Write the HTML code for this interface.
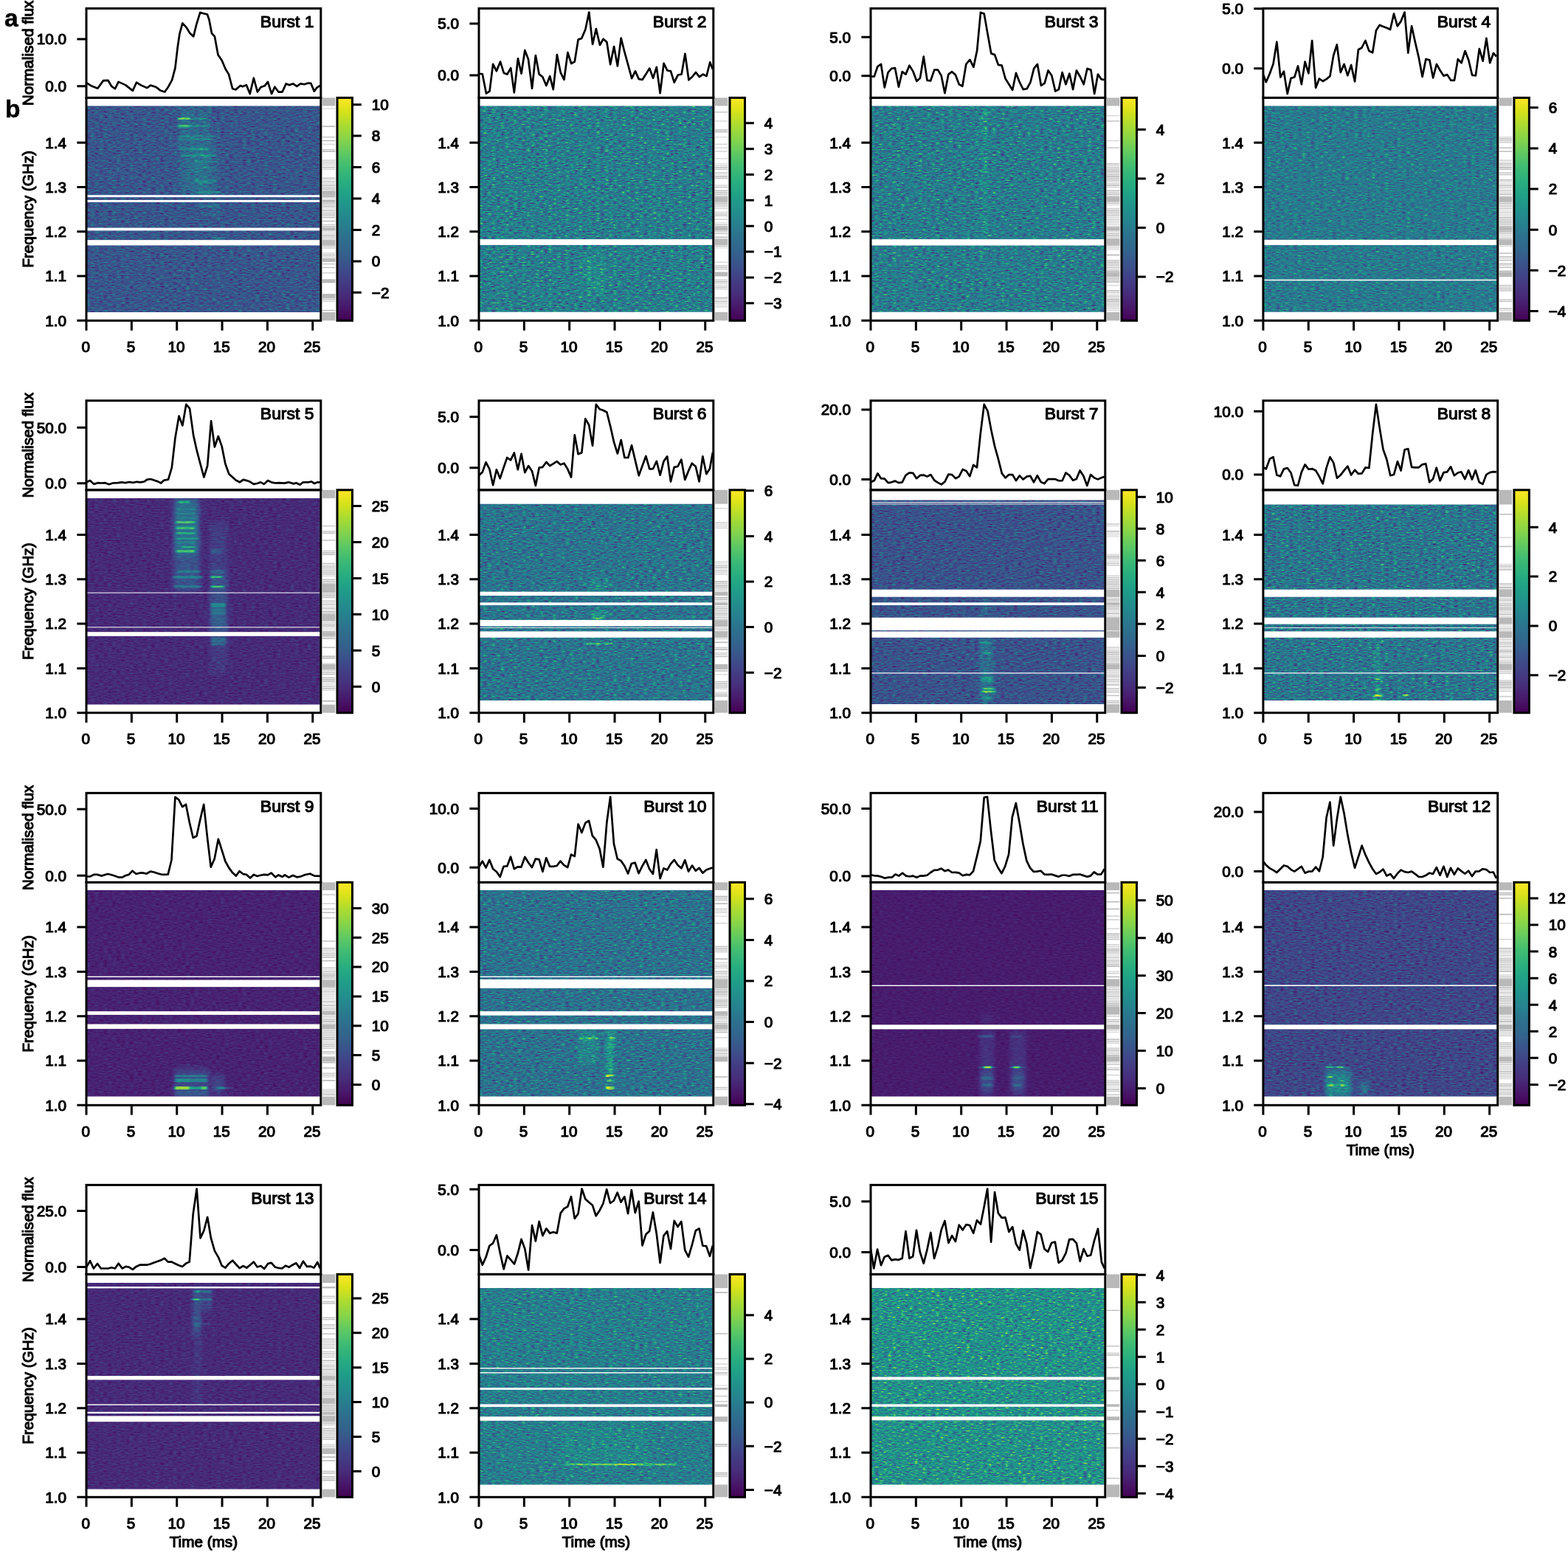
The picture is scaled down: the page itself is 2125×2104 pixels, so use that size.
<!DOCTYPE html>
<html><head><meta charset="utf-8"><title>Bursts</title>
<style>html,body{margin:0;padding:0;background:#fff}svg{display:block}.t text,.t{font-family:"Liberation Sans",Arial,Helvetica,sans-serif;font-size:20.7px;fill:#000;stroke:#000;stroke-width:1.15px;stroke-linejoin:round}.b{font-family:"Liberation Sans",Arial,Helvetica,sans-serif;font-size:33.5px;font-weight:bold;fill:#000;stroke:#000;stroke-width:0.5px;stroke-linejoin:round}</style></head>
<body>
<svg xmlns="http://www.w3.org/2000/svg" width="2125" height="2104" viewBox="0 0 2125 2104">
<rect width="2125" height="2104" fill="#fff"/>
<defs>
<filter id="soft" x="-30%" y="-30%" width="160%" height="160%" color-interpolation-filters="sRGB"><feGaussianBlur stdDeviation="2.5 5"/></filter>
<linearGradient id="vg" x1="0" y1="1" x2="0" y2="0"><stop offset="0" stop-color="#440154"/><stop offset="0.06" stop-color="#48186a"/><stop offset="0.12" stop-color="#472d7b"/><stop offset="0.19" stop-color="#424086"/><stop offset="0.25" stop-color="#3b528b"/><stop offset="0.31" stop-color="#33638d"/><stop offset="0.38" stop-color="#2c728e"/><stop offset="0.44" stop-color="#26828e"/><stop offset="0.5" stop-color="#21918c"/><stop offset="0.56" stop-color="#1fa088"/><stop offset="0.62" stop-color="#28ae80"/><stop offset="0.69" stop-color="#3fbc73"/><stop offset="0.75" stop-color="#5ec962"/><stop offset="0.81" stop-color="#84d44b"/><stop offset="0.88" stop-color="#addc30"/><stop offset="0.94" stop-color="#d8e219"/><stop offset="1" stop-color="#fde725"/></linearGradient>
<filter id="h1" filterUnits="userSpaceOnUse" x="-12" y="120" width="341.8" height="303.5" color-interpolation-filters="sRGB"><feTurbulence type="fractalNoise" baseFrequency="0.17 0.55" numOctaves="2" seed="10" result="n"/><feColorMatrix in="n" type="matrix" values="1 0 0 0 0 1 0 0 0 0 1 0 0 0 0 0 0 0 0 1"/><feComponentTransfer result="g"><feFuncR type="table" tableValues="0.200 0.200 0.210 0.230 0.260 0.310 0.365 0.405 0.440 0.472 0.500 0.528 0.560 0.595 0.635 0.710 0.780 0.820 0.840 0.850 0.850"/><feFuncG type="table" tableValues="0.200 0.200 0.210 0.230 0.260 0.310 0.365 0.405 0.440 0.472 0.500 0.528 0.560 0.595 0.635 0.710 0.780 0.820 0.840 0.850 0.850"/><feFuncB type="table" tableValues="0.200 0.200 0.210 0.230 0.260 0.310 0.365 0.405 0.440 0.472 0.500 0.528 0.560 0.595 0.635 0.710 0.780 0.820 0.840 0.850 0.850"/></feComponentTransfer><feGaussianBlur in="SourceGraphic" stdDeviation="1.5 0.45" result="s"/><feComposite in="s" in2="g" operator="arithmetic" k1="0" k2="1" k3="0.7030" k4="-0.3515"/><feComponentTransfer><feFuncR type="table" tableValues="0.2670 0.2770 0.2823 0.2829 0.2788 0.2706 0.2590 0.2450 0.2297 0.2143 0.1994 0.1856 0.1727 0.1607 0.1490 0.1378 0.1276 0.1206 0.1206 0.1323 0.1579 0.1966 0.2461 0.3041 0.3692 0.4401 0.5160 0.5958 0.6785 0.7624 0.8456 0.9261 0.9932"/><feFuncG type="table" tableValues="0.0049 0.0503 0.0950 0.1359 0.1755 0.2141 0.2515 0.2877 0.3224 0.3556 0.3876 0.4186 0.4488 0.4785 0.5081 0.5375 0.5669 0.5964 0.6258 0.6550 0.6838 0.7118 0.7389 0.7647 0.7889 0.8111 0.8312 0.8487 0.8637 0.8764 0.8873 0.8973 0.9062"/><feFuncB type="table" tableValues="0.3294 0.3757 0.4173 0.4534 0.4834 0.5071 0.5247 0.5373 0.5457 0.5512 0.5546 0.5568 0.5579 0.5581 0.5573 0.5549 0.5506 0.5436 0.5335 0.5197 0.5017 0.4792 0.4520 0.4199 0.3829 0.3410 0.2943 0.2433 0.1895 0.1371 0.0997 0.1041 0.1439"/><feFuncA type="linear" slope="0" intercept="1"/></feComponentTransfer></filter>
<clipPath id="c1"><rect x="1" y="132" width="315.8" height="279.5"/></clipPath>
<clipPath id="t1"><rect x="0" y="0" width="317.8" height="121"/></clipPath>
<filter id="h2" filterUnits="userSpaceOnUse" x="-12" y="120" width="341.8" height="303.4" color-interpolation-filters="sRGB"><feTurbulence type="fractalNoise" baseFrequency="0.17 0.55" numOctaves="2" seed="17" result="n"/><feColorMatrix in="n" type="matrix" values="1 0 0 0 0 1 0 0 0 0 1 0 0 0 0 0 0 0 0 1"/><feComponentTransfer result="g"><feFuncR type="table" tableValues="0.200 0.200 0.210 0.230 0.260 0.310 0.365 0.405 0.440 0.472 0.500 0.528 0.560 0.595 0.635 0.710 0.780 0.820 0.840 0.850 0.850"/><feFuncG type="table" tableValues="0.200 0.200 0.210 0.230 0.260 0.310 0.365 0.405 0.440 0.472 0.500 0.528 0.560 0.595 0.635 0.710 0.780 0.820 0.840 0.850 0.850"/><feFuncB type="table" tableValues="0.200 0.200 0.210 0.230 0.260 0.310 0.365 0.405 0.440 0.472 0.500 0.528 0.560 0.595 0.635 0.710 0.780 0.820 0.840 0.850 0.850"/></feComponentTransfer><feGaussianBlur in="SourceGraphic" stdDeviation="1.5 0.45" result="s"/><feComposite in="s" in2="g" operator="arithmetic" k1="0" k2="1" k3="1.1540" k4="-0.5770"/><feComponentTransfer><feFuncR type="table" tableValues="0.2670 0.2770 0.2823 0.2829 0.2788 0.2706 0.2590 0.2450 0.2297 0.2143 0.1994 0.1856 0.1727 0.1607 0.1490 0.1378 0.1276 0.1206 0.1206 0.1323 0.1579 0.1966 0.2461 0.3041 0.3692 0.4401 0.5160 0.5958 0.6785 0.7624 0.8456 0.9261 0.9932"/><feFuncG type="table" tableValues="0.0049 0.0503 0.0950 0.1359 0.1755 0.2141 0.2515 0.2877 0.3224 0.3556 0.3876 0.4186 0.4488 0.4785 0.5081 0.5375 0.5669 0.5964 0.6258 0.6550 0.6838 0.7118 0.7389 0.7647 0.7889 0.8111 0.8312 0.8487 0.8637 0.8764 0.8873 0.8973 0.9062"/><feFuncB type="table" tableValues="0.3294 0.3757 0.4173 0.4534 0.4834 0.5071 0.5247 0.5373 0.5457 0.5512 0.5546 0.5568 0.5579 0.5581 0.5573 0.5549 0.5506 0.5436 0.5335 0.5197 0.5017 0.4792 0.4520 0.4199 0.3829 0.3410 0.2943 0.2433 0.1895 0.1371 0.0997 0.1041 0.1439"/><feFuncA type="linear" slope="0" intercept="1"/></feComponentTransfer></filter>
<clipPath id="c2"><rect x="1" y="132" width="315.8" height="279.4"/></clipPath>
<clipPath id="t2"><rect x="0" y="0" width="317.8" height="121"/></clipPath>
<filter id="h3" filterUnits="userSpaceOnUse" x="-12" y="120" width="341.8" height="303.4" color-interpolation-filters="sRGB"><feTurbulence type="fractalNoise" baseFrequency="0.17 0.55" numOctaves="2" seed="24" result="n"/><feColorMatrix in="n" type="matrix" values="1 0 0 0 0 1 0 0 0 0 1 0 0 0 0 0 0 0 0 1"/><feComponentTransfer result="g"><feFuncR type="table" tableValues="0.200 0.200 0.210 0.230 0.260 0.310 0.365 0.405 0.440 0.472 0.500 0.528 0.560 0.595 0.635 0.710 0.780 0.820 0.840 0.850 0.850"/><feFuncG type="table" tableValues="0.200 0.200 0.210 0.230 0.260 0.310 0.365 0.405 0.440 0.472 0.500 0.528 0.560 0.595 0.635 0.710 0.780 0.820 0.840 0.850 0.850"/><feFuncB type="table" tableValues="0.200 0.200 0.210 0.230 0.260 0.310 0.365 0.405 0.440 0.472 0.500 0.528 0.560 0.595 0.635 0.710 0.780 0.820 0.840 0.850 0.850"/></feComponentTransfer><feGaussianBlur in="SourceGraphic" stdDeviation="1.5 0.45" result="s"/><feComposite in="s" in2="g" operator="arithmetic" k1="0" k2="1" k3="1.1020" k4="-0.5510"/><feComponentTransfer><feFuncR type="table" tableValues="0.2670 0.2770 0.2823 0.2829 0.2788 0.2706 0.2590 0.2450 0.2297 0.2143 0.1994 0.1856 0.1727 0.1607 0.1490 0.1378 0.1276 0.1206 0.1206 0.1323 0.1579 0.1966 0.2461 0.3041 0.3692 0.4401 0.5160 0.5958 0.6785 0.7624 0.8456 0.9261 0.9932"/><feFuncG type="table" tableValues="0.0049 0.0503 0.0950 0.1359 0.1755 0.2141 0.2515 0.2877 0.3224 0.3556 0.3876 0.4186 0.4488 0.4785 0.5081 0.5375 0.5669 0.5964 0.6258 0.6550 0.6838 0.7118 0.7389 0.7647 0.7889 0.8111 0.8312 0.8487 0.8637 0.8764 0.8873 0.8973 0.9062"/><feFuncB type="table" tableValues="0.3294 0.3757 0.4173 0.4534 0.4834 0.5071 0.5247 0.5373 0.5457 0.5512 0.5546 0.5568 0.5579 0.5581 0.5573 0.5549 0.5506 0.5436 0.5335 0.5197 0.5017 0.4792 0.4520 0.4199 0.3829 0.3410 0.2943 0.2433 0.1895 0.1371 0.0997 0.1041 0.1439"/><feFuncA type="linear" slope="0" intercept="1"/></feComponentTransfer></filter>
<clipPath id="c3"><rect x="1" y="132" width="315.8" height="279.4"/></clipPath>
<clipPath id="t3"><rect x="0" y="0" width="317.8" height="121"/></clipPath>
<filter id="h4" filterUnits="userSpaceOnUse" x="-12" y="120" width="341.8" height="303.4" color-interpolation-filters="sRGB"><feTurbulence type="fractalNoise" baseFrequency="0.17 0.55" numOctaves="2" seed="31" result="n"/><feColorMatrix in="n" type="matrix" values="1 0 0 0 0 1 0 0 0 0 1 0 0 0 0 0 0 0 0 1"/><feComponentTransfer result="g"><feFuncR type="table" tableValues="0.200 0.200 0.210 0.230 0.260 0.310 0.365 0.405 0.440 0.472 0.500 0.528 0.560 0.595 0.635 0.710 0.780 0.820 0.840 0.850 0.850"/><feFuncG type="table" tableValues="0.200 0.200 0.210 0.230 0.260 0.310 0.365 0.405 0.440 0.472 0.500 0.528 0.560 0.595 0.635 0.710 0.780 0.820 0.840 0.850 0.850"/><feFuncB type="table" tableValues="0.200 0.200 0.210 0.230 0.260 0.310 0.365 0.405 0.440 0.472 0.500 0.528 0.560 0.595 0.635 0.710 0.780 0.820 0.840 0.850 0.850"/></feComponentTransfer><feGaussianBlur in="SourceGraphic" stdDeviation="1.5 0.45" result="s"/><feComposite in="s" in2="g" operator="arithmetic" k1="0" k2="1" k3="0.9129" k4="-0.4564"/><feComponentTransfer><feFuncR type="table" tableValues="0.2670 0.2770 0.2823 0.2829 0.2788 0.2706 0.2590 0.2450 0.2297 0.2143 0.1994 0.1856 0.1727 0.1607 0.1490 0.1378 0.1276 0.1206 0.1206 0.1323 0.1579 0.1966 0.2461 0.3041 0.3692 0.4401 0.5160 0.5958 0.6785 0.7624 0.8456 0.9261 0.9932"/><feFuncG type="table" tableValues="0.0049 0.0503 0.0950 0.1359 0.1755 0.2141 0.2515 0.2877 0.3224 0.3556 0.3876 0.4186 0.4488 0.4785 0.5081 0.5375 0.5669 0.5964 0.6258 0.6550 0.6838 0.7118 0.7389 0.7647 0.7889 0.8111 0.8312 0.8487 0.8637 0.8764 0.8873 0.8973 0.9062"/><feFuncB type="table" tableValues="0.3294 0.3757 0.4173 0.4534 0.4834 0.5071 0.5247 0.5373 0.5457 0.5512 0.5546 0.5568 0.5579 0.5581 0.5573 0.5549 0.5506 0.5436 0.5335 0.5197 0.5017 0.4792 0.4520 0.4199 0.3829 0.3410 0.2943 0.2433 0.1895 0.1371 0.0997 0.1041 0.1439"/><feFuncA type="linear" slope="0" intercept="1"/></feComponentTransfer></filter>
<clipPath id="c4"><rect x="1" y="132" width="315.8" height="279.4"/></clipPath>
<clipPath id="t4"><rect x="0" y="0" width="317.8" height="121"/></clipPath>
<filter id="h5" filterUnits="userSpaceOnUse" x="-12" y="120.3" width="341.8" height="303.5" color-interpolation-filters="sRGB"><feTurbulence type="fractalNoise" baseFrequency="0.17 0.55" numOctaves="2" seed="38" result="n"/><feColorMatrix in="n" type="matrix" values="1 0 0 0 0 1 0 0 0 0 1 0 0 0 0 0 0 0 0 1"/><feComponentTransfer result="g"><feFuncR type="table" tableValues="0.200 0.200 0.210 0.230 0.260 0.310 0.365 0.405 0.440 0.472 0.500 0.528 0.560 0.595 0.635 0.710 0.780 0.820 0.840 0.850 0.850"/><feFuncG type="table" tableValues="0.200 0.200 0.210 0.230 0.260 0.310 0.365 0.405 0.440 0.472 0.500 0.528 0.560 0.595 0.635 0.710 0.780 0.820 0.840 0.850 0.850"/><feFuncB type="table" tableValues="0.200 0.200 0.210 0.230 0.260 0.310 0.365 0.405 0.440 0.472 0.500 0.528 0.560 0.595 0.635 0.710 0.780 0.820 0.840 0.850 0.850"/></feComponentTransfer><feGaussianBlur in="SourceGraphic" stdDeviation="1.5 0.45" result="s"/><feComposite in="s" in2="g" operator="arithmetic" k1="0" k2="1" k3="0.3243" k4="-0.1621"/><feComponentTransfer><feFuncR type="table" tableValues="0.2670 0.2770 0.2823 0.2829 0.2788 0.2706 0.2590 0.2450 0.2297 0.2143 0.1994 0.1856 0.1727 0.1607 0.1490 0.1378 0.1276 0.1206 0.1206 0.1323 0.1579 0.1966 0.2461 0.3041 0.3692 0.4401 0.5160 0.5958 0.6785 0.7624 0.8456 0.9261 0.9932"/><feFuncG type="table" tableValues="0.0049 0.0503 0.0950 0.1359 0.1755 0.2141 0.2515 0.2877 0.3224 0.3556 0.3876 0.4186 0.4488 0.4785 0.5081 0.5375 0.5669 0.5964 0.6258 0.6550 0.6838 0.7118 0.7389 0.7647 0.7889 0.8111 0.8312 0.8487 0.8637 0.8764 0.8873 0.8973 0.9062"/><feFuncB type="table" tableValues="0.3294 0.3757 0.4173 0.4534 0.4834 0.5071 0.5247 0.5373 0.5457 0.5512 0.5546 0.5568 0.5579 0.5581 0.5573 0.5549 0.5506 0.5436 0.5335 0.5197 0.5017 0.4792 0.4520 0.4199 0.3829 0.3410 0.2943 0.2433 0.1895 0.1371 0.0997 0.1041 0.1439"/><feFuncA type="linear" slope="0" intercept="1"/></feComponentTransfer></filter>
<clipPath id="c5"><rect x="1" y="132.3" width="315.8" height="279.5"/></clipPath>
<clipPath id="t5"><rect x="0" y="0" width="317.8" height="121"/></clipPath>
<filter id="h6" filterUnits="userSpaceOnUse" x="-12" y="127.9" width="341.8" height="290.3" color-interpolation-filters="sRGB"><feTurbulence type="fractalNoise" baseFrequency="0.17 0.55" numOctaves="2" seed="45" result="n"/><feColorMatrix in="n" type="matrix" values="1 0 0 0 0 1 0 0 0 0 1 0 0 0 0 0 0 0 0 1"/><feComponentTransfer result="g"><feFuncR type="table" tableValues="0.200 0.200 0.210 0.230 0.260 0.310 0.365 0.405 0.440 0.472 0.500 0.528 0.560 0.595 0.635 0.710 0.780 0.820 0.840 0.850 0.850"/><feFuncG type="table" tableValues="0.200 0.200 0.210 0.230 0.260 0.310 0.365 0.405 0.440 0.472 0.500 0.528 0.560 0.595 0.635 0.710 0.780 0.820 0.840 0.850 0.850"/><feFuncB type="table" tableValues="0.200 0.200 0.210 0.230 0.260 0.310 0.365 0.405 0.440 0.472 0.500 0.528 0.560 0.595 0.635 0.710 0.780 0.820 0.840 0.850 0.850"/></feComponentTransfer><feGaussianBlur in="SourceGraphic" stdDeviation="1.5 0.45" result="s"/><feComposite in="s" in2="g" operator="arithmetic" k1="0" k2="1" k3="1.0202" k4="-0.5101"/><feComponentTransfer><feFuncR type="table" tableValues="0.2670 0.2770 0.2823 0.2829 0.2788 0.2706 0.2590 0.2450 0.2297 0.2143 0.1994 0.1856 0.1727 0.1607 0.1490 0.1378 0.1276 0.1206 0.1206 0.1323 0.1579 0.1966 0.2461 0.3041 0.3692 0.4401 0.5160 0.5958 0.6785 0.7624 0.8456 0.9261 0.9932"/><feFuncG type="table" tableValues="0.0049 0.0503 0.0950 0.1359 0.1755 0.2141 0.2515 0.2877 0.3224 0.3556 0.3876 0.4186 0.4488 0.4785 0.5081 0.5375 0.5669 0.5964 0.6258 0.6550 0.6838 0.7118 0.7389 0.7647 0.7889 0.8111 0.8312 0.8487 0.8637 0.8764 0.8873 0.8973 0.9062"/><feFuncB type="table" tableValues="0.3294 0.3757 0.4173 0.4534 0.4834 0.5071 0.5247 0.5373 0.5457 0.5512 0.5546 0.5568 0.5579 0.5581 0.5573 0.5549 0.5506 0.5436 0.5335 0.5197 0.5017 0.4792 0.4520 0.4199 0.3829 0.3410 0.2943 0.2433 0.1895 0.1371 0.0997 0.1041 0.1439"/><feFuncA type="linear" slope="0" intercept="1"/></feComponentTransfer></filter>
<clipPath id="c6"><rect x="1" y="139.9" width="315.8" height="266.3"/></clipPath>
<clipPath id="t6"><rect x="0" y="0" width="317.8" height="121"/></clipPath>
<filter id="h7" filterUnits="userSpaceOnUse" x="-12" y="122.6" width="341.8" height="300.7" color-interpolation-filters="sRGB"><feTurbulence type="fractalNoise" baseFrequency="0.17 0.55" numOctaves="2" seed="52" result="n"/><feColorMatrix in="n" type="matrix" values="1 0 0 0 0 1 0 0 0 0 1 0 0 0 0 0 0 0 0 1"/><feComponentTransfer result="g"><feFuncR type="table" tableValues="0.200 0.200 0.210 0.230 0.260 0.310 0.365 0.405 0.440 0.472 0.500 0.528 0.560 0.595 0.635 0.710 0.780 0.820 0.840 0.850 0.850"/><feFuncG type="table" tableValues="0.200 0.200 0.210 0.230 0.260 0.310 0.365 0.405 0.440 0.472 0.500 0.528 0.560 0.595 0.635 0.710 0.780 0.820 0.840 0.850 0.850"/><feFuncB type="table" tableValues="0.200 0.200 0.210 0.230 0.260 0.310 0.365 0.405 0.440 0.472 0.500 0.528 0.560 0.595 0.635 0.710 0.780 0.820 0.840 0.850 0.850"/></feComponentTransfer><feGaussianBlur in="SourceGraphic" stdDeviation="1.5 0.45" result="s"/><feComposite in="s" in2="g" operator="arithmetic" k1="0" k2="1" k3="0.7128" k4="-0.3564"/><feComponentTransfer><feFuncR type="table" tableValues="0.2670 0.2770 0.2823 0.2829 0.2788 0.2706 0.2590 0.2450 0.2297 0.2143 0.1994 0.1856 0.1727 0.1607 0.1490 0.1378 0.1276 0.1206 0.1206 0.1323 0.1579 0.1966 0.2461 0.3041 0.3692 0.4401 0.5160 0.5958 0.6785 0.7624 0.8456 0.9261 0.9932"/><feFuncG type="table" tableValues="0.0049 0.0503 0.0950 0.1359 0.1755 0.2141 0.2515 0.2877 0.3224 0.3556 0.3876 0.4186 0.4488 0.4785 0.5081 0.5375 0.5669 0.5964 0.6258 0.6550 0.6838 0.7118 0.7389 0.7647 0.7889 0.8111 0.8312 0.8487 0.8637 0.8764 0.8873 0.8973 0.9062"/><feFuncB type="table" tableValues="0.3294 0.3757 0.4173 0.4534 0.4834 0.5071 0.5247 0.5373 0.5457 0.5512 0.5546 0.5568 0.5579 0.5581 0.5573 0.5549 0.5506 0.5436 0.5335 0.5197 0.5017 0.4792 0.4520 0.4199 0.3829 0.3410 0.2943 0.2433 0.1895 0.1371 0.0997 0.1041 0.1439"/><feFuncA type="linear" slope="0" intercept="1"/></feComponentTransfer></filter>
<clipPath id="c7"><rect x="1" y="134.6" width="315.8" height="276.7"/></clipPath>
<clipPath id="t7"><rect x="0" y="0" width="317.8" height="121"/></clipPath>
<filter id="h8" filterUnits="userSpaceOnUse" x="-12" y="128.7" width="341.8" height="289.5" color-interpolation-filters="sRGB"><feTurbulence type="fractalNoise" baseFrequency="0.17 0.55" numOctaves="2" seed="59" result="n"/><feColorMatrix in="n" type="matrix" values="1 0 0 0 0 1 0 0 0 0 1 0 0 0 0 0 0 0 0 1"/><feComponentTransfer result="g"><feFuncR type="table" tableValues="0.200 0.200 0.210 0.230 0.260 0.310 0.365 0.405 0.440 0.472 0.500 0.528 0.560 0.595 0.635 0.710 0.780 0.820 0.840 0.850 0.850"/><feFuncG type="table" tableValues="0.200 0.200 0.210 0.230 0.260 0.310 0.365 0.405 0.440 0.472 0.500 0.528 0.560 0.595 0.635 0.710 0.780 0.820 0.840 0.850 0.850"/><feFuncB type="table" tableValues="0.200 0.200 0.210 0.230 0.260 0.310 0.365 0.405 0.440 0.472 0.500 0.528 0.560 0.595 0.635 0.710 0.780 0.820 0.840 0.850 0.850"/></feComponentTransfer><feGaussianBlur in="SourceGraphic" stdDeviation="1.5 0.45" result="s"/><feComposite in="s" in2="g" operator="arithmetic" k1="0" k2="1" k3="1.1063" k4="-0.5532"/><feComponentTransfer><feFuncR type="table" tableValues="0.2670 0.2770 0.2823 0.2829 0.2788 0.2706 0.2590 0.2450 0.2297 0.2143 0.1994 0.1856 0.1727 0.1607 0.1490 0.1378 0.1276 0.1206 0.1206 0.1323 0.1579 0.1966 0.2461 0.3041 0.3692 0.4401 0.5160 0.5958 0.6785 0.7624 0.8456 0.9261 0.9932"/><feFuncG type="table" tableValues="0.0049 0.0503 0.0950 0.1359 0.1755 0.2141 0.2515 0.2877 0.3224 0.3556 0.3876 0.4186 0.4488 0.4785 0.5081 0.5375 0.5669 0.5964 0.6258 0.6550 0.6838 0.7118 0.7389 0.7647 0.7889 0.8111 0.8312 0.8487 0.8637 0.8764 0.8873 0.8973 0.9062"/><feFuncB type="table" tableValues="0.3294 0.3757 0.4173 0.4534 0.4834 0.5071 0.5247 0.5373 0.5457 0.5512 0.5546 0.5568 0.5579 0.5581 0.5573 0.5549 0.5506 0.5436 0.5335 0.5197 0.5017 0.4792 0.4520 0.4199 0.3829 0.3410 0.2943 0.2433 0.1895 0.1371 0.0997 0.1041 0.1439"/><feFuncA type="linear" slope="0" intercept="1"/></feComponentTransfer></filter>
<clipPath id="c8"><rect x="1" y="140.7" width="315.8" height="265.5"/></clipPath>
<clipPath id="t8"><rect x="0" y="0" width="317.8" height="121"/></clipPath>
<filter id="h9" filterUnits="userSpaceOnUse" x="-12" y="119.7" width="341.8" height="303.5" color-interpolation-filters="sRGB"><feTurbulence type="fractalNoise" baseFrequency="0.17 0.55" numOctaves="2" seed="66" result="n"/><feColorMatrix in="n" type="matrix" values="1 0 0 0 0 1 0 0 0 0 1 0 0 0 0 0 0 0 0 1"/><feComponentTransfer result="g"><feFuncR type="table" tableValues="0.200 0.200 0.210 0.230 0.260 0.310 0.365 0.405 0.440 0.472 0.500 0.528 0.560 0.595 0.635 0.710 0.780 0.820 0.840 0.850 0.850"/><feFuncG type="table" tableValues="0.200 0.200 0.210 0.230 0.260 0.310 0.365 0.405 0.440 0.472 0.500 0.528 0.560 0.595 0.635 0.710 0.780 0.820 0.840 0.850 0.850"/><feFuncB type="table" tableValues="0.200 0.200 0.210 0.230 0.260 0.310 0.365 0.405 0.440 0.472 0.500 0.528 0.560 0.595 0.635 0.710 0.780 0.820 0.840 0.850 0.850"/></feComponentTransfer><feGaussianBlur in="SourceGraphic" stdDeviation="1.5 0.45" result="s"/><feComposite in="s" in2="g" operator="arithmetic" k1="0" k2="1" k3="0.2639" k4="-0.1319"/><feComponentTransfer><feFuncR type="table" tableValues="0.2670 0.2770 0.2823 0.2829 0.2788 0.2706 0.2590 0.2450 0.2297 0.2143 0.1994 0.1856 0.1727 0.1607 0.1490 0.1378 0.1276 0.1206 0.1206 0.1323 0.1579 0.1966 0.2461 0.3041 0.3692 0.4401 0.5160 0.5958 0.6785 0.7624 0.8456 0.9261 0.9932"/><feFuncG type="table" tableValues="0.0049 0.0503 0.0950 0.1359 0.1755 0.2141 0.2515 0.2877 0.3224 0.3556 0.3876 0.4186 0.4488 0.4785 0.5081 0.5375 0.5669 0.5964 0.6258 0.6550 0.6838 0.7118 0.7389 0.7647 0.7889 0.8111 0.8312 0.8487 0.8637 0.8764 0.8873 0.8973 0.9062"/><feFuncB type="table" tableValues="0.3294 0.3757 0.4173 0.4534 0.4834 0.5071 0.5247 0.5373 0.5457 0.5512 0.5546 0.5568 0.5579 0.5581 0.5573 0.5549 0.5506 0.5436 0.5335 0.5197 0.5017 0.4792 0.4520 0.4199 0.3829 0.3410 0.2943 0.2433 0.1895 0.1371 0.0997 0.1041 0.1439"/><feFuncA type="linear" slope="0" intercept="1"/></feComponentTransfer></filter>
<clipPath id="c9"><rect x="1" y="131.7" width="315.8" height="279.5"/></clipPath>
<clipPath id="t9"><rect x="0" y="0" width="317.8" height="121"/></clipPath>
<filter id="h10" filterUnits="userSpaceOnUse" x="-12" y="119.7" width="341.8" height="303.5" color-interpolation-filters="sRGB"><feTurbulence type="fractalNoise" baseFrequency="0.17 0.55" numOctaves="2" seed="73" result="n"/><feColorMatrix in="n" type="matrix" values="1 0 0 0 0 1 0 0 0 0 1 0 0 0 0 0 0 0 0 1"/><feComponentTransfer result="g"><feFuncR type="table" tableValues="0.200 0.200 0.210 0.230 0.260 0.310 0.365 0.405 0.440 0.472 0.500 0.528 0.560 0.595 0.635 0.710 0.780 0.820 0.840 0.850 0.850"/><feFuncG type="table" tableValues="0.200 0.200 0.210 0.230 0.260 0.310 0.365 0.405 0.440 0.472 0.500 0.528 0.560 0.595 0.635 0.710 0.780 0.820 0.840 0.850 0.850"/><feFuncB type="table" tableValues="0.200 0.200 0.210 0.230 0.260 0.310 0.365 0.405 0.440 0.472 0.500 0.528 0.560 0.595 0.635 0.710 0.780 0.820 0.840 0.850 0.850"/></feComponentTransfer><feGaussianBlur in="SourceGraphic" stdDeviation="1.5 0.45" result="s"/><feComposite in="s" in2="g" operator="arithmetic" k1="0" k2="1" k3="0.9208" k4="-0.4604"/><feComponentTransfer><feFuncR type="table" tableValues="0.2670 0.2770 0.2823 0.2829 0.2788 0.2706 0.2590 0.2450 0.2297 0.2143 0.1994 0.1856 0.1727 0.1607 0.1490 0.1378 0.1276 0.1206 0.1206 0.1323 0.1579 0.1966 0.2461 0.3041 0.3692 0.4401 0.5160 0.5958 0.6785 0.7624 0.8456 0.9261 0.9932"/><feFuncG type="table" tableValues="0.0049 0.0503 0.0950 0.1359 0.1755 0.2141 0.2515 0.2877 0.3224 0.3556 0.3876 0.4186 0.4488 0.4785 0.5081 0.5375 0.5669 0.5964 0.6258 0.6550 0.6838 0.7118 0.7389 0.7647 0.7889 0.8111 0.8312 0.8487 0.8637 0.8764 0.8873 0.8973 0.9062"/><feFuncB type="table" tableValues="0.3294 0.3757 0.4173 0.4534 0.4834 0.5071 0.5247 0.5373 0.5457 0.5512 0.5546 0.5568 0.5579 0.5581 0.5573 0.5549 0.5506 0.5436 0.5335 0.5197 0.5017 0.4792 0.4520 0.4199 0.3829 0.3410 0.2943 0.2433 0.1895 0.1371 0.0997 0.1041 0.1439"/><feFuncA type="linear" slope="0" intercept="1"/></feComponentTransfer></filter>
<clipPath id="c10"><rect x="1" y="131.7" width="315.8" height="279.5"/></clipPath>
<clipPath id="t10"><rect x="0" y="0" width="317.8" height="121"/></clipPath>
<filter id="h11" filterUnits="userSpaceOnUse" x="-12" y="119.7" width="341.8" height="303.5" color-interpolation-filters="sRGB"><feTurbulence type="fractalNoise" baseFrequency="0.17 0.55" numOctaves="2" seed="80" result="n"/><feColorMatrix in="n" type="matrix" values="1 0 0 0 0 1 0 0 0 0 1 0 0 0 0 0 0 0 0 1"/><feComponentTransfer result="g"><feFuncR type="table" tableValues="0.200 0.200 0.210 0.230 0.260 0.310 0.365 0.405 0.440 0.472 0.500 0.528 0.560 0.595 0.635 0.710 0.780 0.820 0.840 0.850 0.850"/><feFuncG type="table" tableValues="0.200 0.200 0.210 0.230 0.260 0.310 0.365 0.405 0.440 0.472 0.500 0.528 0.560 0.595 0.635 0.710 0.780 0.820 0.840 0.850 0.850"/><feFuncB type="table" tableValues="0.200 0.200 0.210 0.230 0.260 0.310 0.365 0.405 0.440 0.472 0.500 0.528 0.560 0.595 0.635 0.710 0.780 0.820 0.840 0.850 0.850"/></feComponentTransfer><feGaussianBlur in="SourceGraphic" stdDeviation="1.5 0.45" result="s"/><feComposite in="s" in2="g" operator="arithmetic" k1="0" k2="1" k3="0.1687" k4="-0.0843"/><feComponentTransfer><feFuncR type="table" tableValues="0.2670 0.2770 0.2823 0.2829 0.2788 0.2706 0.2590 0.2450 0.2297 0.2143 0.1994 0.1856 0.1727 0.1607 0.1490 0.1378 0.1276 0.1206 0.1206 0.1323 0.1579 0.1966 0.2461 0.3041 0.3692 0.4401 0.5160 0.5958 0.6785 0.7624 0.8456 0.9261 0.9932"/><feFuncG type="table" tableValues="0.0049 0.0503 0.0950 0.1359 0.1755 0.2141 0.2515 0.2877 0.3224 0.3556 0.3876 0.4186 0.4488 0.4785 0.5081 0.5375 0.5669 0.5964 0.6258 0.6550 0.6838 0.7118 0.7389 0.7647 0.7889 0.8111 0.8312 0.8487 0.8637 0.8764 0.8873 0.8973 0.9062"/><feFuncB type="table" tableValues="0.3294 0.3757 0.4173 0.4534 0.4834 0.5071 0.5247 0.5373 0.5457 0.5512 0.5546 0.5568 0.5579 0.5581 0.5573 0.5549 0.5506 0.5436 0.5335 0.5197 0.5017 0.4792 0.4520 0.4199 0.3829 0.3410 0.2943 0.2433 0.1895 0.1371 0.0997 0.1041 0.1439"/><feFuncA type="linear" slope="0" intercept="1"/></feComponentTransfer></filter>
<clipPath id="c11"><rect x="1" y="131.7" width="315.8" height="279.5"/></clipPath>
<clipPath id="t11"><rect x="0" y="0" width="317.8" height="121"/></clipPath>
<filter id="h12" filterUnits="userSpaceOnUse" x="-12" y="119.7" width="341.8" height="303.5" color-interpolation-filters="sRGB"><feTurbulence type="fractalNoise" baseFrequency="0.17 0.55" numOctaves="2" seed="87" result="n"/><feColorMatrix in="n" type="matrix" values="1 0 0 0 0 1 0 0 0 0 1 0 0 0 0 0 0 0 0 1"/><feComponentTransfer result="g"><feFuncR type="table" tableValues="0.200 0.200 0.210 0.230 0.260 0.310 0.365 0.405 0.440 0.472 0.500 0.528 0.560 0.595 0.635 0.710 0.780 0.820 0.840 0.850 0.850"/><feFuncG type="table" tableValues="0.200 0.200 0.210 0.230 0.260 0.310 0.365 0.405 0.440 0.472 0.500 0.528 0.560 0.595 0.635 0.710 0.780 0.820 0.840 0.850 0.850"/><feFuncB type="table" tableValues="0.200 0.200 0.210 0.230 0.260 0.310 0.365 0.405 0.440 0.472 0.500 0.528 0.560 0.595 0.635 0.710 0.780 0.820 0.840 0.850 0.850"/></feComponentTransfer><feGaussianBlur in="SourceGraphic" stdDeviation="1.5 0.45" result="s"/><feComposite in="s" in2="g" operator="arithmetic" k1="0" k2="1" k3="0.5972" k4="-0.2986"/><feComponentTransfer><feFuncR type="table" tableValues="0.2670 0.2770 0.2823 0.2829 0.2788 0.2706 0.2590 0.2450 0.2297 0.2143 0.1994 0.1856 0.1727 0.1607 0.1490 0.1378 0.1276 0.1206 0.1206 0.1323 0.1579 0.1966 0.2461 0.3041 0.3692 0.4401 0.5160 0.5958 0.6785 0.7624 0.8456 0.9261 0.9932"/><feFuncG type="table" tableValues="0.0049 0.0503 0.0950 0.1359 0.1755 0.2141 0.2515 0.2877 0.3224 0.3556 0.3876 0.4186 0.4488 0.4785 0.5081 0.5375 0.5669 0.5964 0.6258 0.6550 0.6838 0.7118 0.7389 0.7647 0.7889 0.8111 0.8312 0.8487 0.8637 0.8764 0.8873 0.8973 0.9062"/><feFuncB type="table" tableValues="0.3294 0.3757 0.4173 0.4534 0.4834 0.5071 0.5247 0.5373 0.5457 0.5512 0.5546 0.5568 0.5579 0.5581 0.5573 0.5549 0.5506 0.5436 0.5335 0.5197 0.5017 0.4792 0.4520 0.4199 0.3829 0.3410 0.2943 0.2433 0.1895 0.1371 0.0997 0.1041 0.1439"/><feFuncA type="linear" slope="0" intercept="1"/></feComponentTransfer></filter>
<clipPath id="c12"><rect x="1" y="131.7" width="315.8" height="279.5"/></clipPath>
<clipPath id="t12"><rect x="0" y="0" width="317.8" height="121"/></clipPath>
<filter id="h13" filterUnits="userSpaceOnUse" x="-12" y="120.7" width="341.8" height="303.5" color-interpolation-filters="sRGB"><feTurbulence type="fractalNoise" baseFrequency="0.17 0.55" numOctaves="2" seed="94" result="n"/><feColorMatrix in="n" type="matrix" values="1 0 0 0 0 1 0 0 0 0 1 0 0 0 0 0 0 0 0 1"/><feComponentTransfer result="g"><feFuncR type="table" tableValues="0.200 0.200 0.210 0.230 0.260 0.310 0.365 0.405 0.440 0.472 0.500 0.528 0.560 0.595 0.635 0.710 0.780 0.820 0.840 0.850 0.850"/><feFuncG type="table" tableValues="0.200 0.200 0.210 0.230 0.260 0.310 0.365 0.405 0.440 0.472 0.500 0.528 0.560 0.595 0.635 0.710 0.780 0.820 0.840 0.850 0.850"/><feFuncB type="table" tableValues="0.200 0.200 0.210 0.230 0.260 0.310 0.365 0.405 0.440 0.472 0.500 0.528 0.560 0.595 0.635 0.710 0.780 0.820 0.840 0.850 0.850"/></feComponentTransfer><feGaussianBlur in="SourceGraphic" stdDeviation="1.5 0.45" result="s"/><feComposite in="s" in2="g" operator="arithmetic" k1="0" k2="1" k3="0.3104" k4="-0.1552"/><feComponentTransfer><feFuncR type="table" tableValues="0.2670 0.2770 0.2823 0.2829 0.2788 0.2706 0.2590 0.2450 0.2297 0.2143 0.1994 0.1856 0.1727 0.1607 0.1490 0.1378 0.1276 0.1206 0.1206 0.1323 0.1579 0.1966 0.2461 0.3041 0.3692 0.4401 0.5160 0.5958 0.6785 0.7624 0.8456 0.9261 0.9932"/><feFuncG type="table" tableValues="0.0049 0.0503 0.0950 0.1359 0.1755 0.2141 0.2515 0.2877 0.3224 0.3556 0.3876 0.4186 0.4488 0.4785 0.5081 0.5375 0.5669 0.5964 0.6258 0.6550 0.6838 0.7118 0.7389 0.7647 0.7889 0.8111 0.8312 0.8487 0.8637 0.8764 0.8873 0.8973 0.9062"/><feFuncB type="table" tableValues="0.3294 0.3757 0.4173 0.4534 0.4834 0.5071 0.5247 0.5373 0.5457 0.5512 0.5546 0.5568 0.5579 0.5581 0.5573 0.5549 0.5506 0.5436 0.5335 0.5197 0.5017 0.4792 0.4520 0.4199 0.3829 0.3410 0.2943 0.2433 0.1895 0.1371 0.0997 0.1041 0.1439"/><feFuncA type="linear" slope="0" intercept="1"/></feComponentTransfer></filter>
<clipPath id="c13"><rect x="1" y="132.7" width="315.8" height="279.5"/></clipPath>
<clipPath id="t13"><rect x="0" y="0" width="317.8" height="121"/></clipPath>
<filter id="h14" filterUnits="userSpaceOnUse" x="-12" y="127.7" width="341.8" height="290.3" color-interpolation-filters="sRGB"><feTurbulence type="fractalNoise" baseFrequency="0.17 0.55" numOctaves="2" seed="101" result="n"/><feColorMatrix in="n" type="matrix" values="1 0 0 0 0 1 0 0 0 0 1 0 0 0 0 0 0 0 0 1"/><feComponentTransfer result="g"><feFuncR type="table" tableValues="0.200 0.200 0.210 0.230 0.260 0.310 0.365 0.405 0.440 0.472 0.500 0.528 0.560 0.595 0.635 0.710 0.780 0.820 0.840 0.850 0.850"/><feFuncG type="table" tableValues="0.200 0.200 0.210 0.230 0.260 0.310 0.365 0.405 0.440 0.472 0.500 0.528 0.560 0.595 0.635 0.710 0.780 0.820 0.840 0.850 0.850"/><feFuncB type="table" tableValues="0.200 0.200 0.210 0.230 0.260 0.310 0.365 0.405 0.440 0.472 0.500 0.528 0.560 0.595 0.635 0.710 0.780 0.820 0.840 0.850 0.850"/></feComponentTransfer><feGaussianBlur in="SourceGraphic" stdDeviation="1.5 0.45" result="s"/><feComposite in="s" in2="g" operator="arithmetic" k1="0" k2="1" k3="0.9805" k4="-0.4902"/><feComponentTransfer><feFuncR type="table" tableValues="0.2670 0.2770 0.2823 0.2829 0.2788 0.2706 0.2590 0.2450 0.2297 0.2143 0.1994 0.1856 0.1727 0.1607 0.1490 0.1378 0.1276 0.1206 0.1206 0.1323 0.1579 0.1966 0.2461 0.3041 0.3692 0.4401 0.5160 0.5958 0.6785 0.7624 0.8456 0.9261 0.9932"/><feFuncG type="table" tableValues="0.0049 0.0503 0.0950 0.1359 0.1755 0.2141 0.2515 0.2877 0.3224 0.3556 0.3876 0.4186 0.4488 0.4785 0.5081 0.5375 0.5669 0.5964 0.6258 0.6550 0.6838 0.7118 0.7389 0.7647 0.7889 0.8111 0.8312 0.8487 0.8637 0.8764 0.8873 0.8973 0.9062"/><feFuncB type="table" tableValues="0.3294 0.3757 0.4173 0.4534 0.4834 0.5071 0.5247 0.5373 0.5457 0.5512 0.5546 0.5568 0.5579 0.5581 0.5573 0.5549 0.5506 0.5436 0.5335 0.5197 0.5017 0.4792 0.4520 0.4199 0.3829 0.3410 0.2943 0.2433 0.1895 0.1371 0.0997 0.1041 0.1439"/><feFuncA type="linear" slope="0" intercept="1"/></feComponentTransfer></filter>
<clipPath id="c14"><rect x="1" y="139.7" width="315.8" height="266.3"/></clipPath>
<clipPath id="t14"><rect x="0" y="0" width="317.8" height="121"/></clipPath>
<filter id="h15" filterUnits="userSpaceOnUse" x="-12" y="127.7" width="341.8" height="290.3" color-interpolation-filters="sRGB"><feTurbulence type="fractalNoise" baseFrequency="0.17 0.55" numOctaves="2" seed="108" result="n"/><feColorMatrix in="n" type="matrix" values="1 0 0 0 0 1 0 0 0 0 1 0 0 0 0 0 0 0 0 1"/><feComponentTransfer result="g"><feFuncR type="table" tableValues="0.200 0.200 0.210 0.230 0.260 0.310 0.365 0.405 0.440 0.472 0.500 0.528 0.560 0.595 0.635 0.710 0.780 0.820 0.840 0.850 0.850"/><feFuncG type="table" tableValues="0.200 0.200 0.210 0.230 0.260 0.310 0.365 0.405 0.440 0.472 0.500 0.528 0.560 0.595 0.635 0.710 0.780 0.820 0.840 0.850 0.850"/><feFuncB type="table" tableValues="0.200 0.200 0.210 0.230 0.260 0.310 0.365 0.405 0.440 0.472 0.500 0.528 0.560 0.595 0.635 0.710 0.780 0.820 0.840 0.850 0.850"/></feComponentTransfer><feGaussianBlur in="SourceGraphic" stdDeviation="1.5 0.45" result="s"/><feComposite in="s" in2="g" operator="arithmetic" k1="0" k2="1" k3="1.2256" k4="-0.6128"/><feComponentTransfer><feFuncR type="table" tableValues="0.2670 0.2770 0.2823 0.2829 0.2788 0.2706 0.2590 0.2450 0.2297 0.2143 0.1994 0.1856 0.1727 0.1607 0.1490 0.1378 0.1276 0.1206 0.1206 0.1323 0.1579 0.1966 0.2461 0.3041 0.3692 0.4401 0.5160 0.5958 0.6785 0.7624 0.8456 0.9261 0.9932"/><feFuncG type="table" tableValues="0.0049 0.0503 0.0950 0.1359 0.1755 0.2141 0.2515 0.2877 0.3224 0.3556 0.3876 0.4186 0.4488 0.4785 0.5081 0.5375 0.5669 0.5964 0.6258 0.6550 0.6838 0.7118 0.7389 0.7647 0.7889 0.8111 0.8312 0.8487 0.8637 0.8764 0.8873 0.8973 0.9062"/><feFuncB type="table" tableValues="0.3294 0.3757 0.4173 0.4534 0.4834 0.5071 0.5247 0.5373 0.5457 0.5512 0.5546 0.5568 0.5579 0.5581 0.5573 0.5549 0.5506 0.5436 0.5335 0.5197 0.5017 0.4792 0.4520 0.4199 0.3829 0.3410 0.2943 0.2433 0.1895 0.1371 0.0997 0.1041 0.1439"/><feFuncA type="linear" slope="0" intercept="1"/></feComponentTransfer></filter>
<clipPath id="c15"><rect x="1" y="139.7" width="315.8" height="266.3"/></clipPath>
<clipPath id="t15"><rect x="0" y="0" width="317.8" height="121"/></clipPath>
</defs>
<g transform="translate(117,11.45)">
<g clip-path="url(#c1)"><g filter="url(#h1)">
<rect x="-17" y="115" width="351.8" height="313.5" fill="rgb(68,68,68)"/>
<g filter="url(#soft)"><rect x="126" y="134" width="42" height="116" fill="#fff" fill-opacity="0.096"/><rect x="142" y="185" width="38" height="65" fill="#fff" fill-opacity="0.058"/></g>
<rect x="124.3" y="147.8" width="16.1" height="2.9" fill="#fff" fill-opacity="0.719"/>
<rect x="140.4" y="148.2" width="23" height="2.2" fill="#fff" fill-opacity="0.240"/>
<rect x="124.3" y="157.6" width="16.1" height="3.4" fill="#fff" fill-opacity="0.575"/>
<rect x="140.4" y="158" width="27.6" height="2.6" fill="#fff" fill-opacity="0.192"/>
<rect x="124.3" y="172" width="50.7" height="2.3" fill="#fff" fill-opacity="0.211"/>
<rect x="124.3" y="176" width="50.7" height="2.3" fill="#fff" fill-opacity="0.192"/>
<rect x="124.3" y="188.7" width="42.6" height="3.3" fill="#fff" fill-opacity="0.220"/>
<rect x="152" y="188.7" width="12" height="3.3" fill="#fff" fill-opacity="0.144"/>
<rect x="129" y="197.9" width="46" height="2.8" fill="#fff" fill-opacity="0.211"/>
<rect x="156" y="197.9" width="10" height="2.8" fill="#fff" fill-opacity="0.144"/>
<rect x="147" y="206" width="30" height="3" fill="#fff" fill-opacity="0.115"/>
<rect x="147" y="214" width="30" height="3" fill="#fff" fill-opacity="0.096"/>
<rect x="147.3" y="232.4" width="29.9" height="4.6" fill="#fff" fill-opacity="0.153"/>
<rect x="149.6" y="247.3" width="31.1" height="3.5" fill="#fff" fill-opacity="0.230"/>
<rect x="152" y="265.7" width="28.7" height="4.6" fill="#fff" fill-opacity="0.153"/>
<rect x="155" y="276" width="27" height="4" fill="#fff" fill-opacity="0.086"/>
<rect x="170.3" y="309.4" width="16.1" height="3.5" fill="#fff" fill-opacity="0.173"/>
</g></g>
<rect x="0" y="252.8" width="317.8" height="2.9" fill="#fff"/>
<rect x="0" y="259.5" width="317.8" height="2.9" fill="#fff"/>
<rect x="0" y="297.2" width="317.8" height="3.8" fill="#fff"/>
<rect x="0" y="313.7" width="317.8" height="7.3" fill="#fff"/>
<g fill="#b9b9b9">
<rect x="319.9" y="121" width="17.4" height="11"/>
<rect x="319.9" y="411.5" width="17.4" height="11.4"/>
<rect x="319.9" y="252.8" width="17.4" height="2.9"/>
<rect x="319.9" y="259.5" width="17.4" height="2.9"/>
<rect x="319.9" y="297.2" width="17.4" height="3.8"/>
<rect x="319.9" y="313.7" width="17.4" height="7.3"/>
<rect x="319.9" y="247.5" width="17.4" height="5.3"/>
<rect x="319.9" y="338.5" width="17.4" height="5"/>
<rect x="319.9" y="366.8" width="17.4" height="5.1"/>
<rect x="319.9" y="387.5" width="17.4" height="4.4"/>
<rect x="319.9" y="134.92" width="17.4" height="1.4" fill-opacity="0.55"/>
<rect x="319.9" y="158.97" width="17.4" height="1.7" fill-opacity="1"/>
<rect x="319.9" y="173.74" width="17.4" height="1.2" fill-opacity="1"/>
<rect x="319.9" y="178.43" width="17.4" height="1.5" fill-opacity="1"/>
<rect x="319.9" y="183.17" width="17.4" height="1.7" fill-opacity="0.55"/>
<rect x="319.9" y="190.68" width="17.4" height="1.2" fill-opacity="1"/>
<rect x="319.9" y="192.85" width="17.4" height="1.7" fill-opacity="1"/>
<rect x="319.9" y="204.95" width="17.4" height="1.7" fill-opacity="0.7"/>
<rect x="319.9" y="207.62" width="17.4" height="1.2" fill-opacity="0.85"/>
<rect x="319.9" y="210.04" width="17.4" height="1.2" fill-opacity="0.85"/>
<rect x="319.9" y="212.36" width="17.4" height="1.4" fill-opacity="0.55"/>
<rect x="319.9" y="214.78" width="17.4" height="1.4" fill-opacity="1"/>
<rect x="319.9" y="217.05" width="17.4" height="1.7" fill-opacity="0.55"/>
<rect x="319.9" y="229.15" width="17.4" height="1.7" fill-opacity="0.85"/>
<rect x="319.9" y="231.82" width="17.4" height="1.2" fill-opacity="0.55"/>
<rect x="319.9" y="234.24" width="17.4" height="1.2" fill-opacity="1"/>
<rect x="319.9" y="236.51" width="17.4" height="1.5" fill-opacity="0.55"/>
<rect x="319.9" y="238.93" width="17.4" height="1.5" fill-opacity="1"/>
<rect x="319.9" y="241.5" width="17.4" height="1.2" fill-opacity="1"/>
<rect x="319.9" y="243.77" width="17.4" height="1.5" fill-opacity="1"/>
<rect x="319.9" y="246.19" width="17.4" height="1.5" fill-opacity="0.7"/>
<rect x="319.9" y="248.61" width="17.4" height="1.5" fill-opacity="0.7"/>
<rect x="319.9" y="251.18" width="17.4" height="1.2" fill-opacity="0.7"/>
<rect x="319.9" y="253.45" width="17.4" height="1.5" fill-opacity="1"/>
<rect x="319.9" y="255.87" width="17.4" height="1.5" fill-opacity="0.55"/>
<rect x="319.9" y="258.44" width="17.4" height="1.2" fill-opacity="0.55"/>
<rect x="319.9" y="260.76" width="17.4" height="1.4" fill-opacity="0.55"/>
<rect x="319.9" y="263.03" width="17.4" height="1.7" fill-opacity="1"/>
<rect x="319.9" y="265.7" width="17.4" height="1.2" fill-opacity="1"/>
<rect x="319.9" y="267.97" width="17.4" height="1.5" fill-opacity="1"/>
<rect x="319.9" y="270.54" width="17.4" height="1.2" fill-opacity="0.55"/>
<rect x="319.9" y="272.86" width="17.4" height="1.4" fill-opacity="1"/>
<rect x="319.9" y="275.38" width="17.4" height="1.2" fill-opacity="0.85"/>
<rect x="319.9" y="277.65" width="17.4" height="1.5" fill-opacity="1"/>
<rect x="319.9" y="280.22" width="17.4" height="1.2" fill-opacity="1"/>
<rect x="319.9" y="282.49" width="17.4" height="1.5" fill-opacity="1"/>
<rect x="319.9" y="287.38" width="17.4" height="1.4" fill-opacity="1"/>
<rect x="319.9" y="292.17" width="17.4" height="1.5" fill-opacity="0.7"/>
<rect x="319.9" y="294.59" width="17.4" height="1.5" fill-opacity="1"/>
<rect x="319.9" y="296.91" width="17.4" height="1.7" fill-opacity="1"/>
<rect x="319.9" y="299.48" width="17.4" height="1.4" fill-opacity="0.7"/>
<rect x="319.9" y="301.85" width="17.4" height="1.5" fill-opacity="0.55"/>
<rect x="319.9" y="304.17" width="17.4" height="1.7" fill-opacity="0.55"/>
<rect x="319.9" y="306.59" width="17.4" height="1.7" fill-opacity="0.85"/>
<rect x="319.9" y="309.11" width="17.4" height="1.5" fill-opacity="0.85"/>
<rect x="319.9" y="311.68" width="17.4" height="1.2" fill-opacity="0.85"/>
<rect x="319.9" y="313.85" width="17.4" height="1.7" fill-opacity="0.7"/>
<rect x="319.9" y="316.42" width="17.4" height="1.4" fill-opacity="0.7"/>
<rect x="319.9" y="318.79" width="17.4" height="1.5" fill-opacity="1"/>
<rect x="319.9" y="321.36" width="17.4" height="1.2" fill-opacity="1"/>
<rect x="319.9" y="323.53" width="17.4" height="1.7" fill-opacity="0.7"/>
<rect x="319.9" y="330.79" width="17.4" height="1.7" fill-opacity="0.55"/>
<rect x="319.9" y="333.36" width="17.4" height="1.4" fill-opacity="1"/>
<rect x="319.9" y="335.63" width="17.4" height="1.7" fill-opacity="0.55"/>
<rect x="319.9" y="338.3" width="17.4" height="1.2" fill-opacity="1"/>
<rect x="319.9" y="340.62" width="17.4" height="1.4" fill-opacity="0.55"/>
<rect x="319.9" y="345.46" width="17.4" height="1.4" fill-opacity="0.85"/>
<rect x="319.9" y="350.4" width="17.4" height="1.2" fill-opacity="1"/>
<rect x="319.9" y="357.56" width="17.4" height="1.4" fill-opacity="0.7"/>
<rect x="319.9" y="367.19" width="17.4" height="1.5" fill-opacity="0.85"/>
<rect x="319.9" y="369.51" width="17.4" height="1.7" fill-opacity="1"/>
<rect x="319.9" y="386.6" width="17.4" height="1.4" fill-opacity="1"/>
<rect x="319.9" y="389.12" width="17.4" height="1.2" fill-opacity="0.85"/>
<rect x="319.9" y="391.29" width="17.4" height="1.7" fill-opacity="1"/>
<rect x="319.9" y="393.96" width="17.4" height="1.2" fill-opacity="1"/>
<rect x="319.9" y="396.38" width="17.4" height="1.2" fill-opacity="0.7"/>
<rect x="319.9" y="408.33" width="17.4" height="1.5" fill-opacity="1"/>
</g>
<g fill="none" stroke="#000" stroke-width="3">
<rect x="0" y="0" width="317.8" height="121"/>
<rect x="0" y="121" width="317.8" height="301.9"/>
<path d="M-12.6 41.6H-1M-12.6 105.4H-1M-12.6 422.9H-1M-12.6 362.6H-1M-12.6 302.3H-1M-12.6 242H-1M-12.6 181.7H-1M0 423.9V436.2M61.35 423.9V436.2M122.7 423.9V436.2M184.05 423.9V436.2M245.4 423.9V436.2M306.75 423.9V436.2M362 130.2H372.8M362 172.65H372.8M362 215.1H372.8M362 257.55H372.8M362 300H372.8M362 342.45H372.8M362 384.9H372.8"/>
</g>
<rect x="340" y="121" width="20.5" height="301.9" fill="url(#vg)" stroke="#000" stroke-width="3"/>
<polyline clip-path="url(#t1)" points="0,100.78 7.69,105.39 15.37,108.29 23.06,97.7 29.38,97.36 34.16,105.39 38.94,108.81 43.56,99.41 52.95,103.68 62.86,111.37 67.98,100.26 73.45,103.68 81.99,107.61 87.11,104.19 93.94,106.24 100.78,111.37 106.24,113.08 111.03,106.24 116.15,96.85 120.42,80.62 123.84,51.58 126.4,34.5 130.33,19.98 135.79,25.96 140.4,33.65 145.19,37.92 149.46,20.84 154.24,5.47 158.85,6.83 163.98,8.03 166.54,15.71 169.95,33.65 173.88,37.92 178.5,62.69 183.62,70.37 188.74,82.33 193.01,89.16 198.14,108.81 202.41,110 208.73,104.53 211.8,105.9 216.93,103.68 221.71,115.64 226.83,94.29 231.96,113.08 236.57,106.58 241.69,104.88 245.96,99.41 251.09,115.64 255.36,106.24 260.48,113.08 265.61,113.08 270.73,101.97 275,103.68 280.13,101.97 285.25,105.39 290.37,101.97 295.5,102.83 300.62,101.12 304.38,101.46 308.82,112.22 312.58,107.1 316.85,104.53" fill="none" stroke="#000" stroke-width="2.7" stroke-linejoin="round"/>
<g class="t">
<text x="308.4" y="25.7" text-anchor="end" style="font-size:22.9px">Burst 1</text>
<text x="-27" y="49" text-anchor="end">10.0</text>
<text x="-27" y="112.8" text-anchor="end">0.0</text>
<text x="-27" y="430.3" text-anchor="end">1.0</text>
<text x="-27" y="370" text-anchor="end">1.1</text>
<text x="-27" y="309.7" text-anchor="end">1.2</text>
<text x="-27" y="249.4" text-anchor="end">1.3</text>
<text x="-27" y="189.1" text-anchor="end">1.4</text>
<text x="-0.8" y="465.6" text-anchor="middle">0</text>
<text x="60.55" y="465.6" text-anchor="middle">5</text>
<text x="121.9" y="465.6" text-anchor="middle">10</text>
<text x="183.25" y="465.6" text-anchor="middle">15</text>
<text x="244.6" y="465.6" text-anchor="middle">20</text>
<text x="305.95" y="465.6" text-anchor="middle">25</text>
<text x="386.8" y="137.6">10</text>
<text x="386.8" y="180.05">8</text>
<text x="386.8" y="222.5">6</text>
<text x="386.8" y="264.95">4</text>
<text x="386.8" y="307.4">2</text>
<text x="386.8" y="349.85">0</text>
<text x="386.8" y="392.3">−2</text>
<text transform="translate(-71.6,60.5) rotate(-90)" text-anchor="middle">Normalised flux</text>
<text transform="translate(-71.6,271.95) rotate(-90)" text-anchor="middle">Frequency (GHz)</text>
</g>
</g>
<g transform="translate(649,11.45)">
<g clip-path="url(#c2)"><g filter="url(#h2)">
<rect x="-17" y="115" width="351.8" height="313.4" fill="rgb(108,108,108)"/>
<g filter="url(#soft)"><rect x="140" y="335" width="32" height="57" fill="#fff" fill-opacity="0.100"/></g>
</g></g>
<rect x="0" y="312.7" width="317.8" height="7.8" fill="#fff"/>
<g fill="#b9b9b9">
<rect x="319.9" y="121" width="17.4" height="11"/>
<rect x="319.9" y="411.4" width="17.4" height="11.5"/>
<rect x="319.9" y="312.7" width="17.4" height="7.8"/>
<rect x="319.9" y="255" width="17.4" height="7"/>
<rect x="319.9" y="296" width="17.4" height="5"/>
<rect x="319.9" y="357" width="17.4" height="6"/>
<rect x="319.9" y="139.61" width="17.4" height="1.7" fill-opacity="0.7"/>
<rect x="319.9" y="151.86" width="17.4" height="1.4" fill-opacity="0.55"/>
<rect x="319.9" y="163.81" width="17.4" height="1.7" fill-opacity="0.85"/>
<rect x="319.9" y="166.23" width="17.4" height="1.7" fill-opacity="1"/>
<rect x="319.9" y="173.74" width="17.4" height="1.2" fill-opacity="0.55"/>
<rect x="319.9" y="183.17" width="17.4" height="1.7" fill-opacity="0.55"/>
<rect x="319.9" y="188.16" width="17.4" height="1.4" fill-opacity="0.55"/>
<rect x="319.9" y="192.85" width="17.4" height="1.7" fill-opacity="0.55"/>
<rect x="319.9" y="202.68" width="17.4" height="1.4" fill-opacity="0.55"/>
<rect x="319.9" y="209.94" width="17.4" height="1.4" fill-opacity="0.55"/>
<rect x="319.9" y="212.46" width="17.4" height="1.2" fill-opacity="0.7"/>
<rect x="319.9" y="214.73" width="17.4" height="1.5" fill-opacity="1"/>
<rect x="319.9" y="217.2" width="17.4" height="1.4" fill-opacity="0.85"/>
<rect x="319.9" y="222.14" width="17.4" height="1.2" fill-opacity="1"/>
<rect x="319.9" y="224.56" width="17.4" height="1.2" fill-opacity="0.55"/>
<rect x="319.9" y="226.83" width="17.4" height="1.5" fill-opacity="1"/>
<rect x="319.9" y="229.15" width="17.4" height="1.7" fill-opacity="0.85"/>
<rect x="319.9" y="238.83" width="17.4" height="1.7" fill-opacity="0.55"/>
<rect x="319.9" y="241.5" width="17.4" height="1.2" fill-opacity="1"/>
<rect x="319.9" y="246.24" width="17.4" height="1.4" fill-opacity="1"/>
<rect x="319.9" y="248.51" width="17.4" height="1.7" fill-opacity="0.85"/>
<rect x="319.9" y="251.03" width="17.4" height="1.5" fill-opacity="0.85"/>
<rect x="319.9" y="253.35" width="17.4" height="1.7" fill-opacity="0.7"/>
<rect x="319.9" y="255.87" width="17.4" height="1.5" fill-opacity="0.7"/>
<rect x="319.9" y="258.19" width="17.4" height="1.7" fill-opacity="0.85"/>
<rect x="319.9" y="260.71" width="17.4" height="1.5" fill-opacity="1"/>
<rect x="319.9" y="263.03" width="17.4" height="1.7" fill-opacity="1"/>
<rect x="319.9" y="265.55" width="17.4" height="1.5" fill-opacity="0.85"/>
<rect x="319.9" y="268.12" width="17.4" height="1.2" fill-opacity="0.85"/>
<rect x="319.9" y="270.54" width="17.4" height="1.2" fill-opacity="0.7"/>
<rect x="319.9" y="275.38" width="17.4" height="1.2" fill-opacity="0.7"/>
<rect x="319.9" y="277.65" width="17.4" height="1.5" fill-opacity="0.85"/>
<rect x="319.9" y="280.22" width="17.4" height="1.2" fill-opacity="1"/>
<rect x="319.9" y="285.06" width="17.4" height="1.2" fill-opacity="0.85"/>
<rect x="319.9" y="289.9" width="17.4" height="1.2" fill-opacity="0.55"/>
<rect x="319.9" y="292.22" width="17.4" height="1.4" fill-opacity="0.85"/>
<rect x="319.9" y="294.49" width="17.4" height="1.7" fill-opacity="1"/>
<rect x="319.9" y="296.91" width="17.4" height="1.7" fill-opacity="0.7"/>
<rect x="319.9" y="299.33" width="17.4" height="1.7" fill-opacity="0.55"/>
<rect x="319.9" y="301.85" width="17.4" height="1.5" fill-opacity="0.7"/>
<rect x="319.9" y="304.42" width="17.4" height="1.2" fill-opacity="1"/>
<rect x="319.9" y="309.16" width="17.4" height="1.4" fill-opacity="1"/>
<rect x="319.9" y="311.43" width="17.4" height="1.7" fill-opacity="0.7"/>
<rect x="319.9" y="313.85" width="17.4" height="1.7" fill-opacity="0.7"/>
<rect x="319.9" y="318.79" width="17.4" height="1.5" fill-opacity="1"/>
<rect x="319.9" y="321.26" width="17.4" height="1.4" fill-opacity="1"/>
<rect x="319.9" y="323.78" width="17.4" height="1.2" fill-opacity="0.55"/>
<rect x="319.9" y="342.99" width="17.4" height="1.5" fill-opacity="0.55"/>
<rect x="319.9" y="347.98" width="17.4" height="1.2" fill-opacity="1"/>
<rect x="319.9" y="350.15" width="17.4" height="1.7" fill-opacity="0.85"/>
<rect x="319.9" y="352.82" width="17.4" height="1.2" fill-opacity="0.85"/>
<rect x="319.9" y="357.41" width="17.4" height="1.7" fill-opacity="0.55"/>
<rect x="319.9" y="367.09" width="17.4" height="1.7" fill-opacity="0.7"/>
<rect x="319.9" y="369.61" width="17.4" height="1.5" fill-opacity="1"/>
<rect x="319.9" y="372.03" width="17.4" height="1.5" fill-opacity="0.55"/>
<rect x="319.9" y="374.5" width="17.4" height="1.4" fill-opacity="0.55"/>
<rect x="319.9" y="376.87" width="17.4" height="1.5" fill-opacity="0.85"/>
<rect x="319.9" y="379.34" width="17.4" height="1.4" fill-opacity="0.7"/>
<rect x="319.9" y="391.29" width="17.4" height="1.7" fill-opacity="1"/>
<rect x="319.9" y="393.96" width="17.4" height="1.2" fill-opacity="0.55"/>
<rect x="319.9" y="396.13" width="17.4" height="1.7" fill-opacity="0.85"/>
<rect x="319.9" y="398.8" width="17.4" height="1.2" fill-opacity="0.7"/>
<rect x="319.9" y="401.22" width="17.4" height="1.2" fill-opacity="0.55"/>
<rect x="319.9" y="403.39" width="17.4" height="1.7" fill-opacity="0.55"/>
</g>
<g fill="none" stroke="#000" stroke-width="3">
<rect x="0" y="0" width="317.8" height="121"/>
<rect x="0" y="121" width="317.8" height="301.9"/>
<path d="M-12.6 20.6H-1M-12.6 90.5H-1M-12.6 422.9H-1M-12.6 362.6H-1M-12.6 302.3H-1M-12.6 242H-1M-12.6 181.7H-1M0 423.9V436.2M61.35 423.9V436.2M122.7 423.9V436.2M184.05 423.9V436.2M245.4 423.9V436.2M306.75 423.9V436.2M362 155.4H372.8M362 190.24H372.8M362 225.08H372.8M362 259.92H372.8M362 294.76H372.8M362 329.6H372.8M362 364.44H372.8M362 399.28H372.8"/>
</g>
<rect x="340" y="121" width="20.5" height="301.9" fill="url(#vg)" stroke="#000" stroke-width="3"/>
<polyline clip-path="url(#t2)" points="0,88.31 4.78,88.82 9.91,115.13 14.52,112.22 19.13,75.5 23.91,84.89 29.04,72.08 33.82,87.45 38.43,89.16 43.21,80.62 47.83,113.93 52.95,67.81 57.56,88.31 62.35,56.71 66.96,68.67 72.08,108.29 76.86,63.54 81.65,89.16 86.26,92.58 91.38,104.53 96.17,91.72 100.78,109.66 105.9,62.69 110.68,86.6 115.47,96.51 120.42,59.61 125.2,74.64 129.81,72.08 134.6,42.19 139.21,40.48 144.33,28.53 149.29,5.12 154.07,48.51 158.85,27.67 163.98,49.53 168.59,41.34 173.37,45.61 178.15,75.84 183.11,51.58 187.89,78.06 192.67,40.14 197.45,59.27 202.41,77.21 207.19,94.63 211.97,84.89 216.76,95.65 221.54,96.51 226.32,89.16 231.28,81.13 236.06,94.29 240.84,79.43 245.62,114.78 250.58,74.3 255.36,84.04 259.97,84.89 264.75,100.26 269.88,90.02 274.66,89.16 279.44,61.32 284.4,96.85 289.18,92.58 293.96,86.6 298.92,92.58 303.7,89.16 308.48,91.72 313.26,72.94 316.85,82.33" fill="none" stroke="#000" stroke-width="2.7" stroke-linejoin="round"/>
<g class="t">
<text x="308.4" y="25.7" text-anchor="end" style="font-size:22.9px">Burst 2</text>
<text x="-27" y="28" text-anchor="end">5.0</text>
<text x="-27" y="97.9" text-anchor="end">0.0</text>
<text x="-27" y="430.3" text-anchor="end">1.0</text>
<text x="-27" y="370" text-anchor="end">1.1</text>
<text x="-27" y="309.7" text-anchor="end">1.2</text>
<text x="-27" y="249.4" text-anchor="end">1.3</text>
<text x="-27" y="189.1" text-anchor="end">1.4</text>
<text x="-0.8" y="465.6" text-anchor="middle">0</text>
<text x="60.55" y="465.6" text-anchor="middle">5</text>
<text x="121.9" y="465.6" text-anchor="middle">10</text>
<text x="183.25" y="465.6" text-anchor="middle">15</text>
<text x="244.6" y="465.6" text-anchor="middle">20</text>
<text x="305.95" y="465.6" text-anchor="middle">25</text>
<text x="386.8" y="162.8">4</text>
<text x="386.8" y="197.64">3</text>
<text x="386.8" y="232.48">2</text>
<text x="386.8" y="267.32">1</text>
<text x="386.8" y="302.16">0</text>
<text x="386.8" y="337">−1</text>
<text x="386.8" y="371.84">−2</text>
<text x="386.8" y="406.68">−3</text>
</g>
</g>
<g transform="translate(1180,11.45)">
<g clip-path="url(#c3)"><g filter="url(#h3)">
<rect x="-17" y="115" width="351.8" height="313.4" fill="rgb(106,106,106)"/>
<g filter="url(#soft)"><rect x="149" y="132" width="11" height="168" fill="#fff" fill-opacity="0.085"/><rect x="153" y="291" width="6" height="21" fill="#fff" fill-opacity="0.170"/></g>
<rect x="150" y="141" width="10" height="1.6" fill="#fff" fill-opacity="0.416"/>
<rect x="150" y="148.4" width="12" height="1.6" fill="#fff" fill-opacity="0.340"/>
<rect x="148" y="165.6" width="18" height="1.6" fill="#fff" fill-opacity="0.302"/>
<rect x="150" y="201.5" width="10" height="1.5" fill="#fff" fill-opacity="0.246"/>
<rect x="150" y="221" width="10" height="1.5" fill="#fff" fill-opacity="0.246"/>
<rect x="149" y="330" width="7" height="2" fill="#fff" fill-opacity="0.265"/>
</g></g>
<rect x="0" y="312.7" width="317.8" height="8.4" fill="#fff"/>
<g fill="#b9b9b9">
<rect x="319.9" y="121" width="17.4" height="11"/>
<rect x="319.9" y="411.4" width="17.4" height="11.5"/>
<rect x="319.9" y="312.7" width="17.4" height="8.4"/>
<rect x="319.9" y="255" width="17.4" height="7"/>
<rect x="319.9" y="296" width="17.4" height="5"/>
<rect x="319.9" y="357" width="17.4" height="6"/>
<rect x="319.9" y="144.55" width="17.4" height="1.5" fill-opacity="0.55"/>
<rect x="319.9" y="151.81" width="17.4" height="1.5" fill-opacity="0.85"/>
<rect x="319.9" y="178.43" width="17.4" height="1.5" fill-opacity="0.55"/>
<rect x="319.9" y="188.01" width="17.4" height="1.7" fill-opacity="0.7"/>
<rect x="319.9" y="209.94" width="17.4" height="1.4" fill-opacity="1"/>
<rect x="319.9" y="212.31" width="17.4" height="1.5" fill-opacity="0.7"/>
<rect x="319.9" y="214.63" width="17.4" height="1.7" fill-opacity="0.7"/>
<rect x="319.9" y="217.05" width="17.4" height="1.7" fill-opacity="0.85"/>
<rect x="319.9" y="219.47" width="17.4" height="1.7" fill-opacity="1"/>
<rect x="319.9" y="222.14" width="17.4" height="1.2" fill-opacity="1"/>
<rect x="319.9" y="224.41" width="17.4" height="1.5" fill-opacity="1"/>
<rect x="319.9" y="226.73" width="17.4" height="1.7" fill-opacity="1"/>
<rect x="319.9" y="229.25" width="17.4" height="1.5" fill-opacity="1"/>
<rect x="319.9" y="231.72" width="17.4" height="1.4" fill-opacity="1"/>
<rect x="319.9" y="233.99" width="17.4" height="1.7" fill-opacity="0.55"/>
<rect x="319.9" y="236.56" width="17.4" height="1.4" fill-opacity="0.7"/>
<rect x="319.9" y="238.83" width="17.4" height="1.7" fill-opacity="1"/>
<rect x="319.9" y="241.5" width="17.4" height="1.2" fill-opacity="0.7"/>
<rect x="319.9" y="246.19" width="17.4" height="1.5" fill-opacity="1"/>
<rect x="319.9" y="248.51" width="17.4" height="1.7" fill-opacity="0.7"/>
<rect x="319.9" y="251.03" width="17.4" height="1.5" fill-opacity="1"/>
<rect x="319.9" y="253.6" width="17.4" height="1.2" fill-opacity="0.85"/>
<rect x="319.9" y="256.02" width="17.4" height="1.2" fill-opacity="0.55"/>
<rect x="319.9" y="258.34" width="17.4" height="1.4" fill-opacity="0.7"/>
<rect x="319.9" y="260.86" width="17.4" height="1.2" fill-opacity="0.85"/>
<rect x="319.9" y="263.03" width="17.4" height="1.7" fill-opacity="0.85"/>
<rect x="319.9" y="265.7" width="17.4" height="1.2" fill-opacity="0.55"/>
<rect x="319.9" y="270.39" width="17.4" height="1.5" fill-opacity="0.7"/>
<rect x="319.9" y="272.86" width="17.4" height="1.4" fill-opacity="1"/>
<rect x="319.9" y="275.28" width="17.4" height="1.4" fill-opacity="1"/>
<rect x="319.9" y="277.8" width="17.4" height="1.2" fill-opacity="1"/>
<rect x="319.9" y="280.12" width="17.4" height="1.4" fill-opacity="0.85"/>
<rect x="319.9" y="282.64" width="17.4" height="1.2" fill-opacity="0.7"/>
<rect x="319.9" y="284.91" width="17.4" height="1.5" fill-opacity="0.7"/>
<rect x="319.9" y="287.38" width="17.4" height="1.4" fill-opacity="0.7"/>
<rect x="319.9" y="289.9" width="17.4" height="1.2" fill-opacity="0.7"/>
<rect x="319.9" y="292.22" width="17.4" height="1.4" fill-opacity="0.55"/>
<rect x="319.9" y="294.49" width="17.4" height="1.7" fill-opacity="0.55"/>
<rect x="319.9" y="297.16" width="17.4" height="1.2" fill-opacity="1"/>
<rect x="319.9" y="299.33" width="17.4" height="1.7" fill-opacity="0.85"/>
<rect x="319.9" y="302" width="17.4" height="1.2" fill-opacity="0.7"/>
<rect x="319.9" y="304.32" width="17.4" height="1.4" fill-opacity="1"/>
<rect x="319.9" y="306.69" width="17.4" height="1.5" fill-opacity="1"/>
<rect x="319.9" y="309.11" width="17.4" height="1.5" fill-opacity="0.7"/>
<rect x="319.9" y="311.43" width="17.4" height="1.7" fill-opacity="1"/>
<rect x="319.9" y="314.1" width="17.4" height="1.2" fill-opacity="0.7"/>
<rect x="319.9" y="316.27" width="17.4" height="1.7" fill-opacity="1"/>
<rect x="319.9" y="318.69" width="17.4" height="1.7" fill-opacity="0.55"/>
<rect x="319.9" y="321.21" width="17.4" height="1.5" fill-opacity="0.7"/>
<rect x="319.9" y="323.68" width="17.4" height="1.4" fill-opacity="0.7"/>
<rect x="319.9" y="326.1" width="17.4" height="1.4" fill-opacity="0.55"/>
<rect x="319.9" y="333.21" width="17.4" height="1.7" fill-opacity="1"/>
<rect x="319.9" y="340.57" width="17.4" height="1.5" fill-opacity="0.85"/>
<rect x="319.9" y="342.99" width="17.4" height="1.5" fill-opacity="1"/>
<rect x="319.9" y="345.31" width="17.4" height="1.7" fill-opacity="0.85"/>
<rect x="319.9" y="347.98" width="17.4" height="1.2" fill-opacity="1"/>
<rect x="319.9" y="350.4" width="17.4" height="1.2" fill-opacity="1"/>
<rect x="319.9" y="352.82" width="17.4" height="1.2" fill-opacity="0.85"/>
<rect x="319.9" y="354.99" width="17.4" height="1.7" fill-opacity="1"/>
<rect x="319.9" y="357.41" width="17.4" height="1.7" fill-opacity="1"/>
<rect x="319.9" y="362.25" width="17.4" height="1.7" fill-opacity="1"/>
<rect x="319.9" y="364.67" width="17.4" height="1.7" fill-opacity="0.85"/>
<rect x="319.9" y="367.24" width="17.4" height="1.4" fill-opacity="1"/>
<rect x="319.9" y="369.51" width="17.4" height="1.7" fill-opacity="1"/>
<rect x="319.9" y="374.45" width="17.4" height="1.5" fill-opacity="0.55"/>
<rect x="319.9" y="381.71" width="17.4" height="1.5" fill-opacity="1"/>
<rect x="319.9" y="384.28" width="17.4" height="1.2" fill-opacity="0.85"/>
<rect x="319.9" y="386.7" width="17.4" height="1.2" fill-opacity="0.55"/>
<rect x="319.9" y="389.02" width="17.4" height="1.4" fill-opacity="0.85"/>
<rect x="319.9" y="391.39" width="17.4" height="1.5" fill-opacity="0.7"/>
<rect x="319.9" y="393.71" width="17.4" height="1.7" fill-opacity="1"/>
<rect x="319.9" y="396.13" width="17.4" height="1.7" fill-opacity="1"/>
<rect x="319.9" y="398.65" width="17.4" height="1.5" fill-opacity="0.7"/>
<rect x="319.9" y="401.07" width="17.4" height="1.5" fill-opacity="0.85"/>
<rect x="319.9" y="403.64" width="17.4" height="1.2" fill-opacity="0.85"/>
<rect x="319.9" y="405.81" width="17.4" height="1.7" fill-opacity="0.55"/>
<rect x="319.9" y="408.33" width="17.4" height="1.5" fill-opacity="0.55"/>
</g>
<g fill="none" stroke="#000" stroke-width="3">
<rect x="0" y="0" width="317.8" height="121"/>
<rect x="0" y="121" width="317.8" height="301.9"/>
<path d="M-12.6 38.8H-1M-12.6 91.4H-1M-12.6 422.9H-1M-12.6 362.6H-1M-12.6 302.3H-1M-12.6 242H-1M-12.6 181.7H-1M0 423.9V436.2M61.35 423.9V436.2M122.7 423.9V436.2M184.05 423.9V436.2M245.4 423.9V436.2M306.75 423.9V436.2M362 164H372.8M362 230.54H372.8M362 297.08H372.8M362 363.62H372.8"/>
</g>
<rect x="340" y="121" width="20.5" height="301.9" fill="url(#vg)" stroke="#000" stroke-width="3"/>
<polyline clip-path="url(#t3)" points="0,92.24 4.78,92.24 9.39,78.57 14.01,75.5 18.79,107.1 23.57,86.6 28.18,81.48 32.97,80.62 37.92,106.24 42.7,85.75 47.48,89.16 52.44,77.21 57.22,84.89 62.35,98.56 66.96,94.29 71.74,65.25 76.52,97.36 81.13,98.04 86.26,83.18 91.04,83.18 95.65,90.87 100.44,114.78 105.39,89.16 110.17,85.75 114.95,90.02 119.74,102.83 124.35,105.39 129.3,75.5 134.43,69.52 139.38,79.43 144.16,56.71 148.95,5.47 153.73,7.17 158.51,34.5 163.29,60.98 168.08,62.69 172.86,76.35 177.64,77.21 182.59,95.14 187.38,102.83 192.16,110.51 196.94,87.45 201.9,100.26 206.68,109.66 211.63,108.81 216.41,100.26 221.2,81.48 225.98,75.5 230.93,104.53 235.72,101.12 240.5,84.04 245.28,90.87 250.23,112.22 254.85,109.66 259.63,86.6 264.41,102.83 269.37,88.31 274.15,109.66 278.93,84.04 283.88,92.58 288.67,102.83 293.45,81.48 298.4,83.18 303.19,115.64 307.97,89.16 312.58,95.99 316.85,96.85" fill="none" stroke="#000" stroke-width="2.7" stroke-linejoin="round"/>
<g class="t">
<text x="308.4" y="25.7" text-anchor="end" style="font-size:22.9px">Burst 3</text>
<text x="-27" y="46.2" text-anchor="end">5.0</text>
<text x="-27" y="98.8" text-anchor="end">0.0</text>
<text x="-27" y="430.3" text-anchor="end">1.0</text>
<text x="-27" y="370" text-anchor="end">1.1</text>
<text x="-27" y="309.7" text-anchor="end">1.2</text>
<text x="-27" y="249.4" text-anchor="end">1.3</text>
<text x="-27" y="189.1" text-anchor="end">1.4</text>
<text x="-0.8" y="465.6" text-anchor="middle">0</text>
<text x="60.55" y="465.6" text-anchor="middle">5</text>
<text x="121.9" y="465.6" text-anchor="middle">10</text>
<text x="183.25" y="465.6" text-anchor="middle">15</text>
<text x="244.6" y="465.6" text-anchor="middle">20</text>
<text x="305.95" y="465.6" text-anchor="middle">25</text>
<text x="386.8" y="171.4">4</text>
<text x="386.8" y="237.94">2</text>
<text x="386.8" y="304.48">0</text>
<text x="386.8" y="371.02">−2</text>
</g>
</g>
<g transform="translate(1711.9,11.45)">
<g clip-path="url(#c4)"><g filter="url(#h4)">
<rect x="-17" y="115" width="351.8" height="313.4" fill="rgb(104,104,104)"/>
</g></g>
<rect x="0" y="313.4" width="317.8" height="7.2" fill="#fff"/>
<rect x="0" y="367.2" width="317.8" height="1.6" fill="#fff"/>
<g fill="#b9b9b9">
<rect x="319.9" y="121" width="17.4" height="11"/>
<rect x="319.9" y="411.4" width="17.4" height="11.5"/>
<rect x="319.9" y="313.4" width="17.4" height="7.2"/>
<rect x="319.9" y="255" width="17.4" height="7"/>
<rect x="319.9" y="296" width="17.4" height="5"/>
<rect x="319.9" y="357" width="17.4" height="6"/>
<rect x="319.9" y="173.74" width="17.4" height="1.2" fill-opacity="0.7"/>
<rect x="319.9" y="176.01" width="17.4" height="1.5" fill-opacity="1"/>
<rect x="319.9" y="178.58" width="17.4" height="1.2" fill-opacity="1"/>
<rect x="319.9" y="181" width="17.4" height="1.2" fill-opacity="0.85"/>
<rect x="319.9" y="188.01" width="17.4" height="1.7" fill-opacity="0.85"/>
<rect x="319.9" y="193" width="17.4" height="1.4" fill-opacity="1"/>
<rect x="319.9" y="205.1" width="17.4" height="1.4" fill-opacity="0.7"/>
<rect x="319.9" y="207.52" width="17.4" height="1.4" fill-opacity="0.55"/>
<rect x="319.9" y="209.89" width="17.4" height="1.5" fill-opacity="1"/>
<rect x="319.9" y="212.31" width="17.4" height="1.5" fill-opacity="0.7"/>
<rect x="319.9" y="214.63" width="17.4" height="1.7" fill-opacity="1"/>
<rect x="319.9" y="217.2" width="17.4" height="1.4" fill-opacity="1"/>
<rect x="319.9" y="222.14" width="17.4" height="1.2" fill-opacity="1"/>
<rect x="319.9" y="224.46" width="17.4" height="1.4" fill-opacity="0.85"/>
<rect x="319.9" y="231.67" width="17.4" height="1.5" fill-opacity="1"/>
<rect x="319.9" y="234.24" width="17.4" height="1.2" fill-opacity="0.7"/>
<rect x="319.9" y="236.66" width="17.4" height="1.2" fill-opacity="0.55"/>
<rect x="319.9" y="238.83" width="17.4" height="1.7" fill-opacity="0.85"/>
<rect x="319.9" y="241.25" width="17.4" height="1.7" fill-opacity="0.7"/>
<rect x="319.9" y="243.92" width="17.4" height="1.2" fill-opacity="0.55"/>
<rect x="319.9" y="246.24" width="17.4" height="1.4" fill-opacity="0.85"/>
<rect x="319.9" y="248.76" width="17.4" height="1.2" fill-opacity="0.7"/>
<rect x="319.9" y="251.03" width="17.4" height="1.5" fill-opacity="1"/>
<rect x="319.9" y="253.6" width="17.4" height="1.2" fill-opacity="0.55"/>
<rect x="319.9" y="255.92" width="17.4" height="1.4" fill-opacity="0.85"/>
<rect x="319.9" y="258.44" width="17.4" height="1.2" fill-opacity="0.55"/>
<rect x="319.9" y="260.76" width="17.4" height="1.4" fill-opacity="1"/>
<rect x="319.9" y="263.13" width="17.4" height="1.5" fill-opacity="1"/>
<rect x="319.9" y="265.45" width="17.4" height="1.7" fill-opacity="0.7"/>
<rect x="319.9" y="267.97" width="17.4" height="1.5" fill-opacity="0.7"/>
<rect x="319.9" y="270.44" width="17.4" height="1.4" fill-opacity="0.85"/>
<rect x="319.9" y="272.96" width="17.4" height="1.2" fill-opacity="0.55"/>
<rect x="319.9" y="275.38" width="17.4" height="1.2" fill-opacity="0.85"/>
<rect x="319.9" y="277.8" width="17.4" height="1.2" fill-opacity="0.7"/>
<rect x="319.9" y="280.12" width="17.4" height="1.4" fill-opacity="0.55"/>
<rect x="319.9" y="282.49" width="17.4" height="1.5" fill-opacity="1"/>
<rect x="319.9" y="285.06" width="17.4" height="1.2" fill-opacity="1"/>
<rect x="319.9" y="287.33" width="17.4" height="1.5" fill-opacity="1"/>
<rect x="319.9" y="289.8" width="17.4" height="1.4" fill-opacity="1"/>
<rect x="319.9" y="292.17" width="17.4" height="1.5" fill-opacity="0.85"/>
<rect x="319.9" y="294.59" width="17.4" height="1.5" fill-opacity="1"/>
<rect x="319.9" y="297.06" width="17.4" height="1.4" fill-opacity="0.7"/>
<rect x="319.9" y="299.33" width="17.4" height="1.7" fill-opacity="1"/>
<rect x="319.9" y="301.75" width="17.4" height="1.7" fill-opacity="1"/>
<rect x="319.9" y="304.27" width="17.4" height="1.5" fill-opacity="0.85"/>
<rect x="319.9" y="306.74" width="17.4" height="1.4" fill-opacity="0.55"/>
<rect x="319.9" y="309.26" width="17.4" height="1.2" fill-opacity="0.7"/>
<rect x="319.9" y="311.43" width="17.4" height="1.7" fill-opacity="1"/>
<rect x="319.9" y="314" width="17.4" height="1.4" fill-opacity="1"/>
<rect x="319.9" y="316.27" width="17.4" height="1.7" fill-opacity="0.7"/>
<rect x="319.9" y="318.84" width="17.4" height="1.4" fill-opacity="0.85"/>
<rect x="319.9" y="321.21" width="17.4" height="1.5" fill-opacity="0.55"/>
<rect x="319.9" y="330.94" width="17.4" height="1.4" fill-opacity="1"/>
<rect x="319.9" y="335.78" width="17.4" height="1.4" fill-opacity="1"/>
<rect x="319.9" y="338.15" width="17.4" height="1.5" fill-opacity="0.55"/>
<rect x="319.9" y="340.72" width="17.4" height="1.2" fill-opacity="1"/>
<rect x="319.9" y="345.41" width="17.4" height="1.5" fill-opacity="1"/>
<rect x="319.9" y="347.98" width="17.4" height="1.2" fill-opacity="0.7"/>
<rect x="319.9" y="350.4" width="17.4" height="1.2" fill-opacity="1"/>
<rect x="319.9" y="355.09" width="17.4" height="1.5" fill-opacity="1"/>
<rect x="319.9" y="357.41" width="17.4" height="1.7" fill-opacity="0.55"/>
<rect x="319.9" y="362.5" width="17.4" height="1.2" fill-opacity="1"/>
<rect x="319.9" y="374.5" width="17.4" height="1.4" fill-opacity="0.85"/>
<rect x="319.9" y="376.87" width="17.4" height="1.5" fill-opacity="0.7"/>
<rect x="319.9" y="379.34" width="17.4" height="1.4" fill-opacity="1"/>
<rect x="319.9" y="381.86" width="17.4" height="1.2" fill-opacity="1"/>
<rect x="319.9" y="393.96" width="17.4" height="1.2" fill-opacity="1"/>
<rect x="319.9" y="396.38" width="17.4" height="1.2" fill-opacity="1"/>
<rect x="319.9" y="405.96" width="17.4" height="1.4" fill-opacity="1"/>
<rect x="319.9" y="408.33" width="17.4" height="1.5" fill-opacity="0.55"/>
</g>
<g fill="none" stroke="#000" stroke-width="3">
<rect x="0" y="0" width="317.8" height="121"/>
<rect x="0" y="121" width="317.8" height="301.9"/>
<path d="M-12.6 0.2H-1M-12.6 81.3H-1M-12.6 422.9H-1M-12.6 362.6H-1M-12.6 302.3H-1M-12.6 242H-1M-12.6 181.7H-1M0 423.9V436.2M61.35 423.9V436.2M122.7 423.9V436.2M184.05 423.9V436.2M245.4 423.9V436.2M306.75 423.9V436.2M362 134.4H372.8M362 189.52H372.8M362 244.64H372.8M362 299.76H372.8M362 354.88H372.8M362 410H372.8"/>
</g>
<rect x="340" y="121" width="20.5" height="301.9" fill="url(#vg)" stroke="#000" stroke-width="3"/>
<polyline clip-path="url(#t4)" points="0,89.16 3.93,99.75 8.88,88.31 13.66,75.16 18.45,45.26 23.4,93.09 28.01,85.23 32.8,115.64 37.58,94.63 42.36,93.09 47.14,78.06 51.93,102.83 56.71,72.08 61.49,87.97 66.27,43.56 71.23,107.44 76.01,95.14 80.79,98.56 85.75,95.65 90.53,91.72 95.31,63.54 99.92,49.02 104.88,86.6 109.66,75.5 114.44,90.87 119.22,76.69 124.18,98.9 128.96,55.85 133.57,53.29 138.53,43.56 143.48,57.56 148.26,59.78 153.04,29.89 157.83,22.55 162.61,24.6 167.39,26.3 172.18,28.53 177.13,7.17 181.91,23.91 186.69,17.42 191.65,5.12 196.43,60.12 201.21,23.91 206.17,46.46 210.95,66.96 215.73,92.58 220.51,68.67 225.47,69.86 230.25,93.94 235.03,75.5 239.82,84.04 244.6,91.21 249.38,89.67 254.33,97.36 259.12,97.36 263.9,68.67 268.68,73.79 273.64,57.56 278.42,70.03 283.2,90.36 287.98,90.87 292.94,54.66 297.72,71.23 302.5,40.48 307.28,73.79 312.07,60.47 316,65.25" fill="none" stroke="#000" stroke-width="2.7" stroke-linejoin="round"/>
<g class="t">
<text x="308.4" y="25.7" text-anchor="end" style="font-size:22.9px">Burst 4</text>
<text x="-27" y="7.6" text-anchor="end">5.0</text>
<text x="-27" y="88.7" text-anchor="end">0.0</text>
<text x="-27" y="430.3" text-anchor="end">1.0</text>
<text x="-27" y="370" text-anchor="end">1.1</text>
<text x="-27" y="309.7" text-anchor="end">1.2</text>
<text x="-27" y="249.4" text-anchor="end">1.3</text>
<text x="-27" y="189.1" text-anchor="end">1.4</text>
<text x="-0.8" y="465.6" text-anchor="middle">0</text>
<text x="60.55" y="465.6" text-anchor="middle">5</text>
<text x="121.9" y="465.6" text-anchor="middle">10</text>
<text x="183.25" y="465.6" text-anchor="middle">15</text>
<text x="244.6" y="465.6" text-anchor="middle">20</text>
<text x="305.95" y="465.6" text-anchor="middle">25</text>
<text x="386.8" y="141.8">6</text>
<text x="386.8" y="196.92">4</text>
<text x="386.8" y="252.04">2</text>
<text x="386.8" y="307.16">0</text>
<text x="386.8" y="362.28">−2</text>
<text x="386.8" y="417.4">−4</text>
</g>
</g>
<g transform="translate(117,542.8)">
<g clip-path="url(#c5)"><g filter="url(#h5)">
<rect x="-17" y="115.3" width="351.8" height="313.5" fill="rgb(30,30,30)"/>
<g filter="url(#soft)"><rect x="119.7" y="132.7" width="32.2" height="75.3" fill="#fff" fill-opacity="0.239"/><rect x="119.7" y="208" width="32.2" height="49" fill="#fff" fill-opacity="0.110"/><rect x="116" y="140" width="40" height="117" fill="#fff" fill-opacity="0.055"/><rect x="168" y="165" width="23" height="65" fill="#fff" fill-opacity="0.073"/><rect x="168" y="230" width="23" height="100" fill="#fff" fill-opacity="0.147"/><rect x="168" y="330" width="23" height="40" fill="#fff" fill-opacity="0.055"/><rect x="168.6" y="290" width="21.4" height="16" fill="#fff" fill-opacity="0.092"/></g>
<rect x="124.3" y="135.6" width="16.1" height="3.5" fill="#fff" fill-opacity="0.404"/>
<rect x="126" y="135.6" width="5" height="3.5" fill="#fff" fill-opacity="0.184"/>
<rect x="120.9" y="163.2" width="26.4" height="2.9" fill="#fff" fill-opacity="0.551"/>
<rect x="120.9" y="170.7" width="26.4" height="3.5" fill="#fff" fill-opacity="0.478"/>
<rect x="122" y="178.2" width="25.3" height="2.9" fill="#fff" fill-opacity="0.404"/>
<rect x="122" y="185.7" width="29.9" height="2.3" fill="#fff" fill-opacity="0.294"/>
<rect x="128.9" y="197.2" width="18.4" height="2.3" fill="#fff" fill-opacity="0.404"/>
<rect x="122" y="202.3" width="25.3" height="3.5" fill="#fff" fill-opacity="0.551"/>
<rect x="122" y="146" width="26" height="2" fill="#fff" fill-opacity="0.147"/>
<rect x="122" y="152" width="26" height="2" fill="#fff" fill-opacity="0.147"/>
<rect x="122" y="158" width="26" height="2" fill="#fff" fill-opacity="0.147"/>
<rect x="122" y="191" width="26" height="2" fill="#fff" fill-opacity="0.147"/>
<rect x="123.2" y="229.9" width="31" height="3.5" fill="#fff" fill-opacity="0.220"/>
<rect x="117.4" y="237.4" width="40.3" height="3.5" fill="#fff" fill-opacity="0.257"/>
<rect x="119.7" y="250.1" width="36.8" height="3.4" fill="#fff" fill-opacity="0.220"/>
<rect x="168" y="200.6" width="16" height="6.9" fill="#fff" fill-opacity="0.110"/>
<rect x="168" y="229.4" width="18" height="4.6" fill="#fff" fill-opacity="0.129"/>
<rect x="168.6" y="237.4" width="15.5" height="2.9" fill="#fff" fill-opacity="0.514"/>
<rect x="169" y="237.2" width="4" height="3.3" fill="#fff" fill-opacity="0.294"/>
<rect x="168.6" y="250.6" width="17.8" height="2.9" fill="#fff" fill-opacity="0.588"/>
<rect x="168.6" y="274.2" width="20.1" height="5.8" fill="#fff" fill-opacity="0.294"/>
<rect x="168.6" y="281" width="20.1" height="9" fill="#fff" fill-opacity="0.165"/>
<rect x="169.2" y="321.4" width="19.5" height="10.3" fill="#fff" fill-opacity="0.147"/>
</g></g>
<rect x="0" y="259.8" width="317.8" height="1" fill="#fff"/>
<rect x="0" y="306.5" width="317.8" height="1" fill="#fff"/>
<rect x="0" y="313.4" width="317.8" height="5.6" fill="#fff"/>
<g fill="#b9b9b9">
<rect x="319.9" y="121" width="17.4" height="11.3"/>
<rect x="319.9" y="411.8" width="17.4" height="11.1"/>
<rect x="319.9" y="313.4" width="17.4" height="5.6"/>
<rect x="319.9" y="248.3" width="17.4" height="11.2"/>
<rect x="319.9" y="289.3" width="17.4" height="9.2"/>
<rect x="319.9" y="357" width="17.4" height="7.6"/>
<rect x="319.9" y="169.2" width="17.4" height="1.2" fill-opacity="0.85"/>
<rect x="319.9" y="176.46" width="17.4" height="1.2" fill-opacity="1"/>
<rect x="319.9" y="178.63" width="17.4" height="1.7" fill-opacity="0.85"/>
<rect x="319.9" y="188.41" width="17.4" height="1.5" fill-opacity="0.85"/>
<rect x="319.9" y="203.08" width="17.4" height="1.2" fill-opacity="0.85"/>
<rect x="319.9" y="205.35" width="17.4" height="1.5" fill-opacity="1"/>
<rect x="319.9" y="207.82" width="17.4" height="1.4" fill-opacity="1"/>
<rect x="319.9" y="220.02" width="17.4" height="1.2" fill-opacity="1"/>
<rect x="319.9" y="222.34" width="17.4" height="1.4" fill-opacity="0.7"/>
<rect x="319.9" y="224.76" width="17.4" height="1.4" fill-opacity="1"/>
<rect x="319.9" y="227.18" width="17.4" height="1.4" fill-opacity="0.85"/>
<rect x="319.9" y="229.6" width="17.4" height="1.4" fill-opacity="0.85"/>
<rect x="319.9" y="231.87" width="17.4" height="1.7" fill-opacity="0.85"/>
<rect x="319.9" y="234.54" width="17.4" height="1.2" fill-opacity="1"/>
<rect x="319.9" y="236.86" width="17.4" height="1.4" fill-opacity="0.55"/>
<rect x="319.9" y="241.7" width="17.4" height="1.4" fill-opacity="1"/>
<rect x="319.9" y="244.12" width="17.4" height="1.4" fill-opacity="1"/>
<rect x="319.9" y="246.39" width="17.4" height="1.7" fill-opacity="0.7"/>
<rect x="319.9" y="248.91" width="17.4" height="1.5" fill-opacity="0.55"/>
<rect x="319.9" y="251.23" width="17.4" height="1.7" fill-opacity="0.85"/>
<rect x="319.9" y="253.75" width="17.4" height="1.5" fill-opacity="0.55"/>
<rect x="319.9" y="256.32" width="17.4" height="1.2" fill-opacity="1"/>
<rect x="319.9" y="258.49" width="17.4" height="1.7" fill-opacity="1"/>
<rect x="319.9" y="261.06" width="17.4" height="1.4" fill-opacity="1"/>
<rect x="319.9" y="263.43" width="17.4" height="1.5" fill-opacity="1"/>
<rect x="319.9" y="265.85" width="17.4" height="1.5" fill-opacity="1"/>
<rect x="319.9" y="270.84" width="17.4" height="1.2" fill-opacity="1"/>
<rect x="319.9" y="273.16" width="17.4" height="1.4" fill-opacity="0.7"/>
<rect x="319.9" y="275.53" width="17.4" height="1.5" fill-opacity="0.85"/>
<rect x="319.9" y="278.1" width="17.4" height="1.2" fill-opacity="0.55"/>
<rect x="319.9" y="280.37" width="17.4" height="1.5" fill-opacity="1"/>
<rect x="319.9" y="282.84" width="17.4" height="1.4" fill-opacity="0.55"/>
<rect x="319.9" y="285.11" width="17.4" height="1.7" fill-opacity="1"/>
<rect x="319.9" y="287.53" width="17.4" height="1.7" fill-opacity="0.7"/>
<rect x="319.9" y="290.05" width="17.4" height="1.5" fill-opacity="0.55"/>
<rect x="319.9" y="292.52" width="17.4" height="1.4" fill-opacity="1"/>
<rect x="319.9" y="294.89" width="17.4" height="1.5" fill-opacity="0.55"/>
<rect x="319.9" y="297.46" width="17.4" height="1.2" fill-opacity="1"/>
<rect x="319.9" y="299.63" width="17.4" height="1.7" fill-opacity="0.55"/>
<rect x="319.9" y="302.05" width="17.4" height="1.7" fill-opacity="0.85"/>
<rect x="319.9" y="304.57" width="17.4" height="1.5" fill-opacity="1"/>
<rect x="319.9" y="306.99" width="17.4" height="1.5" fill-opacity="0.55"/>
<rect x="319.9" y="309.56" width="17.4" height="1.2" fill-opacity="0.55"/>
<rect x="319.9" y="311.98" width="17.4" height="1.2" fill-opacity="1"/>
<rect x="319.9" y="314.3" width="17.4" height="1.4" fill-opacity="0.85"/>
<rect x="319.9" y="316.57" width="17.4" height="1.7" fill-opacity="1"/>
<rect x="319.9" y="318.99" width="17.4" height="1.7" fill-opacity="0.7"/>
<rect x="319.9" y="321.51" width="17.4" height="1.5" fill-opacity="1"/>
<rect x="319.9" y="333.51" width="17.4" height="1.7" fill-opacity="0.85"/>
<rect x="319.9" y="345.61" width="17.4" height="1.7" fill-opacity="1"/>
<rect x="319.9" y="348.03" width="17.4" height="1.7" fill-opacity="1"/>
<rect x="319.9" y="355.44" width="17.4" height="1.4" fill-opacity="0.55"/>
<rect x="319.9" y="357.86" width="17.4" height="1.4" fill-opacity="0.85"/>
<rect x="319.9" y="360.13" width="17.4" height="1.7" fill-opacity="1"/>
<rect x="319.9" y="362.8" width="17.4" height="1.2" fill-opacity="0.85"/>
<rect x="319.9" y="364.97" width="17.4" height="1.7" fill-opacity="0.55"/>
<rect x="319.9" y="367.64" width="17.4" height="1.2" fill-opacity="1"/>
<rect x="319.9" y="369.96" width="17.4" height="1.4" fill-opacity="1"/>
<rect x="319.9" y="374.8" width="17.4" height="1.4" fill-opacity="1"/>
<rect x="319.9" y="377.07" width="17.4" height="1.7" fill-opacity="1"/>
<rect x="319.9" y="379.59" width="17.4" height="1.5" fill-opacity="1"/>
<rect x="319.9" y="382.16" width="17.4" height="1.2" fill-opacity="0.55"/>
<rect x="319.9" y="384.48" width="17.4" height="1.4" fill-opacity="0.55"/>
<rect x="319.9" y="387" width="17.4" height="1.2" fill-opacity="1"/>
<rect x="319.9" y="389.27" width="17.4" height="1.5" fill-opacity="1"/>
<rect x="319.9" y="391.74" width="17.4" height="1.4" fill-opacity="0.55"/>
<rect x="319.9" y="406.11" width="17.4" height="1.7" fill-opacity="1"/>
</g>
<g fill="none" stroke="#000" stroke-width="3">
<rect x="0" y="0" width="317.8" height="121"/>
<rect x="0" y="121" width="317.8" height="301.9"/>
<path d="M-12.6 36.5H-1M-12.6 111.9H-1M-12.6 422.9H-1M-12.6 362.6H-1M-12.6 302.3H-1M-12.6 242H-1M-12.6 181.7H-1M0 423.9V436.2M61.35 423.9V436.2M122.7 423.9V436.2M184.05 423.9V436.2M245.4 423.9V436.2M306.75 423.9V436.2M362 142.7H372.8M362 191.65H372.8M362 240.6H372.8M362 289.55H372.8M362 338.5H372.8M362 387.45H372.8"/>
</g>
<rect x="340" y="121" width="20.5" height="301.9" fill="url(#vg)" stroke="#000" stroke-width="3"/>
<polyline clip-path="url(#t5)" points="0,110.51 5.12,108.29 10.25,113.08 15.37,111.37 20.5,111.71 25.62,111.37 30.75,113.42 35.87,111.71 42.7,111.37 47.83,110.51 52.95,111.37 58.07,110.17 63.2,111.03 68.32,110 73.45,110.51 78.57,109.66 81.99,107.1 86.77,106.24 91.38,107.61 96.51,109.32 101.12,111.71 105.05,107.95 111.03,106.76 115.81,90.87 120.42,50.73 125.54,20.84 130.33,33.65 135.28,5.12 140.06,10.59 145.19,47.31 149.97,68.67 154.75,86.6 159.36,103.68 164.15,88.31 169.1,27.67 173.88,62.69 178.84,48.17 183.62,61.83 188.4,85.75 193.36,99.41 198.14,103.68 202.92,107.95 207.87,110.51 212.66,107.1 217.44,108.29 222.05,110 226.83,113.08 231.45,112.22 236.23,110.51 240.84,113.08 245.96,108.29 250.75,110.51 256.21,111.71 261.34,111.37 268.17,111.88 274.15,110.51 280.98,112.56 284.4,111.37 289.52,113.93 293.79,110.51 300.62,110.51 304.89,109.66 309.16,112.22 313.43,110.51 316.85,110.51" fill="none" stroke="#000" stroke-width="2.7" stroke-linejoin="round"/>
<g class="t">
<text x="308.4" y="25.7" text-anchor="end" style="font-size:22.9px">Burst 5</text>
<text x="-27" y="43.9" text-anchor="end">50.0</text>
<text x="-27" y="119.3" text-anchor="end">0.0</text>
<text x="-27" y="430.3" text-anchor="end">1.0</text>
<text x="-27" y="370" text-anchor="end">1.1</text>
<text x="-27" y="309.7" text-anchor="end">1.2</text>
<text x="-27" y="249.4" text-anchor="end">1.3</text>
<text x="-27" y="189.1" text-anchor="end">1.4</text>
<text x="-0.8" y="465.6" text-anchor="middle">0</text>
<text x="60.55" y="465.6" text-anchor="middle">5</text>
<text x="121.9" y="465.6" text-anchor="middle">10</text>
<text x="183.25" y="465.6" text-anchor="middle">15</text>
<text x="244.6" y="465.6" text-anchor="middle">20</text>
<text x="305.95" y="465.6" text-anchor="middle">25</text>
<text x="386.8" y="150.1">25</text>
<text x="386.8" y="199.05">20</text>
<text x="386.8" y="248">15</text>
<text x="386.8" y="296.95">10</text>
<text x="386.8" y="345.9">5</text>
<text x="386.8" y="394.85">0</text>
<text transform="translate(-71.6,60.5) rotate(-90)" text-anchor="middle">Normalised flux</text>
<text transform="translate(-71.6,271.95) rotate(-90)" text-anchor="middle">Frequency (GHz)</text>
</g>
</g>
<g transform="translate(649,542.8)">
<g clip-path="url(#c6)"><g filter="url(#h6)">
<rect x="-17" y="122.9" width="351.8" height="300.3" fill="rgb(98,98,98)"/>
<g filter="url(#soft)"><rect x="153.3" y="284.7" width="19.6" height="12.5" fill="#fff" fill-opacity="0.249"/><rect x="150" y="240" width="25" height="18" fill="#fff" fill-opacity="0.133"/></g>
<rect x="156" y="293" width="12" height="3" fill="#fff" fill-opacity="0.332"/>
<rect x="145" y="328.5" width="36.3" height="2" fill="#fff" fill-opacity="0.497"/>
</g></g>
<rect x="0" y="258.9" width="317.8" height="5.3" fill="#fff"/>
<rect x="0" y="273.5" width="317.8" height="3.6" fill="#fff"/>
<rect x="0" y="297.2" width="317.8" height="8.4" fill="#fff"/>
<rect x="0" y="307.2" width="317.8" height="0.8" fill="#fff"/>
<rect x="0" y="312.6" width="317.8" height="8.4" fill="#fff"/>
<g fill="#b9b9b9">
<rect x="319.9" y="121" width="17.4" height="18.9"/>
<rect x="319.9" y="406.2" width="17.4" height="16.7"/>
<rect x="319.9" y="258.9" width="17.4" height="5.3"/>
<rect x="319.9" y="273.5" width="17.4" height="3.6"/>
<rect x="319.9" y="297.2" width="17.4" height="8.4"/>
<rect x="319.9" y="312.6" width="17.4" height="8.4"/>
<rect x="319.9" y="357" width="17.4" height="7"/>
<rect x="319.9" y="145.19" width="17.4" height="1.5" fill-opacity="0.55"/>
<rect x="319.9" y="164.7" width="17.4" height="1.2" fill-opacity="0.85"/>
<rect x="319.9" y="166.97" width="17.4" height="1.5" fill-opacity="0.55"/>
<rect x="319.9" y="169.39" width="17.4" height="1.5" fill-opacity="0.55"/>
<rect x="319.9" y="171.71" width="17.4" height="1.7" fill-opacity="0.55"/>
<rect x="319.9" y="217.84" width="17.4" height="1.4" fill-opacity="0.7"/>
<rect x="319.9" y="220.36" width="17.4" height="1.2" fill-opacity="0.55"/>
<rect x="319.9" y="222.78" width="17.4" height="1.2" fill-opacity="1"/>
<rect x="319.9" y="225.05" width="17.4" height="1.5" fill-opacity="1"/>
<rect x="319.9" y="227.52" width="17.4" height="1.4" fill-opacity="0.55"/>
<rect x="319.9" y="230.04" width="17.4" height="1.2" fill-opacity="1"/>
<rect x="319.9" y="232.21" width="17.4" height="1.7" fill-opacity="0.55"/>
<rect x="319.9" y="234.88" width="17.4" height="1.2" fill-opacity="0.7"/>
<rect x="319.9" y="244.31" width="17.4" height="1.7" fill-opacity="1"/>
<rect x="319.9" y="246.98" width="17.4" height="1.2" fill-opacity="1"/>
<rect x="319.9" y="249.25" width="17.4" height="1.5" fill-opacity="1"/>
<rect x="319.9" y="251.67" width="17.4" height="1.5" fill-opacity="1"/>
<rect x="319.9" y="253.99" width="17.4" height="1.7" fill-opacity="0.7"/>
<rect x="319.9" y="256.56" width="17.4" height="1.4" fill-opacity="0.55"/>
<rect x="319.9" y="259.08" width="17.4" height="1.2" fill-opacity="0.7"/>
<rect x="319.9" y="261.5" width="17.4" height="1.2" fill-opacity="0.85"/>
<rect x="319.9" y="266.09" width="17.4" height="1.7" fill-opacity="1"/>
<rect x="319.9" y="268.66" width="17.4" height="1.4" fill-opacity="1"/>
<rect x="319.9" y="271.03" width="17.4" height="1.5" fill-opacity="0.55"/>
<rect x="319.9" y="273.45" width="17.4" height="1.5" fill-opacity="0.55"/>
<rect x="319.9" y="276.02" width="17.4" height="1.2" fill-opacity="0.7"/>
<rect x="319.9" y="278.44" width="17.4" height="1.2" fill-opacity="0.85"/>
<rect x="319.9" y="280.71" width="17.4" height="1.5" fill-opacity="1"/>
<rect x="319.9" y="283.28" width="17.4" height="1.2" fill-opacity="1"/>
<rect x="319.9" y="285.55" width="17.4" height="1.5" fill-opacity="0.7"/>
<rect x="319.9" y="287.87" width="17.4" height="1.7" fill-opacity="1"/>
<rect x="319.9" y="290.39" width="17.4" height="1.5" fill-opacity="0.7"/>
<rect x="319.9" y="292.96" width="17.4" height="1.2" fill-opacity="1"/>
<rect x="319.9" y="295.28" width="17.4" height="1.4" fill-opacity="0.85"/>
<rect x="319.9" y="297.7" width="17.4" height="1.4" fill-opacity="1"/>
<rect x="319.9" y="300.22" width="17.4" height="1.2" fill-opacity="1"/>
<rect x="319.9" y="302.64" width="17.4" height="1.2" fill-opacity="0.85"/>
<rect x="319.9" y="304.96" width="17.4" height="1.4" fill-opacity="1"/>
<rect x="319.9" y="307.33" width="17.4" height="1.5" fill-opacity="0.7"/>
<rect x="319.9" y="309.65" width="17.4" height="1.7" fill-opacity="0.7"/>
<rect x="319.9" y="312.32" width="17.4" height="1.2" fill-opacity="1"/>
<rect x="319.9" y="314.64" width="17.4" height="1.4" fill-opacity="1"/>
<rect x="319.9" y="321.75" width="17.4" height="1.7" fill-opacity="0.55"/>
<rect x="319.9" y="326.59" width="17.4" height="1.7" fill-opacity="1"/>
<rect x="319.9" y="334" width="17.4" height="1.4" fill-opacity="0.85"/>
<rect x="319.9" y="336.27" width="17.4" height="1.7" fill-opacity="1"/>
<rect x="319.9" y="341.26" width="17.4" height="1.4" fill-opacity="0.7"/>
<rect x="319.9" y="343.63" width="17.4" height="1.5" fill-opacity="0.7"/>
<rect x="319.9" y="346.2" width="17.4" height="1.2" fill-opacity="1"/>
<rect x="319.9" y="360.62" width="17.4" height="1.4" fill-opacity="0.85"/>
<rect x="319.9" y="363.04" width="17.4" height="1.4" fill-opacity="0.55"/>
<rect x="319.9" y="365.46" width="17.4" height="1.4" fill-opacity="1"/>
<rect x="319.9" y="370.3" width="17.4" height="1.4" fill-opacity="0.55"/>
<rect x="319.9" y="380.08" width="17.4" height="1.2" fill-opacity="1"/>
<rect x="319.9" y="382.25" width="17.4" height="1.7" fill-opacity="0.85"/>
<rect x="319.9" y="384.92" width="17.4" height="1.2" fill-opacity="1"/>
<rect x="319.9" y="387.09" width="17.4" height="1.7" fill-opacity="0.85"/>
<rect x="319.9" y="389.76" width="17.4" height="1.2" fill-opacity="0.7"/>
<rect x="319.9" y="394.5" width="17.4" height="1.4" fill-opacity="0.55"/>
<rect x="319.9" y="396.92" width="17.4" height="1.4" fill-opacity="1"/>
<rect x="319.9" y="399.19" width="17.4" height="1.7" fill-opacity="1"/>
</g>
<g fill="none" stroke="#000" stroke-width="3">
<rect x="0" y="0" width="317.8" height="121"/>
<rect x="0" y="121" width="317.8" height="301.9"/>
<path d="M-12.6 21.9H-1M-12.6 91H-1M-12.6 422.9H-1M-12.6 362.6H-1M-12.6 302.3H-1M-12.6 242H-1M-12.6 181.7H-1M0 423.9V436.2M61.35 423.9V436.2M122.7 423.9V436.2M184.05 423.9V436.2M245.4 423.9V436.2M306.75 423.9V436.2M362 122H372.8M362 183.6H372.8M362 245.2H372.8M362 306.8H372.8M362 368.4H372.8"/>
</g>
<rect x="340" y="121" width="20.5" height="301.9" fill="url(#vg)" stroke="#000" stroke-width="3"/>
<polyline clip-path="url(#t6)" points="0,101.12 4.78,96.85 9.57,83.53 14.35,92.58 19.13,114.44 23.91,93.43 28.7,105.39 33.48,90.87 38.26,77.21 43.04,80.62 47.83,70.71 52.78,93.43 57.56,72.08 62.35,97.36 67.13,88.31 72.08,95.65 76.86,115.13 81.65,90.87 86.43,90.02 91.38,83.18 96.17,88.31 100.95,85.4 105.73,82.33 110.68,86.6 115.47,84.89 120.25,92.58 125.03,103.68 129.81,46.46 134.6,72.42 139.38,70.37 144.33,24.6 149.12,32.8 154.07,60.98 158.85,5.12 163.63,11.44 168.59,13.15 173.37,15.71 178.15,34.5 182.94,55.85 187.89,71.74 192.67,53.29 197.45,77.21 202.24,77.21 207.02,60.47 211.8,80.62 216.76,101.46 221.54,88.31 226.32,75.16 231.28,92.58 236.06,92.24 240.84,81.99 245.62,100.78 250.41,82.33 255.19,75.5 259.97,109.66 264.75,90.02 269.54,89.16 274.32,79.77 279.27,107.1 284.06,95.14 288.84,84.89 293.79,89.16 298.57,109.66 303.36,75.5 308.31,99.41 312.92,92.24 316.85,70.37" fill="none" stroke="#000" stroke-width="2.7" stroke-linejoin="round"/>
<g class="t">
<text x="308.4" y="25.7" text-anchor="end" style="font-size:22.9px">Burst 6</text>
<text x="-27" y="29.3" text-anchor="end">5.0</text>
<text x="-27" y="98.4" text-anchor="end">0.0</text>
<text x="-27" y="430.3" text-anchor="end">1.0</text>
<text x="-27" y="370" text-anchor="end">1.1</text>
<text x="-27" y="309.7" text-anchor="end">1.2</text>
<text x="-27" y="249.4" text-anchor="end">1.3</text>
<text x="-27" y="189.1" text-anchor="end">1.4</text>
<text x="-0.8" y="465.6" text-anchor="middle">0</text>
<text x="60.55" y="465.6" text-anchor="middle">5</text>
<text x="121.9" y="465.6" text-anchor="middle">10</text>
<text x="183.25" y="465.6" text-anchor="middle">15</text>
<text x="244.6" y="465.6" text-anchor="middle">20</text>
<text x="305.95" y="465.6" text-anchor="middle">25</text>
<text x="386.8" y="129.4">6</text>
<text x="386.8" y="191">4</text>
<text x="386.8" y="252.6">2</text>
<text x="386.8" y="314.2">0</text>
<text x="386.8" y="375.8">−2</text>
</g>
</g>
<g transform="translate(1180,542.8)">
<g clip-path="url(#c7)"><g filter="url(#h7)">
<rect x="-17" y="117.6" width="351.8" height="310.7" fill="rgb(65,65,65)"/>
<g filter="url(#soft)"><rect x="148.2" y="321.1" width="17.4" height="89.9" fill="#fff" fill-opacity="0.153"/><rect x="150" y="266" width="13" height="28" fill="#fff" fill-opacity="0.096"/></g>
<rect x="149" y="326.5" width="12.4" height="2.5" fill="#fff" fill-opacity="0.335"/>
<rect x="153.1" y="341" width="10" height="2" fill="#fff" fill-opacity="0.431"/>
<rect x="149" y="374" width="18.2" height="7.5" fill="#fff" fill-opacity="0.240"/>
<rect x="152.3" y="389" width="15.7" height="2.5" fill="#fff" fill-opacity="0.575"/>
<rect x="150.6" y="392.7" width="19.1" height="2.9" fill="#fff" fill-opacity="0.671"/>
<rect x="151.5" y="400.6" width="11.6" height="4.1" fill="#fff" fill-opacity="0.287"/>
</g></g>
<rect x="0" y="137.5" width="317.8" height="1" fill="#fff"/>
<rect x="0" y="139.8" width="317.8" height="0.8" fill="#fff"/>
<rect x="0" y="255.9" width="317.8" height="10" fill="#fff"/>
<rect x="0" y="273.5" width="317.8" height="3.6" fill="#fff"/>
<rect x="0" y="293.9" width="317.8" height="17.3" fill="#fff"/>
<rect x="0" y="312.6" width="317.8" height="8.4" fill="#fff"/>
<rect x="0" y="368.5" width="317.8" height="1.2" fill="#fff"/>
<g fill="#b9b9b9">
<rect x="319.9" y="121" width="17.4" height="13.6"/>
<rect x="319.9" y="411.3" width="17.4" height="11.6"/>
<rect x="319.9" y="255.9" width="17.4" height="10"/>
<rect x="319.9" y="273.5" width="17.4" height="3.6"/>
<rect x="319.9" y="293.9" width="17.4" height="17.3"/>
<rect x="319.9" y="312.6" width="17.4" height="8.4"/>
<rect x="319.9" y="357" width="17.4" height="7"/>
<rect x="319.9" y="166.41" width="17.4" height="1.7" fill-opacity="0.7"/>
<rect x="319.9" y="169.08" width="17.4" height="1.2" fill-opacity="0.55"/>
<rect x="319.9" y="176.19" width="17.4" height="1.5" fill-opacity="1"/>
<rect x="319.9" y="178.66" width="17.4" height="1.4" fill-opacity="0.55"/>
<rect x="319.9" y="181.03" width="17.4" height="1.5" fill-opacity="0.55"/>
<rect x="319.9" y="183.6" width="17.4" height="1.2" fill-opacity="0.55"/>
<rect x="319.9" y="207.7" width="17.4" height="1.4" fill-opacity="0.55"/>
<rect x="319.9" y="209.97" width="17.4" height="1.7" fill-opacity="1"/>
<rect x="319.9" y="212.54" width="17.4" height="1.4" fill-opacity="1"/>
<rect x="319.9" y="214.96" width="17.4" height="1.4" fill-opacity="0.55"/>
<rect x="319.9" y="217.33" width="17.4" height="1.5" fill-opacity="0.55"/>
<rect x="319.9" y="219.8" width="17.4" height="1.4" fill-opacity="0.85"/>
<rect x="319.9" y="222.07" width="17.4" height="1.7" fill-opacity="0.7"/>
<rect x="319.9" y="236.74" width="17.4" height="1.4" fill-opacity="0.7"/>
<rect x="319.9" y="239.16" width="17.4" height="1.4" fill-opacity="0.85"/>
<rect x="319.9" y="241.68" width="17.4" height="1.2" fill-opacity="1"/>
<rect x="319.9" y="243.85" width="17.4" height="1.7" fill-opacity="0.85"/>
<rect x="319.9" y="246.42" width="17.4" height="1.4" fill-opacity="1"/>
<rect x="319.9" y="248.79" width="17.4" height="1.5" fill-opacity="1"/>
<rect x="319.9" y="251.36" width="17.4" height="1.2" fill-opacity="1"/>
<rect x="319.9" y="253.53" width="17.4" height="1.7" fill-opacity="0.85"/>
<rect x="319.9" y="258.37" width="17.4" height="1.7" fill-opacity="0.7"/>
<rect x="319.9" y="261.04" width="17.4" height="1.2" fill-opacity="0.7"/>
<rect x="319.9" y="263.46" width="17.4" height="1.2" fill-opacity="1"/>
<rect x="319.9" y="265.73" width="17.4" height="1.5" fill-opacity="0.55"/>
<rect x="319.9" y="268.15" width="17.4" height="1.5" fill-opacity="1"/>
<rect x="319.9" y="270.62" width="17.4" height="1.4" fill-opacity="1"/>
<rect x="319.9" y="273.14" width="17.4" height="1.2" fill-opacity="1"/>
<rect x="319.9" y="275.56" width="17.4" height="1.2" fill-opacity="1"/>
<rect x="319.9" y="277.73" width="17.4" height="1.7" fill-opacity="1"/>
<rect x="319.9" y="280.15" width="17.4" height="1.7" fill-opacity="0.85"/>
<rect x="319.9" y="282.57" width="17.4" height="1.7" fill-opacity="0.7"/>
<rect x="319.9" y="285.09" width="17.4" height="1.5" fill-opacity="0.55"/>
<rect x="319.9" y="287.51" width="17.4" height="1.5" fill-opacity="1"/>
<rect x="319.9" y="289.98" width="17.4" height="1.4" fill-opacity="0.55"/>
<rect x="319.9" y="292.35" width="17.4" height="1.5" fill-opacity="0.7"/>
<rect x="319.9" y="294.67" width="17.4" height="1.7" fill-opacity="0.55"/>
<rect x="319.9" y="297.34" width="17.4" height="1.2" fill-opacity="0.85"/>
<rect x="319.9" y="299.51" width="17.4" height="1.7" fill-opacity="0.55"/>
<rect x="319.9" y="301.93" width="17.4" height="1.7" fill-opacity="1"/>
<rect x="319.9" y="304.45" width="17.4" height="1.5" fill-opacity="0.55"/>
<rect x="319.9" y="306.87" width="17.4" height="1.5" fill-opacity="0.55"/>
<rect x="319.9" y="309.19" width="17.4" height="1.7" fill-opacity="0.85"/>
<rect x="319.9" y="311.61" width="17.4" height="1.7" fill-opacity="0.7"/>
<rect x="319.9" y="314.13" width="17.4" height="1.5" fill-opacity="0.85"/>
<rect x="319.9" y="316.55" width="17.4" height="1.5" fill-opacity="1"/>
<rect x="319.9" y="319.02" width="17.4" height="1.4" fill-opacity="0.55"/>
<rect x="319.9" y="333.64" width="17.4" height="1.2" fill-opacity="0.85"/>
<rect x="319.9" y="335.91" width="17.4" height="1.5" fill-opacity="0.55"/>
<rect x="319.9" y="338.38" width="17.4" height="1.4" fill-opacity="0.85"/>
<rect x="319.9" y="340.65" width="17.4" height="1.7" fill-opacity="1"/>
<rect x="319.9" y="343.22" width="17.4" height="1.4" fill-opacity="1"/>
<rect x="319.9" y="345.74" width="17.4" height="1.2" fill-opacity="1"/>
<rect x="319.9" y="348.06" width="17.4" height="1.4" fill-opacity="1"/>
<rect x="319.9" y="350.48" width="17.4" height="1.4" fill-opacity="1"/>
<rect x="319.9" y="352.75" width="17.4" height="1.7" fill-opacity="0.7"/>
<rect x="319.9" y="355.17" width="17.4" height="1.7" fill-opacity="0.85"/>
<rect x="319.9" y="357.84" width="17.4" height="1.2" fill-opacity="1"/>
<rect x="319.9" y="360.01" width="17.4" height="1.7" fill-opacity="1"/>
<rect x="319.9" y="362.43" width="17.4" height="1.7" fill-opacity="0.55"/>
<rect x="319.9" y="364.85" width="17.4" height="1.7" fill-opacity="0.7"/>
<rect x="319.9" y="367.27" width="17.4" height="1.7" fill-opacity="0.55"/>
<rect x="319.9" y="369.94" width="17.4" height="1.2" fill-opacity="0.85"/>
<rect x="319.9" y="372.21" width="17.4" height="1.5" fill-opacity="1"/>
<rect x="319.9" y="374.53" width="17.4" height="1.7" fill-opacity="0.55"/>
<rect x="319.9" y="377.1" width="17.4" height="1.4" fill-opacity="0.85"/>
<rect x="319.9" y="379.62" width="17.4" height="1.2" fill-opacity="1"/>
<rect x="319.9" y="382.04" width="17.4" height="1.2" fill-opacity="0.55"/>
<rect x="319.9" y="384.31" width="17.4" height="1.5" fill-opacity="1"/>
<rect x="319.9" y="389.2" width="17.4" height="1.4" fill-opacity="0.85"/>
<rect x="319.9" y="391.47" width="17.4" height="1.7" fill-opacity="0.55"/>
<rect x="319.9" y="393.99" width="17.4" height="1.5" fill-opacity="0.85"/>
<rect x="319.9" y="398.83" width="17.4" height="1.5" fill-opacity="0.85"/>
<rect x="319.9" y="406.24" width="17.4" height="1.2" fill-opacity="1"/>
<rect x="319.9" y="408.56" width="17.4" height="1.4" fill-opacity="1"/>
</g>
<g fill="none" stroke="#000" stroke-width="3">
<rect x="0" y="0" width="317.8" height="121"/>
<rect x="0" y="121" width="317.8" height="301.9"/>
<path d="M-12.6 12.2H-1M-12.6 106.6H-1M-12.6 422.9H-1M-12.6 362.6H-1M-12.6 302.3H-1M-12.6 242H-1M-12.6 181.7H-1M0 423.9V436.2M61.35 423.9V436.2M122.7 423.9V436.2M184.05 423.9V436.2M245.4 423.9V436.2M306.75 423.9V436.2M362 130.4H372.8M362 173.44H372.8M362 216.48H372.8M362 259.52H372.8M362 302.56H372.8M362 345.6H372.8M362 388.64H372.8"/>
</g>
<rect x="340" y="121" width="20.5" height="301.9" fill="url(#vg)" stroke="#000" stroke-width="3"/>
<polyline clip-path="url(#t7)" points="0,110.51 4.78,108.29 9.39,98.56 14.01,105.39 18.79,105.9 23.57,111.37 28.35,110.51 33.14,108.81 37.92,111.37 42.7,110.51 47.48,101.12 52.27,97.7 57.22,98.04 62.17,105.39 66.96,101.12 71.74,100.78 76.52,102.83 81.3,100.26 86.26,107.95 91.04,111.03 95.82,113.59 100.61,109.66 105.39,99.75 110.17,100.26 114.95,105.39 119.74,102.83 124.69,93.09 129.47,95.14 134.26,102.49 139.21,87.11 143.99,90.53 148.77,44.75 153.73,5.12 158.51,14.01 163.29,39.63 168.08,61.83 172.86,78.91 177.81,98.56 182.59,104.53 187.38,100.26 192.16,100.26 196.94,108.29 201.73,101.63 206.68,106.76 211.46,102.83 216.24,101.97 221.03,110.51 225.81,101.46 230.59,110.17 235.37,112.22 240.33,106.24 245.11,106.24 249.89,106.24 254.68,108.46 259.63,108.29 264.41,97.7 269.19,101.12 274.15,107.95 278.76,106.24 283.54,94.63 288.33,101.97 293.28,115.13 298.06,100.26 302.84,104.53 307.63,106.58 312.58,104.53 316.85,102.83" fill="none" stroke="#000" stroke-width="2.7" stroke-linejoin="round"/>
<g class="t">
<text x="308.4" y="25.7" text-anchor="end" style="font-size:22.9px">Burst 7</text>
<text x="-27" y="19.6" text-anchor="end">20.0</text>
<text x="-27" y="114" text-anchor="end">0.0</text>
<text x="-27" y="430.3" text-anchor="end">1.0</text>
<text x="-27" y="370" text-anchor="end">1.1</text>
<text x="-27" y="309.7" text-anchor="end">1.2</text>
<text x="-27" y="249.4" text-anchor="end">1.3</text>
<text x="-27" y="189.1" text-anchor="end">1.4</text>
<text x="-0.8" y="465.6" text-anchor="middle">0</text>
<text x="60.55" y="465.6" text-anchor="middle">5</text>
<text x="121.9" y="465.6" text-anchor="middle">10</text>
<text x="183.25" y="465.6" text-anchor="middle">15</text>
<text x="244.6" y="465.6" text-anchor="middle">20</text>
<text x="305.95" y="465.6" text-anchor="middle">25</text>
<text x="386.8" y="137.8">10</text>
<text x="386.8" y="180.84">8</text>
<text x="386.8" y="223.88">6</text>
<text x="386.8" y="266.92">4</text>
<text x="386.8" y="309.96">2</text>
<text x="386.8" y="353">0</text>
<text x="386.8" y="396.04">−2</text>
</g>
</g>
<g transform="translate(1711.9,542.8)">
<g clip-path="url(#c8)"><g filter="url(#h8)">
<rect x="-17" y="123.7" width="351.8" height="299.5" fill="rgb(99,99,99)"/>
<g filter="url(#soft)"><rect x="151" y="322" width="8" height="84" fill="#fff" fill-opacity="0.145"/></g>
<rect x="150.5" y="376" width="9.8" height="2" fill="#fff" fill-opacity="0.635"/>
<rect x="150.5" y="390" width="9.8" height="2" fill="#fff" fill-opacity="0.454"/>
<rect x="149" y="398" width="12" height="3" fill="#fff" fill-opacity="0.816"/>
<rect x="150.5" y="404" width="9.5" height="2" fill="#fff" fill-opacity="0.454"/>
<rect x="190" y="398" width="7" height="3" fill="#fff" fill-opacity="0.635"/>
</g></g>
<rect x="0" y="255.9" width="317.8" height="10" fill="#fff"/>
<rect x="0" y="293.9" width="317.8" height="8.9" fill="#fff"/>
<rect x="0" y="307.2" width="317.8" height="0.8" fill="#fff"/>
<rect x="0" y="312.6" width="317.8" height="8.4" fill="#fff"/>
<rect x="0" y="368.5" width="317.8" height="1.2" fill="#fff"/>
<g fill="#b9b9b9">
<rect x="319.9" y="121" width="17.4" height="19.7"/>
<rect x="319.9" y="406.2" width="17.4" height="16.7"/>
<rect x="319.9" y="255.9" width="17.4" height="10"/>
<rect x="319.9" y="293.9" width="17.4" height="8.9"/>
<rect x="319.9" y="312.6" width="17.4" height="8.4"/>
<rect x="319.9" y="357" width="17.4" height="7"/>
<rect x="319.9" y="153.3" width="17.4" height="1.4" fill-opacity="1"/>
<rect x="319.9" y="184.86" width="17.4" height="1.2" fill-opacity="0.7"/>
<rect x="319.9" y="196.71" width="17.4" height="1.7" fill-opacity="0.85"/>
<rect x="319.9" y="221.01" width="17.4" height="1.5" fill-opacity="0.55"/>
<rect x="319.9" y="223.48" width="17.4" height="1.4" fill-opacity="1"/>
<rect x="319.9" y="226" width="17.4" height="1.2" fill-opacity="0.7"/>
<rect x="319.9" y="228.27" width="17.4" height="1.5" fill-opacity="1"/>
<rect x="319.9" y="247.53" width="17.4" height="1.7" fill-opacity="0.85"/>
<rect x="319.9" y="250.1" width="17.4" height="1.4" fill-opacity="0.55"/>
<rect x="319.9" y="252.37" width="17.4" height="1.7" fill-opacity="1"/>
<rect x="319.9" y="254.89" width="17.4" height="1.5" fill-opacity="0.7"/>
<rect x="319.9" y="257.31" width="17.4" height="1.5" fill-opacity="0.55"/>
<rect x="319.9" y="259.73" width="17.4" height="1.5" fill-opacity="0.7"/>
<rect x="319.9" y="262.3" width="17.4" height="1.2" fill-opacity="0.85"/>
<rect x="319.9" y="264.62" width="17.4" height="1.4" fill-opacity="0.55"/>
<rect x="319.9" y="267.04" width="17.4" height="1.4" fill-opacity="0.7"/>
<rect x="319.9" y="269.41" width="17.4" height="1.5" fill-opacity="1"/>
<rect x="319.9" y="271.83" width="17.4" height="1.5" fill-opacity="0.55"/>
<rect x="319.9" y="274.25" width="17.4" height="1.5" fill-opacity="0.85"/>
<rect x="319.9" y="276.72" width="17.4" height="1.4" fill-opacity="1"/>
<rect x="319.9" y="279.14" width="17.4" height="1.4" fill-opacity="1"/>
<rect x="319.9" y="281.41" width="17.4" height="1.7" fill-opacity="1"/>
<rect x="319.9" y="283.83" width="17.4" height="1.7" fill-opacity="0.7"/>
<rect x="319.9" y="286.5" width="17.4" height="1.2" fill-opacity="0.7"/>
<rect x="319.9" y="288.77" width="17.4" height="1.5" fill-opacity="1"/>
<rect x="319.9" y="291.24" width="17.4" height="1.4" fill-opacity="0.55"/>
<rect x="319.9" y="293.76" width="17.4" height="1.2" fill-opacity="1"/>
<rect x="319.9" y="296.18" width="17.4" height="1.2" fill-opacity="1"/>
<rect x="319.9" y="301.02" width="17.4" height="1.2" fill-opacity="1"/>
<rect x="319.9" y="303.44" width="17.4" height="1.2" fill-opacity="0.55"/>
<rect x="319.9" y="305.71" width="17.4" height="1.5" fill-opacity="0.55"/>
<rect x="319.9" y="308.03" width="17.4" height="1.7" fill-opacity="0.85"/>
<rect x="319.9" y="310.7" width="17.4" height="1.2" fill-opacity="0.7"/>
<rect x="319.9" y="312.97" width="17.4" height="1.5" fill-opacity="0.85"/>
<rect x="319.9" y="315.29" width="17.4" height="1.7" fill-opacity="0.7"/>
<rect x="319.9" y="317.96" width="17.4" height="1.2" fill-opacity="0.55"/>
<rect x="319.9" y="320.38" width="17.4" height="1.2" fill-opacity="1"/>
<rect x="319.9" y="322.8" width="17.4" height="1.2" fill-opacity="0.85"/>
<rect x="319.9" y="325.12" width="17.4" height="1.4" fill-opacity="0.55"/>
<rect x="319.9" y="327.39" width="17.4" height="1.7" fill-opacity="0.85"/>
<rect x="319.9" y="329.91" width="17.4" height="1.5" fill-opacity="0.7"/>
<rect x="319.9" y="332.33" width="17.4" height="1.5" fill-opacity="0.85"/>
<rect x="319.9" y="334.9" width="17.4" height="1.2" fill-opacity="0.55"/>
<rect x="319.9" y="337.22" width="17.4" height="1.4" fill-opacity="1"/>
<rect x="319.9" y="339.49" width="17.4" height="1.7" fill-opacity="1"/>
<rect x="319.9" y="342.06" width="17.4" height="1.4" fill-opacity="0.55"/>
<rect x="319.9" y="344.58" width="17.4" height="1.2" fill-opacity="0.7"/>
<rect x="319.9" y="346.85" width="17.4" height="1.5" fill-opacity="1"/>
<rect x="319.9" y="349.42" width="17.4" height="1.2" fill-opacity="0.55"/>
<rect x="319.9" y="351.84" width="17.4" height="1.2" fill-opacity="0.85"/>
<rect x="319.9" y="354.01" width="17.4" height="1.7" fill-opacity="0.85"/>
<rect x="319.9" y="356.58" width="17.4" height="1.4" fill-opacity="1"/>
<rect x="319.9" y="359" width="17.4" height="1.4" fill-opacity="1"/>
<rect x="319.9" y="361.27" width="17.4" height="1.7" fill-opacity="0.7"/>
<rect x="319.9" y="363.79" width="17.4" height="1.5" fill-opacity="1"/>
<rect x="319.9" y="366.36" width="17.4" height="1.2" fill-opacity="0.85"/>
<rect x="319.9" y="368.53" width="17.4" height="1.7" fill-opacity="0.7"/>
<rect x="319.9" y="378.36" width="17.4" height="1.4" fill-opacity="0.7"/>
<rect x="319.9" y="380.63" width="17.4" height="1.7" fill-opacity="1"/>
<rect x="319.9" y="383.05" width="17.4" height="1.7" fill-opacity="1"/>
<rect x="319.9" y="385.72" width="17.4" height="1.2" fill-opacity="1"/>
<rect x="319.9" y="387.89" width="17.4" height="1.7" fill-opacity="1"/>
<rect x="319.9" y="390.56" width="17.4" height="1.2" fill-opacity="0.55"/>
<rect x="319.9" y="392.98" width="17.4" height="1.2" fill-opacity="0.7"/>
<rect x="319.9" y="399.99" width="17.4" height="1.7" fill-opacity="0.7"/>
</g>
<g fill="none" stroke="#000" stroke-width="3">
<rect x="0" y="0" width="317.8" height="121"/>
<rect x="0" y="121" width="317.8" height="301.9"/>
<path d="M-12.6 14.4H-1M-12.6 100.2H-1M-12.6 422.9H-1M-12.6 362.6H-1M-12.6 302.3H-1M-12.6 242H-1M-12.6 181.7H-1M0 423.9V436.2M61.35 423.9V436.2M122.7 423.9V436.2M184.05 423.9V436.2M245.4 423.9V436.2M306.75 423.9V436.2M362 171.5H372.8M362 238.3H372.8M362 305.1H372.8M362 371.9H372.8"/>
</g>
<rect x="340" y="121" width="20.5" height="301.9" fill="url(#vg)" stroke="#000" stroke-width="3"/>
<polyline clip-path="url(#t8)" points="0,90.02 3.93,92.58 8.88,78.91 13.66,76.35 18.45,100.78 23.23,102.49 28.01,92.58 32.8,91.21 37.58,97.7 42.36,114.44 47.14,114.78 51.93,96.85 56.71,86.6 61.49,92.92 66.27,92.24 71.23,94.63 76.01,102.83 80.79,112.56 85.75,90.87 90.53,76.35 95.31,84.04 100.09,104.88 104.88,100.78 109.66,94.63 114.44,88.82 119.22,100.78 124.18,93.94 128.96,99.07 133.74,98.56 138.7,90.53 143.48,91.21 148.26,44.75 153.04,5.12 157.83,37.07 162.61,66.1 167.39,79.43 172.35,101.46 177.13,100.26 182.08,82.33 186.69,94.8 191.65,66.62 196.43,65.25 201.21,90.02 206,90.53 210.78,90.53 215.56,86.6 220.34,85.4 225.3,110.51 230.08,106.24 234.86,90.87 239.64,108.46 244.6,97.36 249.38,96.51 254.16,89.5 258.95,101.46 263.9,97.7 268.51,96.51 273.46,106.24 278.25,94.29 283.03,106.76 287.81,94.29 292.77,110.51 297.55,113.08 302.33,100.26 307.11,97.36 311.9,96.34 316,96.51" fill="none" stroke="#000" stroke-width="2.7" stroke-linejoin="round"/>
<g class="t">
<text x="308.4" y="25.7" text-anchor="end" style="font-size:22.9px">Burst 8</text>
<text x="-27" y="21.8" text-anchor="end">10.0</text>
<text x="-27" y="107.6" text-anchor="end">0.0</text>
<text x="-27" y="430.3" text-anchor="end">1.0</text>
<text x="-27" y="370" text-anchor="end">1.1</text>
<text x="-27" y="309.7" text-anchor="end">1.2</text>
<text x="-27" y="249.4" text-anchor="end">1.3</text>
<text x="-27" y="189.1" text-anchor="end">1.4</text>
<text x="-0.8" y="465.6" text-anchor="middle">0</text>
<text x="60.55" y="465.6" text-anchor="middle">5</text>
<text x="121.9" y="465.6" text-anchor="middle">10</text>
<text x="183.25" y="465.6" text-anchor="middle">15</text>
<text x="244.6" y="465.6" text-anchor="middle">20</text>
<text x="305.95" y="465.6" text-anchor="middle">25</text>
<text x="386.8" y="178.9">4</text>
<text x="386.8" y="245.7">2</text>
<text x="386.8" y="312.5">0</text>
<text x="386.8" y="379.3">−2</text>
</g>
</g>
<g transform="translate(117,1074.4)">
<g clip-path="url(#c9)"><g filter="url(#h9)">
<rect x="-17" y="114.7" width="351.8" height="313.5" fill="rgb(24,24,24)"/>
<g filter="url(#soft)"><rect x="119.7" y="373.5" width="46" height="37.5" fill="#fff" fill-opacity="0.131"/><rect x="169" y="381.8" width="18.2" height="26.2" fill="#fff" fill-opacity="0.116"/></g>
<rect x="119.7" y="381.8" width="44.3" height="3.3" fill="#fff" fill-opacity="0.247"/>
<rect x="119.7" y="386.8" width="44.3" height="4.9" fill="#fff" fill-opacity="0.291"/>
<rect x="119.7" y="386.8" width="21.3" height="4.9" fill="#fff" fill-opacity="0.087"/>
<rect x="119.7" y="397.5" width="20.3" height="4.2" fill="#fff" fill-opacity="0.814"/>
<rect x="140" y="397.9" width="14.9" height="3.4" fill="#fff" fill-opacity="0.436"/>
<rect x="154.9" y="397.5" width="9.1" height="4.2" fill="#fff" fill-opacity="0.669"/>
<rect x="176.5" y="397.9" width="10.7" height="3.4" fill="#fff" fill-opacity="0.320"/>
<rect x="187.2" y="398.3" width="11.8" height="2.7" fill="#fff" fill-opacity="0.116"/>
<rect x="119.7" y="403.3" width="46" height="7.5" fill="#fff" fill-opacity="0.102"/>
</g></g>
<rect x="0" y="248.2" width="317.8" height="1.4" fill="#fff"/>
<rect x="0" y="253.2" width="317.8" height="9.5" fill="#fff"/>
<rect x="0" y="295.7" width="317.8" height="4.8" fill="#fff"/>
<rect x="0" y="313.1" width="317.8" height="6.4" fill="#fff"/>
<g fill="#b9b9b9">
<rect x="319.9" y="121" width="17.4" height="10.7"/>
<rect x="319.9" y="411.2" width="17.4" height="11.7"/>
<rect x="319.9" y="253.2" width="17.4" height="9.5"/>
<rect x="319.9" y="295.7" width="17.4" height="4.8"/>
<rect x="319.9" y="313.1" width="17.4" height="6.4"/>
<rect x="319.9" y="357" width="17.4" height="7"/>
<rect x="319.9" y="136.89" width="17.4" height="1.7" fill-opacity="0.7"/>
<rect x="319.9" y="149.14" width="17.4" height="1.4" fill-opacity="0.7"/>
<rect x="319.9" y="156.5" width="17.4" height="1.2" fill-opacity="1"/>
<rect x="319.9" y="161.24" width="17.4" height="1.4" fill-opacity="1"/>
<rect x="319.9" y="168.35" width="17.4" height="1.7" fill-opacity="0.7"/>
<rect x="319.9" y="199.91" width="17.4" height="1.5" fill-opacity="0.85"/>
<rect x="319.9" y="209.64" width="17.4" height="1.4" fill-opacity="1"/>
<rect x="319.9" y="212.01" width="17.4" height="1.5" fill-opacity="0.7"/>
<rect x="319.9" y="214.43" width="17.4" height="1.5" fill-opacity="0.55"/>
<rect x="319.9" y="216.85" width="17.4" height="1.5" fill-opacity="0.85"/>
<rect x="319.9" y="219.42" width="17.4" height="1.2" fill-opacity="1"/>
<rect x="319.9" y="221.69" width="17.4" height="1.5" fill-opacity="1"/>
<rect x="319.9" y="226.58" width="17.4" height="1.4" fill-opacity="1"/>
<rect x="319.9" y="236.26" width="17.4" height="1.4" fill-opacity="0.85"/>
<rect x="319.9" y="238.63" width="17.4" height="1.5" fill-opacity="0.55"/>
<rect x="319.9" y="241.2" width="17.4" height="1.2" fill-opacity="1"/>
<rect x="319.9" y="243.62" width="17.4" height="1.2" fill-opacity="1"/>
<rect x="319.9" y="245.79" width="17.4" height="1.7" fill-opacity="1"/>
<rect x="319.9" y="248.21" width="17.4" height="1.7" fill-opacity="1"/>
<rect x="319.9" y="250.88" width="17.4" height="1.2" fill-opacity="0.85"/>
<rect x="319.9" y="253.3" width="17.4" height="1.2" fill-opacity="1"/>
<rect x="319.9" y="255.62" width="17.4" height="1.4" fill-opacity="1"/>
<rect x="319.9" y="258.14" width="17.4" height="1.2" fill-opacity="0.85"/>
<rect x="319.9" y="260.31" width="17.4" height="1.7" fill-opacity="0.55"/>
<rect x="319.9" y="262.98" width="17.4" height="1.2" fill-opacity="1"/>
<rect x="319.9" y="265.4" width="17.4" height="1.2" fill-opacity="0.7"/>
<rect x="319.9" y="267.82" width="17.4" height="1.2" fill-opacity="1"/>
<rect x="319.9" y="269.99" width="17.4" height="1.7" fill-opacity="0.55"/>
<rect x="319.9" y="272.66" width="17.4" height="1.2" fill-opacity="0.7"/>
<rect x="319.9" y="274.98" width="17.4" height="1.4" fill-opacity="0.55"/>
<rect x="319.9" y="277.35" width="17.4" height="1.5" fill-opacity="0.55"/>
<rect x="319.9" y="279.92" width="17.4" height="1.2" fill-opacity="0.55"/>
<rect x="319.9" y="282.24" width="17.4" height="1.4" fill-opacity="1"/>
<rect x="319.9" y="284.76" width="17.4" height="1.2" fill-opacity="0.55"/>
<rect x="319.9" y="287.03" width="17.4" height="1.5" fill-opacity="1"/>
<rect x="319.9" y="289.6" width="17.4" height="1.2" fill-opacity="0.7"/>
<rect x="319.9" y="291.87" width="17.4" height="1.5" fill-opacity="0.85"/>
<rect x="319.9" y="294.29" width="17.4" height="1.5" fill-opacity="0.7"/>
<rect x="319.9" y="296.61" width="17.4" height="1.7" fill-opacity="0.55"/>
<rect x="319.9" y="299.13" width="17.4" height="1.5" fill-opacity="0.7"/>
<rect x="319.9" y="301.45" width="17.4" height="1.7" fill-opacity="0.7"/>
<rect x="319.9" y="304.12" width="17.4" height="1.2" fill-opacity="0.7"/>
<rect x="319.9" y="306.39" width="17.4" height="1.5" fill-opacity="1"/>
<rect x="319.9" y="308.71" width="17.4" height="1.7" fill-opacity="1"/>
<rect x="319.9" y="311.23" width="17.4" height="1.5" fill-opacity="0.55"/>
<rect x="319.9" y="313.55" width="17.4" height="1.7" fill-opacity="0.7"/>
<rect x="319.9" y="316.12" width="17.4" height="1.4" fill-opacity="0.85"/>
<rect x="319.9" y="318.39" width="17.4" height="1.7" fill-opacity="0.85"/>
<rect x="319.9" y="320.81" width="17.4" height="1.7" fill-opacity="0.7"/>
<rect x="319.9" y="323.33" width="17.4" height="1.5" fill-opacity="0.85"/>
<rect x="319.9" y="325.65" width="17.4" height="1.7" fill-opacity="0.7"/>
<rect x="319.9" y="328.07" width="17.4" height="1.7" fill-opacity="0.7"/>
<rect x="319.9" y="330.59" width="17.4" height="1.5" fill-opacity="1"/>
<rect x="319.9" y="333.01" width="17.4" height="1.5" fill-opacity="1"/>
<rect x="319.9" y="335.33" width="17.4" height="1.7" fill-opacity="0.55"/>
<rect x="319.9" y="337.9" width="17.4" height="1.4" fill-opacity="0.7"/>
<rect x="319.9" y="340.27" width="17.4" height="1.5" fill-opacity="1"/>
<rect x="319.9" y="342.69" width="17.4" height="1.5" fill-opacity="0.85"/>
<rect x="319.9" y="345.26" width="17.4" height="1.2" fill-opacity="0.85"/>
<rect x="319.9" y="350" width="17.4" height="1.4" fill-opacity="1"/>
<rect x="319.9" y="352.37" width="17.4" height="1.5" fill-opacity="0.7"/>
<rect x="319.9" y="359.53" width="17.4" height="1.7" fill-opacity="1"/>
<rect x="319.9" y="364.47" width="17.4" height="1.5" fill-opacity="1"/>
<rect x="319.9" y="371.63" width="17.4" height="1.7" fill-opacity="0.85"/>
<rect x="319.9" y="379.14" width="17.4" height="1.2" fill-opacity="1"/>
<rect x="319.9" y="381.46" width="17.4" height="1.4" fill-opacity="0.85"/>
<rect x="319.9" y="383.83" width="17.4" height="1.5" fill-opacity="0.55"/>
<rect x="319.9" y="388.57" width="17.4" height="1.7" fill-opacity="1"/>
<rect x="319.9" y="400.77" width="17.4" height="1.5" fill-opacity="0.55"/>
<rect x="319.9" y="403.09" width="17.4" height="1.7" fill-opacity="0.7"/>
<rect x="319.9" y="405.66" width="17.4" height="1.4" fill-opacity="0.7"/>
<rect x="319.9" y="407.93" width="17.4" height="1.7" fill-opacity="0.85"/>
</g>
<g fill="none" stroke="#000" stroke-width="3">
<rect x="0" y="0" width="317.8" height="121"/>
<rect x="0" y="121" width="317.8" height="301.9"/>
<path d="M-12.6 21.8H-1M-12.6 111.8H-1M-12.6 422.9H-1M-12.6 362.6H-1M-12.6 302.3H-1M-12.6 242H-1M-12.6 181.7H-1M0 423.9V436.2M61.35 423.9V436.2M122.7 423.9V436.2M184.05 423.9V436.2M245.4 423.9V436.2M306.75 423.9V436.2M362 156H372.8M362 195.84H372.8M362 235.67H372.8M362 275.5H372.8M362 315.34H372.8M362 355.17H372.8M362 395.01H372.8"/>
</g>
<rect x="340" y="121" width="20.5" height="301.9" fill="url(#vg)" stroke="#000" stroke-width="3"/>
<polyline clip-path="url(#t9)" points="0,113.08 5.12,113.08 10.25,110.51 15.37,110.51 20.5,112.22 29.04,109.66 35.87,111.37 44.41,114.27 48.68,114.27 52.95,111.88 57.73,110.51 62.35,105.39 67.47,109.66 72.59,108.29 76.86,108.29 81.65,109.32 86.77,106.24 91.38,107.1 96.51,108.81 101.12,110.17 105.9,110.51 110.68,110.17 115.47,90.87 120.42,5.47 125.2,8.88 130.16,18.79 134.94,15.37 139.72,39.29 144.68,60.64 149.46,58.42 154.24,36.21 159.19,15.37 163.98,60.12 168.76,100.26 173.71,89.16 178.84,62.35 183.62,77.21 188.4,92.58 193.36,101.46 198.14,107.95 202.92,112.22 207.53,105.9 212.32,109.66 217.1,110.51 222.05,115.13 226.83,110.51 231.62,112.56 236.4,111.37 241.18,110.51 245.96,111.03 250.75,108.29 256.21,113.93 260.48,111.03 265.61,113.59 269.02,111.03 274.15,114.27 280.13,111.71 285.25,113.93 290.37,113.08 295.5,111.03 303.19,109.32 309.16,112.22 316.85,112.56" fill="none" stroke="#000" stroke-width="2.7" stroke-linejoin="round"/>
<g class="t">
<text x="308.4" y="25.7" text-anchor="end" style="font-size:22.9px">Burst 9</text>
<text x="-27" y="29.2" text-anchor="end">50.0</text>
<text x="-27" y="119.2" text-anchor="end">0.0</text>
<text x="-27" y="430.3" text-anchor="end">1.0</text>
<text x="-27" y="370" text-anchor="end">1.1</text>
<text x="-27" y="309.7" text-anchor="end">1.2</text>
<text x="-27" y="249.4" text-anchor="end">1.3</text>
<text x="-27" y="189.1" text-anchor="end">1.4</text>
<text x="-0.8" y="465.6" text-anchor="middle">0</text>
<text x="60.55" y="465.6" text-anchor="middle">5</text>
<text x="121.9" y="465.6" text-anchor="middle">10</text>
<text x="183.25" y="465.6" text-anchor="middle">15</text>
<text x="244.6" y="465.6" text-anchor="middle">20</text>
<text x="305.95" y="465.6" text-anchor="middle">25</text>
<text x="386.8" y="163.4">30</text>
<text x="386.8" y="203.24">25</text>
<text x="386.8" y="243.07">20</text>
<text x="386.8" y="282.9">15</text>
<text x="386.8" y="322.74">10</text>
<text x="386.8" y="362.57">5</text>
<text x="386.8" y="402.41">0</text>
<text transform="translate(-71.6,60.5) rotate(-90)" text-anchor="middle">Normalised flux</text>
<text transform="translate(-71.6,271.95) rotate(-90)" text-anchor="middle">Frequency (GHz)</text>
</g>
</g>
<g transform="translate(649,1074.4)">
<g clip-path="url(#c10)"><g filter="url(#h10)">
<rect x="-17" y="114.7" width="351.8" height="313.5" fill="rgb(95,95,95)"/>
<g filter="url(#soft)"><rect x="172.5" y="320.4" width="10" height="59.6" fill="#fff" fill-opacity="0.264"/><rect x="134.5" y="320.4" width="25.5" height="47.6" fill="#fff" fill-opacity="0.132"/></g>
<rect x="171.8" y="381.3" width="10.7" height="2.9" fill="#fff" fill-opacity="0.882"/>
<rect x="172.5" y="388.3" width="10" height="2.5" fill="#fff" fill-opacity="0.661"/>
<rect x="171.8" y="397.4" width="10.7" height="4.2" fill="#fff" fill-opacity="0.882"/>
<rect x="176.7" y="330.3" width="9.1" height="3.4" fill="#fff" fill-opacity="0.514"/>
<rect x="137" y="330.8" width="25.6" height="2.9" fill="#fff" fill-opacity="0.470"/>
<rect x="175" y="340" width="7" height="6" fill="#fff" fill-opacity="0.294"/>
<rect x="176" y="373" width="6" height="3" fill="#fff" fill-opacity="0.367"/>
</g></g>
<rect x="0" y="248.2" width="317.8" height="1.4" fill="#fff"/>
<rect x="0" y="252.4" width="317.8" height="12" fill="#fff"/>
<rect x="0" y="295.7" width="317.8" height="5.6" fill="#fff"/>
<rect x="0" y="313.1" width="317.8" height="6.9" fill="#fff"/>
<g fill="#b9b9b9">
<rect x="319.9" y="121" width="17.4" height="10.7"/>
<rect x="319.9" y="411.2" width="17.4" height="11.7"/>
<rect x="319.9" y="252.4" width="17.4" height="12"/>
<rect x="319.9" y="295.7" width="17.4" height="5.6"/>
<rect x="319.9" y="313.1" width="17.4" height="6.9"/>
<rect x="319.9" y="357" width="17.4" height="7"/>
<rect x="319.9" y="139.31" width="17.4" height="1.7" fill-opacity="1"/>
<rect x="319.9" y="141.73" width="17.4" height="1.7" fill-opacity="0.7"/>
<rect x="319.9" y="144.25" width="17.4" height="1.5" fill-opacity="0.85"/>
<rect x="319.9" y="148.99" width="17.4" height="1.7" fill-opacity="1"/>
<rect x="319.9" y="156.35" width="17.4" height="1.5" fill-opacity="0.7"/>
<rect x="319.9" y="158.82" width="17.4" height="1.4" fill-opacity="0.55"/>
<rect x="319.9" y="161.09" width="17.4" height="1.7" fill-opacity="0.55"/>
<rect x="319.9" y="166.18" width="17.4" height="1.2" fill-opacity="0.55"/>
<rect x="319.9" y="175.76" width="17.4" height="1.4" fill-opacity="0.7"/>
<rect x="319.9" y="207.32" width="17.4" height="1.2" fill-opacity="1"/>
<rect x="319.9" y="209.49" width="17.4" height="1.7" fill-opacity="0.85"/>
<rect x="319.9" y="212.16" width="17.4" height="1.2" fill-opacity="1"/>
<rect x="319.9" y="214.58" width="17.4" height="1.2" fill-opacity="0.85"/>
<rect x="319.9" y="224.01" width="17.4" height="1.7" fill-opacity="1"/>
<rect x="319.9" y="228.95" width="17.4" height="1.5" fill-opacity="0.55"/>
<rect x="319.9" y="231.42" width="17.4" height="1.4" fill-opacity="0.55"/>
<rect x="319.9" y="233.94" width="17.4" height="1.2" fill-opacity="1"/>
<rect x="319.9" y="236.36" width="17.4" height="1.2" fill-opacity="0.7"/>
<rect x="319.9" y="240.95" width="17.4" height="1.7" fill-opacity="0.85"/>
<rect x="319.9" y="243.52" width="17.4" height="1.4" fill-opacity="0.85"/>
<rect x="319.9" y="245.94" width="17.4" height="1.4" fill-opacity="0.55"/>
<rect x="319.9" y="248.46" width="17.4" height="1.2" fill-opacity="1"/>
<rect x="319.9" y="250.63" width="17.4" height="1.7" fill-opacity="0.7"/>
<rect x="319.9" y="253.05" width="17.4" height="1.7" fill-opacity="1"/>
<rect x="319.9" y="255.62" width="17.4" height="1.4" fill-opacity="1"/>
<rect x="319.9" y="258.04" width="17.4" height="1.4" fill-opacity="0.55"/>
<rect x="319.9" y="262.73" width="17.4" height="1.7" fill-opacity="0.85"/>
<rect x="319.9" y="265.25" width="17.4" height="1.5" fill-opacity="1"/>
<rect x="319.9" y="267.57" width="17.4" height="1.7" fill-opacity="1"/>
<rect x="319.9" y="269.99" width="17.4" height="1.7" fill-opacity="1"/>
<rect x="319.9" y="272.51" width="17.4" height="1.5" fill-opacity="1"/>
<rect x="319.9" y="274.83" width="17.4" height="1.7" fill-opacity="0.55"/>
<rect x="319.9" y="277.35" width="17.4" height="1.5" fill-opacity="0.55"/>
<rect x="319.9" y="279.77" width="17.4" height="1.5" fill-opacity="1"/>
<rect x="319.9" y="282.09" width="17.4" height="1.7" fill-opacity="1"/>
<rect x="319.9" y="284.66" width="17.4" height="1.4" fill-opacity="0.85"/>
<rect x="319.9" y="287.03" width="17.4" height="1.5" fill-opacity="1"/>
<rect x="319.9" y="289.35" width="17.4" height="1.7" fill-opacity="0.7"/>
<rect x="319.9" y="299.18" width="17.4" height="1.4" fill-opacity="1"/>
<rect x="319.9" y="301.7" width="17.4" height="1.2" fill-opacity="1"/>
<rect x="319.9" y="303.87" width="17.4" height="1.7" fill-opacity="0.85"/>
<rect x="319.9" y="306.54" width="17.4" height="1.2" fill-opacity="0.7"/>
<rect x="319.9" y="308.96" width="17.4" height="1.2" fill-opacity="0.85"/>
<rect x="319.9" y="311.38" width="17.4" height="1.2" fill-opacity="1"/>
<rect x="319.9" y="313.55" width="17.4" height="1.7" fill-opacity="0.7"/>
<rect x="319.9" y="316.12" width="17.4" height="1.4" fill-opacity="0.85"/>
<rect x="319.9" y="318.39" width="17.4" height="1.7" fill-opacity="0.85"/>
<rect x="319.9" y="320.81" width="17.4" height="1.7" fill-opacity="0.7"/>
<rect x="319.9" y="323.38" width="17.4" height="1.4" fill-opacity="1"/>
<rect x="319.9" y="330.49" width="17.4" height="1.7" fill-opacity="0.55"/>
<rect x="319.9" y="345.01" width="17.4" height="1.7" fill-opacity="0.55"/>
<rect x="319.9" y="347.43" width="17.4" height="1.7" fill-opacity="1"/>
<rect x="319.9" y="350" width="17.4" height="1.4" fill-opacity="0.7"/>
<rect x="319.9" y="352.42" width="17.4" height="1.4" fill-opacity="1"/>
<rect x="319.9" y="354.69" width="17.4" height="1.7" fill-opacity="0.55"/>
<rect x="319.9" y="362.2" width="17.4" height="1.2" fill-opacity="0.7"/>
<rect x="319.9" y="383.83" width="17.4" height="1.5" fill-opacity="1"/>
<rect x="319.9" y="398.35" width="17.4" height="1.5" fill-opacity="0.85"/>
<rect x="319.9" y="400.77" width="17.4" height="1.5" fill-opacity="0.55"/>
</g>
<g fill="none" stroke="#000" stroke-width="3">
<rect x="0" y="0" width="317.8" height="121"/>
<rect x="0" y="121" width="317.8" height="301.9"/>
<path d="M-12.6 21H-1M-12.6 100.9H-1M-12.6 422.9H-1M-12.6 362.6H-1M-12.6 302.3H-1M-12.6 242H-1M-12.6 181.7H-1M0 423.9V436.2M61.35 423.9V436.2M122.7 423.9V436.2M184.05 423.9V436.2M245.4 423.9V436.2M306.75 423.9V436.2M362 143.4H372.8M362 199H372.8M362 254.6H372.8M362 310.2H372.8M362 365.8H372.8M362 421.4H372.8"/>
</g>
<rect x="340" y="121" width="20.5" height="301.9" fill="url(#vg)" stroke="#000" stroke-width="3"/>
<polyline clip-path="url(#t10)" points="0,100.26 4.78,92.24 9.57,101.12 14.35,90.53 19.13,102.83 23.91,106.58 28.7,113.59 33.48,99.41 38.26,99.07 43.04,86.26 47.83,102.83 52.61,99.92 57.39,100.26 62.35,86.6 67.13,94.29 71.91,100.78 76.86,89.16 81.65,90.02 86.43,106.58 91.21,87.97 95.99,99.41 100.78,99.41 105.56,98.56 110.51,92.24 115.3,97.7 120.25,100.61 125.03,83.18 129.81,85.75 134.6,42.19 139.38,53.63 144.33,40.48 149.12,37.58 153.9,58.07 158.68,63.54 163.63,75.5 168.42,100.26 173.37,39.63 178.15,5.12 182.94,68.67 187.72,89.16 192.5,91.72 197.28,98.56 202.07,109.15 206.85,95.65 211.63,94.29 216.59,108.81 221.37,99.07 226.32,90.53 231.1,102.83 235.89,109.66 240.67,76.69 245.62,115.64 250.41,101.97 255.19,104.19 259.97,95.99 264.75,90.53 269.54,97.7 274.49,101.97 279.27,90.87 284.06,106.24 289.01,98.22 293.79,105.39 298.57,101.46 303.36,108.29 308.14,104.19 312.92,102.31 316.85,101.12" fill="none" stroke="#000" stroke-width="2.7" stroke-linejoin="round"/>
<g class="t">
<text x="308.4" y="25.7" text-anchor="end" style="font-size:22.9px">Burst 10</text>
<text x="-27" y="28.4" text-anchor="end">10.0</text>
<text x="-27" y="108.3" text-anchor="end">0.0</text>
<text x="-27" y="430.3" text-anchor="end">1.0</text>
<text x="-27" y="370" text-anchor="end">1.1</text>
<text x="-27" y="309.7" text-anchor="end">1.2</text>
<text x="-27" y="249.4" text-anchor="end">1.3</text>
<text x="-27" y="189.1" text-anchor="end">1.4</text>
<text x="-0.8" y="465.6" text-anchor="middle">0</text>
<text x="60.55" y="465.6" text-anchor="middle">5</text>
<text x="121.9" y="465.6" text-anchor="middle">10</text>
<text x="183.25" y="465.6" text-anchor="middle">15</text>
<text x="244.6" y="465.6" text-anchor="middle">20</text>
<text x="305.95" y="465.6" text-anchor="middle">25</text>
<text x="386.8" y="150.8">6</text>
<text x="386.8" y="206.4">4</text>
<text x="386.8" y="262">2</text>
<text x="386.8" y="317.6">0</text>
<text x="386.8" y="373.2">−2</text>
<text x="386.8" y="428.8">−4</text>
</g>
</g>
<g transform="translate(1180,1074.4)">
<g clip-path="url(#c11)"><g filter="url(#h11)">
<rect x="-17" y="114.7" width="351.8" height="313.5" fill="rgb(19,19,19)"/>
<g filter="url(#soft)"><rect x="148.2" y="321" width="19" height="90" fill="#fff" fill-opacity="0.073"/><rect x="188.7" y="321" width="21.6" height="90" fill="#fff" fill-opacity="0.073"/><rect x="149" y="376" width="16.6" height="27" fill="#fff" fill-opacity="0.110"/><rect x="192.1" y="376" width="15.9" height="27" fill="#fff" fill-opacity="0.110"/><rect x="150" y="300" width="15" height="13" fill="#fff" fill-opacity="0.055"/></g>
<rect x="145.7" y="327.9" width="21.5" height="3.3" fill="#fff" fill-opacity="0.146"/>
<rect x="190.4" y="328.7" width="14.9" height="2.5" fill="#fff" fill-opacity="0.110"/>
<rect x="153.1" y="370.1" width="10.8" height="2.9" fill="#fff" fill-opacity="0.821"/>
<rect x="145.7" y="370.6" width="24" height="1.9" fill="#fff" fill-opacity="0.146"/>
<rect x="192.9" y="370.1" width="9.1" height="2.9" fill="#fff" fill-opacity="0.730"/>
<rect x="188" y="370.6" width="23" height="1.9" fill="#fff" fill-opacity="0.146"/>
<rect x="149" y="384" width="16.6" height="4.5" fill="#fff" fill-opacity="0.128"/>
<rect x="152" y="394" width="13" height="3.5" fill="#fff" fill-opacity="0.146"/>
<rect x="192.9" y="394" width="10.8" height="3.5" fill="#fff" fill-opacity="0.164"/>
<rect x="192" y="384" width="14" height="4" fill="#fff" fill-opacity="0.091"/>
<rect x="151" y="140" width="12" height="3" fill="#fff" fill-opacity="0.046"/>
</g></g>
<rect x="0" y="260.2" width="317.8" height="1.4" fill="#fff"/>
<rect x="0" y="313.9" width="317.8" height="6.1" fill="#fff"/>
<g fill="#b9b9b9">
<rect x="319.9" y="121" width="17.4" height="10.7"/>
<rect x="319.9" y="411.2" width="17.4" height="11.7"/>
<rect x="319.9" y="313.9" width="17.4" height="6.1"/>
<rect x="319.9" y="252" width="17.4" height="10"/>
<rect x="319.9" y="289" width="17.4" height="11"/>
<rect x="319.9" y="357" width="17.4" height="7"/>
<rect x="319.9" y="134.62" width="17.4" height="1.4" fill-opacity="1"/>
<rect x="319.9" y="146.67" width="17.4" height="1.5" fill-opacity="1"/>
<rect x="319.9" y="156.35" width="17.4" height="1.5" fill-opacity="1"/>
<rect x="319.9" y="166.18" width="17.4" height="1.2" fill-opacity="0.85"/>
<rect x="319.9" y="171.02" width="17.4" height="1.2" fill-opacity="0.85"/>
<rect x="319.9" y="183.12" width="17.4" height="1.2" fill-opacity="0.7"/>
<rect x="319.9" y="190.13" width="17.4" height="1.7" fill-opacity="1"/>
<rect x="319.9" y="192.7" width="17.4" height="1.4" fill-opacity="0.85"/>
<rect x="319.9" y="195.12" width="17.4" height="1.4" fill-opacity="0.85"/>
<rect x="319.9" y="197.54" width="17.4" height="1.4" fill-opacity="0.85"/>
<rect x="319.9" y="204.9" width="17.4" height="1.2" fill-opacity="0.85"/>
<rect x="319.9" y="207.32" width="17.4" height="1.2" fill-opacity="0.7"/>
<rect x="319.9" y="209.59" width="17.4" height="1.5" fill-opacity="0.7"/>
<rect x="319.9" y="211.91" width="17.4" height="1.7" fill-opacity="1"/>
<rect x="319.9" y="214.33" width="17.4" height="1.7" fill-opacity="0.85"/>
<rect x="319.9" y="216.75" width="17.4" height="1.7" fill-opacity="0.55"/>
<rect x="319.9" y="219.42" width="17.4" height="1.2" fill-opacity="0.55"/>
<rect x="319.9" y="221.84" width="17.4" height="1.2" fill-opacity="1"/>
<rect x="319.9" y="224.16" width="17.4" height="1.4" fill-opacity="0.55"/>
<rect x="319.9" y="226.43" width="17.4" height="1.7" fill-opacity="0.85"/>
<rect x="319.9" y="229" width="17.4" height="1.4" fill-opacity="0.7"/>
<rect x="319.9" y="231.37" width="17.4" height="1.5" fill-opacity="1"/>
<rect x="319.9" y="233.69" width="17.4" height="1.7" fill-opacity="1"/>
<rect x="319.9" y="241.1" width="17.4" height="1.4" fill-opacity="0.55"/>
<rect x="319.9" y="243.47" width="17.4" height="1.5" fill-opacity="0.7"/>
<rect x="319.9" y="248.31" width="17.4" height="1.5" fill-opacity="1"/>
<rect x="319.9" y="253.3" width="17.4" height="1.2" fill-opacity="0.55"/>
<rect x="319.9" y="255.47" width="17.4" height="1.7" fill-opacity="1"/>
<rect x="319.9" y="257.99" width="17.4" height="1.5" fill-opacity="0.55"/>
<rect x="319.9" y="260.46" width="17.4" height="1.4" fill-opacity="0.85"/>
<rect x="319.9" y="262.73" width="17.4" height="1.7" fill-opacity="0.55"/>
<rect x="319.9" y="265.4" width="17.4" height="1.2" fill-opacity="1"/>
<rect x="319.9" y="267.82" width="17.4" height="1.2" fill-opacity="1"/>
<rect x="319.9" y="270.09" width="17.4" height="1.5" fill-opacity="0.85"/>
<rect x="319.9" y="272.51" width="17.4" height="1.5" fill-opacity="0.7"/>
<rect x="319.9" y="274.93" width="17.4" height="1.5" fill-opacity="0.85"/>
<rect x="319.9" y="277.4" width="17.4" height="1.4" fill-opacity="0.7"/>
<rect x="319.9" y="279.67" width="17.4" height="1.7" fill-opacity="0.55"/>
<rect x="319.9" y="282.34" width="17.4" height="1.2" fill-opacity="1"/>
<rect x="319.9" y="284.51" width="17.4" height="1.7" fill-opacity="1"/>
<rect x="319.9" y="287.03" width="17.4" height="1.5" fill-opacity="1"/>
<rect x="319.9" y="289.6" width="17.4" height="1.2" fill-opacity="0.55"/>
<rect x="319.9" y="291.77" width="17.4" height="1.7" fill-opacity="1"/>
<rect x="319.9" y="294.29" width="17.4" height="1.5" fill-opacity="1"/>
<rect x="319.9" y="296.71" width="17.4" height="1.5" fill-opacity="0.7"/>
<rect x="319.9" y="299.28" width="17.4" height="1.2" fill-opacity="0.55"/>
<rect x="319.9" y="301.55" width="17.4" height="1.5" fill-opacity="0.7"/>
<rect x="319.9" y="306.54" width="17.4" height="1.2" fill-opacity="1"/>
<rect x="319.9" y="308.71" width="17.4" height="1.7" fill-opacity="0.85"/>
<rect x="319.9" y="311.38" width="17.4" height="1.2" fill-opacity="0.55"/>
<rect x="319.9" y="313.65" width="17.4" height="1.5" fill-opacity="0.85"/>
<rect x="319.9" y="316.22" width="17.4" height="1.2" fill-opacity="1"/>
<rect x="319.9" y="318.39" width="17.4" height="1.7" fill-opacity="0.55"/>
<rect x="319.9" y="321.06" width="17.4" height="1.2" fill-opacity="0.7"/>
<rect x="319.9" y="323.48" width="17.4" height="1.2" fill-opacity="0.55"/>
<rect x="319.9" y="333.01" width="17.4" height="1.5" fill-opacity="1"/>
<rect x="319.9" y="335.58" width="17.4" height="1.2" fill-opacity="1"/>
<rect x="319.9" y="338" width="17.4" height="1.2" fill-opacity="0.85"/>
<rect x="319.9" y="345.01" width="17.4" height="1.7" fill-opacity="0.7"/>
<rect x="319.9" y="347.53" width="17.4" height="1.5" fill-opacity="1"/>
<rect x="319.9" y="350" width="17.4" height="1.4" fill-opacity="0.7"/>
<rect x="319.9" y="352.37" width="17.4" height="1.5" fill-opacity="0.7"/>
<rect x="319.9" y="354.69" width="17.4" height="1.7" fill-opacity="1"/>
<rect x="319.9" y="357.21" width="17.4" height="1.5" fill-opacity="1"/>
<rect x="319.9" y="359.68" width="17.4" height="1.4" fill-opacity="1"/>
<rect x="319.9" y="362.2" width="17.4" height="1.2" fill-opacity="1"/>
<rect x="319.9" y="364.62" width="17.4" height="1.2" fill-opacity="0.55"/>
<rect x="319.9" y="366.79" width="17.4" height="1.7" fill-opacity="0.7"/>
<rect x="319.9" y="371.63" width="17.4" height="1.7" fill-opacity="0.55"/>
<rect x="319.9" y="374.2" width="17.4" height="1.4" fill-opacity="1"/>
<rect x="319.9" y="381.31" width="17.4" height="1.7" fill-opacity="0.55"/>
<rect x="319.9" y="388.57" width="17.4" height="1.7" fill-opacity="0.55"/>
<rect x="319.9" y="391.09" width="17.4" height="1.5" fill-opacity="0.85"/>
<rect x="319.9" y="393.56" width="17.4" height="1.4" fill-opacity="0.85"/>
<rect x="319.9" y="396.08" width="17.4" height="1.2" fill-opacity="0.7"/>
<rect x="319.9" y="398.5" width="17.4" height="1.2" fill-opacity="0.55"/>
<rect x="319.9" y="400.77" width="17.4" height="1.5" fill-opacity="1"/>
<rect x="319.9" y="403.34" width="17.4" height="1.2" fill-opacity="0.85"/>
<rect x="319.9" y="408.08" width="17.4" height="1.4" fill-opacity="0.85"/>
</g>
<g fill="none" stroke="#000" stroke-width="3">
<rect x="0" y="0" width="317.8" height="121"/>
<rect x="0" y="121" width="317.8" height="301.9"/>
<path d="M-12.6 21H-1M-12.6 112.7H-1M-12.6 422.9H-1M-12.6 362.6H-1M-12.6 302.3H-1M-12.6 242H-1M-12.6 181.7H-1M0 423.9V436.2M61.35 423.9V436.2M122.7 423.9V436.2M184.05 423.9V436.2M245.4 423.9V436.2M306.75 423.9V436.2M362 145.4H372.8M362 196.32H372.8M362 247.24H372.8M362 298.16H372.8M362 349.08H372.8M362 400H372.8"/>
</g>
<rect x="340" y="121" width="20.5" height="301.9" fill="url(#vg)" stroke="#000" stroke-width="3"/>
<polyline clip-path="url(#t11)" points="0,111.03 4.78,111.88 9.57,112.22 14.35,113.42 19.13,115.3 23.91,114.27 28.7,114.27 33.48,110.17 38.26,112.22 43.04,108.29 47.83,112.22 52.61,113.08 57.39,112.22 62.17,114.44 66.96,112.22 71.74,112.22 76.52,111.37 81.3,107.61 86.09,104.53 90.87,104.19 95.65,102.31 100.44,105.73 105.22,104.19 110.17,107.61 114.95,107.44 119.74,108.29 124.69,111.88 129.47,110.51 134.26,111.03 139.04,105.9 143.99,85.75 148.77,65.25 153.73,5.98 158,5.12 162.78,49.88 167.73,90.87 172.52,101.12 177.47,108.81 182.25,99.07 187.04,83.18 191.82,32.8 196.77,13.66 201.55,39.63 206.34,68.67 211.29,91.72 216.07,101.46 220.86,106.58 225.64,106.24 230.42,105.39 235.37,110.17 240.16,110.51 244.94,110.17 249.72,111.71 254.51,113.42 259.29,111.37 264.24,111.37 269.02,112.56 273.81,110.51 278.59,110.51 283.54,110.17 288.33,111.71 293.11,113.42 297.89,112.22 302.67,107.1 307.46,110.17 312.24,110.17 316.85,102.83" fill="none" stroke="#000" stroke-width="2.7" stroke-linejoin="round"/>
<g class="t">
<text x="308.4" y="25.7" text-anchor="end" style="font-size:22.9px">Burst 11</text>
<text x="-27" y="28.4" text-anchor="end">50.0</text>
<text x="-27" y="120.1" text-anchor="end">0.0</text>
<text x="-27" y="430.3" text-anchor="end">1.0</text>
<text x="-27" y="370" text-anchor="end">1.1</text>
<text x="-27" y="309.7" text-anchor="end">1.2</text>
<text x="-27" y="249.4" text-anchor="end">1.3</text>
<text x="-27" y="189.1" text-anchor="end">1.4</text>
<text x="-0.8" y="465.6" text-anchor="middle">0</text>
<text x="60.55" y="465.6" text-anchor="middle">5</text>
<text x="121.9" y="465.6" text-anchor="middle">10</text>
<text x="183.25" y="465.6" text-anchor="middle">15</text>
<text x="244.6" y="465.6" text-anchor="middle">20</text>
<text x="305.95" y="465.6" text-anchor="middle">25</text>
<text x="386.8" y="152.8">50</text>
<text x="386.8" y="203.72">40</text>
<text x="386.8" y="254.64">30</text>
<text x="386.8" y="305.56">20</text>
<text x="386.8" y="356.48">10</text>
<text x="386.8" y="407.4">0</text>
</g>
</g>
<g transform="translate(1711.9,1074.4)">
<g clip-path="url(#c12)"><g filter="url(#h12)">
<rect x="-17" y="114.7" width="351.8" height="313.5" fill="rgb(54,54,54)"/>
<g filter="url(#soft)"><rect x="84.7" y="375" width="34.8" height="36" fill="#fff" fill-opacity="0.288"/><rect x="88" y="398" width="29" height="13" fill="#fff" fill-opacity="0.114"/><rect x="130.2" y="391.8" width="13.3" height="16.2" fill="#fff" fill-opacity="0.227"/></g>
<rect x="85.5" y="370.2" width="9.9" height="2.5" fill="#fff" fill-opacity="0.530"/>
<rect x="98.7" y="370.2" width="10.8" height="2.5" fill="#fff" fill-opacity="0.606"/>
<rect x="85.9" y="383.5" width="9.1" height="2" fill="#fff" fill-opacity="0.606"/>
<rect x="104.5" y="388.9" width="5" height="2" fill="#fff" fill-opacity="0.568"/>
<rect x="86.3" y="394.2" width="9.1" height="3.3" fill="#fff" fill-opacity="0.606"/>
<rect x="90.5" y="394.2" width="4.1" height="3.3" fill="#fff" fill-opacity="0.379"/>
<rect x="97.1" y="394.6" width="16.6" height="2.6" fill="#fff" fill-opacity="0.303"/>
<rect x="104.5" y="394.2" width="5" height="3.3" fill="#fff" fill-opacity="0.530"/>
<rect x="88.8" y="409.1" width="6.6" height="1.7" fill="#fff" fill-opacity="0.379"/>
</g></g>
<rect x="0" y="260" width="317.8" height="1.6" fill="#fff"/>
<rect x="0" y="313.9" width="317.8" height="6.1" fill="#fff"/>
<g fill="#b9b9b9">
<rect x="319.9" y="121" width="17.4" height="10.7"/>
<rect x="319.9" y="411.2" width="17.4" height="11.7"/>
<rect x="319.9" y="313.9" width="17.4" height="6.1"/>
<rect x="319.9" y="252" width="17.4" height="10"/>
<rect x="319.9" y="289" width="17.4" height="11"/>
<rect x="319.9" y="357" width="17.4" height="7"/>
<rect x="319.9" y="134.62" width="17.4" height="1.4" fill-opacity="1"/>
<rect x="319.9" y="136.99" width="17.4" height="1.5" fill-opacity="1"/>
<rect x="319.9" y="141.88" width="17.4" height="1.4" fill-opacity="1"/>
<rect x="319.9" y="163.51" width="17.4" height="1.7" fill-opacity="1"/>
<rect x="319.9" y="175.76" width="17.4" height="1.4" fill-opacity="0.55"/>
<rect x="319.9" y="197.64" width="17.4" height="1.2" fill-opacity="0.7"/>
<rect x="319.9" y="209.59" width="17.4" height="1.5" fill-opacity="1"/>
<rect x="319.9" y="211.91" width="17.4" height="1.7" fill-opacity="0.55"/>
<rect x="319.9" y="214.48" width="17.4" height="1.4" fill-opacity="0.85"/>
<rect x="319.9" y="216.9" width="17.4" height="1.4" fill-opacity="0.55"/>
<rect x="319.9" y="219.32" width="17.4" height="1.4" fill-opacity="0.7"/>
<rect x="319.9" y="221.84" width="17.4" height="1.2" fill-opacity="0.55"/>
<rect x="319.9" y="224.11" width="17.4" height="1.5" fill-opacity="1"/>
<rect x="319.9" y="226.53" width="17.4" height="1.5" fill-opacity="1"/>
<rect x="319.9" y="229.1" width="17.4" height="1.2" fill-opacity="1"/>
<rect x="319.9" y="231.52" width="17.4" height="1.2" fill-opacity="1"/>
<rect x="319.9" y="233.79" width="17.4" height="1.5" fill-opacity="0.85"/>
<rect x="319.9" y="236.26" width="17.4" height="1.4" fill-opacity="0.85"/>
<rect x="319.9" y="238.63" width="17.4" height="1.5" fill-opacity="0.7"/>
<rect x="319.9" y="241.05" width="17.4" height="1.5" fill-opacity="1"/>
<rect x="319.9" y="245.79" width="17.4" height="1.7" fill-opacity="0.55"/>
<rect x="319.9" y="248.36" width="17.4" height="1.4" fill-opacity="0.85"/>
<rect x="319.9" y="250.78" width="17.4" height="1.4" fill-opacity="0.85"/>
<rect x="319.9" y="253.05" width="17.4" height="1.7" fill-opacity="0.7"/>
<rect x="319.9" y="257.89" width="17.4" height="1.7" fill-opacity="1"/>
<rect x="319.9" y="262.83" width="17.4" height="1.5" fill-opacity="1"/>
<rect x="319.9" y="265.3" width="17.4" height="1.4" fill-opacity="0.85"/>
<rect x="319.9" y="267.72" width="17.4" height="1.4" fill-opacity="0.55"/>
<rect x="319.9" y="270.09" width="17.4" height="1.5" fill-opacity="0.85"/>
<rect x="319.9" y="272.66" width="17.4" height="1.2" fill-opacity="0.55"/>
<rect x="319.9" y="274.98" width="17.4" height="1.4" fill-opacity="1"/>
<rect x="319.9" y="277.35" width="17.4" height="1.5" fill-opacity="1"/>
<rect x="319.9" y="279.82" width="17.4" height="1.4" fill-opacity="1"/>
<rect x="319.9" y="282.19" width="17.4" height="1.5" fill-opacity="0.85"/>
<rect x="319.9" y="284.76" width="17.4" height="1.2" fill-opacity="1"/>
<rect x="319.9" y="287.03" width="17.4" height="1.5" fill-opacity="0.7"/>
<rect x="319.9" y="289.6" width="17.4" height="1.2" fill-opacity="0.7"/>
<rect x="319.9" y="292.02" width="17.4" height="1.2" fill-opacity="0.85"/>
<rect x="319.9" y="294.44" width="17.4" height="1.2" fill-opacity="1"/>
<rect x="319.9" y="296.71" width="17.4" height="1.5" fill-opacity="0.55"/>
<rect x="319.9" y="299.03" width="17.4" height="1.7" fill-opacity="0.7"/>
<rect x="319.9" y="301.55" width="17.4" height="1.5" fill-opacity="0.7"/>
<rect x="319.9" y="303.87" width="17.4" height="1.7" fill-opacity="0.55"/>
<rect x="319.9" y="306.54" width="17.4" height="1.2" fill-opacity="1"/>
<rect x="319.9" y="308.71" width="17.4" height="1.7" fill-opacity="1"/>
<rect x="319.9" y="311.28" width="17.4" height="1.4" fill-opacity="0.55"/>
<rect x="319.9" y="313.55" width="17.4" height="1.7" fill-opacity="1"/>
<rect x="319.9" y="316.07" width="17.4" height="1.5" fill-opacity="0.7"/>
<rect x="319.9" y="318.64" width="17.4" height="1.2" fill-opacity="1"/>
<rect x="319.9" y="320.91" width="17.4" height="1.5" fill-opacity="1"/>
<rect x="319.9" y="323.38" width="17.4" height="1.4" fill-opacity="0.7"/>
<rect x="319.9" y="325.65" width="17.4" height="1.7" fill-opacity="0.55"/>
<rect x="319.9" y="328.22" width="17.4" height="1.4" fill-opacity="0.7"/>
<rect x="319.9" y="337.9" width="17.4" height="1.4" fill-opacity="1"/>
<rect x="319.9" y="340.42" width="17.4" height="1.2" fill-opacity="1"/>
<rect x="319.9" y="342.74" width="17.4" height="1.4" fill-opacity="1"/>
<rect x="319.9" y="345.26" width="17.4" height="1.2" fill-opacity="0.85"/>
<rect x="319.9" y="347.43" width="17.4" height="1.7" fill-opacity="0.55"/>
<rect x="319.9" y="349.95" width="17.4" height="1.5" fill-opacity="0.55"/>
<rect x="319.9" y="352.37" width="17.4" height="1.5" fill-opacity="0.55"/>
<rect x="319.9" y="354.84" width="17.4" height="1.4" fill-opacity="0.55"/>
<rect x="319.9" y="359.53" width="17.4" height="1.7" fill-opacity="0.85"/>
<rect x="319.9" y="361.95" width="17.4" height="1.7" fill-opacity="1"/>
<rect x="319.9" y="364.62" width="17.4" height="1.2" fill-opacity="1"/>
<rect x="319.9" y="367.04" width="17.4" height="1.2" fill-opacity="1"/>
<rect x="319.9" y="369.46" width="17.4" height="1.2" fill-opacity="0.7"/>
<rect x="319.9" y="371.73" width="17.4" height="1.5" fill-opacity="0.7"/>
<rect x="319.9" y="374.3" width="17.4" height="1.2" fill-opacity="0.7"/>
<rect x="319.9" y="376.57" width="17.4" height="1.5" fill-opacity="1"/>
<rect x="319.9" y="379.14" width="17.4" height="1.2" fill-opacity="1"/>
<rect x="319.9" y="381.41" width="17.4" height="1.5" fill-opacity="0.7"/>
<rect x="319.9" y="383.83" width="17.4" height="1.5" fill-opacity="0.7"/>
<rect x="319.9" y="386.25" width="17.4" height="1.5" fill-opacity="0.55"/>
<rect x="319.9" y="393.66" width="17.4" height="1.2" fill-opacity="1"/>
<rect x="319.9" y="395.93" width="17.4" height="1.5" fill-opacity="1"/>
<rect x="319.9" y="398.4" width="17.4" height="1.4" fill-opacity="0.55"/>
<rect x="319.9" y="400.82" width="17.4" height="1.4" fill-opacity="1"/>
<rect x="319.9" y="403.19" width="17.4" height="1.5" fill-opacity="0.7"/>
<rect x="319.9" y="405.61" width="17.4" height="1.5" fill-opacity="0.85"/>
<rect x="319.9" y="407.93" width="17.4" height="1.7" fill-opacity="0.7"/>
</g>
<g fill="none" stroke="#000" stroke-width="3">
<rect x="0" y="0" width="317.8" height="121"/>
<rect x="0" y="121" width="317.8" height="301.9"/>
<path d="M-12.6 25.5H-1M-12.6 106.2H-1M-12.6 422.9H-1M-12.6 362.6H-1M-12.6 302.3H-1M-12.6 242H-1M-12.6 181.7H-1M0 423.9V436.2M61.35 423.9V436.2M122.7 423.9V436.2M184.05 423.9V436.2M245.4 423.9V436.2M306.75 423.9V436.2M362 142.6H372.8M362 178.66H372.8M362 214.72H372.8M362 250.78H372.8M362 286.84H372.8M362 322.9H372.8M362 358.96H372.8M362 395.02H372.8"/>
</g>
<rect x="340" y="121" width="20.5" height="301.9" fill="url(#vg)" stroke="#000" stroke-width="3"/>
<polyline clip-path="url(#t12)" points="0,92.58 3.93,97.7 8.88,101.97 13.66,104.53 18.45,107.61 23.23,102.83 28.01,98.04 32.8,99.41 37.58,103.68 42.36,106.24 47.14,102.83 51.93,99.41 56.71,108.29 61.49,106.24 66.27,106.24 71.23,100.26 76.01,105.9 80.79,86.6 85.75,32.8 90.53,12.3 95.31,71.23 100.09,34.5 104.88,5.12 109.66,27.67 114.44,56.71 119.22,80.62 124.18,101.46 128.96,86.6 133.74,71.23 138.7,84.04 143.48,94.29 148.26,102.83 153.04,109.66 157.83,107.1 162.61,103.17 167.39,112.22 172.35,109.66 177.13,115.64 182.08,108.81 186.69,104.19 191.65,106.76 196.43,107.61 201.21,106.24 206,109.66 210.78,113.42 215.56,113.59 220.34,111.71 225.3,108.29 230.08,109.66 234.86,100.78 239.64,111.37 244.6,99.41 249.38,113.59 254.16,101.46 258.95,110.51 263.9,101.97 268.51,105.73 273.46,109.32 278.25,105.39 283.03,112.73 287.81,106.24 292.77,105.9 297.55,102.83 302.33,103.68 307.11,107.61 311.9,107.1 316,115.64" fill="none" stroke="#000" stroke-width="2.7" stroke-linejoin="round"/>
<g class="t">
<text x="308.4" y="25.7" text-anchor="end" style="font-size:22.9px">Burst 12</text>
<text x="-27" y="32.9" text-anchor="end">20.0</text>
<text x="-27" y="113.6" text-anchor="end">0.0</text>
<text x="-27" y="430.3" text-anchor="end">1.0</text>
<text x="-27" y="370" text-anchor="end">1.1</text>
<text x="-27" y="309.7" text-anchor="end">1.2</text>
<text x="-27" y="249.4" text-anchor="end">1.3</text>
<text x="-27" y="189.1" text-anchor="end">1.4</text>
<text x="-0.8" y="465.6" text-anchor="middle">0</text>
<text x="60.55" y="465.6" text-anchor="middle">5</text>
<text x="121.9" y="465.6" text-anchor="middle">10</text>
<text x="183.25" y="465.6" text-anchor="middle">15</text>
<text x="244.6" y="465.6" text-anchor="middle">20</text>
<text x="305.95" y="465.6" text-anchor="middle">25</text>
<text x="386.8" y="150">12</text>
<text x="386.8" y="186.06">10</text>
<text x="386.8" y="222.12">8</text>
<text x="386.8" y="258.18">6</text>
<text x="386.8" y="294.24">4</text>
<text x="386.8" y="330.3">2</text>
<text x="386.8" y="366.36">0</text>
<text x="386.8" y="402.42">−2</text>
<text x="158.9" y="490.5" text-anchor="middle">Time (ms)</text>
</g>
</g>
<g transform="translate(117,1605.4)">
<g clip-path="url(#c13)"><g filter="url(#h13)">
<rect x="-17" y="115.7" width="351.8" height="313.5" fill="rgb(30,30,30)"/>
<g filter="url(#soft)"><rect x="144.2" y="140.6" width="10.8" height="63.4" fill="#fff" fill-opacity="0.158"/><rect x="155.8" y="140.6" width="14.9" height="29.4" fill="#fff" fill-opacity="0.105"/><rect x="146" y="204" width="10" height="96" fill="#fff" fill-opacity="0.056"/></g>
<rect x="148.3" y="142.7" width="5.8" height="3.3" fill="#fff" fill-opacity="0.492"/>
<rect x="144.2" y="142.7" width="4.1" height="3.3" fill="#fff" fill-opacity="0.105"/>
<rect x="155.8" y="142.7" width="14.1" height="3.3" fill="#fff" fill-opacity="0.211"/>
<rect x="144.2" y="153.8" width="9.9" height="2.5" fill="#fff" fill-opacity="0.632"/>
<rect x="155.8" y="153.8" width="14.1" height="2.5" fill="#fff" fill-opacity="0.246"/>
<rect x="144.2" y="178.7" width="10.8" height="3.3" fill="#fff" fill-opacity="0.105"/>
<rect x="144.2" y="186.1" width="10.8" height="5.9" fill="#fff" fill-opacity="0.105"/>
<rect x="156" y="186.5" width="12" height="3.5" fill="#fff" fill-opacity="0.070"/>
</g></g>
<rect x="0" y="137.7" width="317.8" height="2.3" fill="#fff"/>
<rect x="0" y="258.7" width="317.8" height="5.3" fill="#fff"/>
<rect x="0" y="297" width="317.8" height="1.4" fill="#fff"/>
<rect x="0" y="307.4" width="317.8" height="2.2" fill="#fff"/>
<rect x="0" y="313" width="317.8" height="7.8" fill="#fff"/>
<g fill="#b9b9b9">
<rect x="319.9" y="121" width="17.4" height="11.7"/>
<rect x="319.9" y="412.2" width="17.4" height="10.7"/>
<rect x="319.9" y="137.7" width="17.4" height="2.3"/>
<rect x="319.9" y="258.7" width="17.4" height="5.3"/>
<rect x="319.9" y="307.4" width="17.4" height="2.2"/>
<rect x="319.9" y="313" width="17.4" height="7.8"/>
<rect x="319.9" y="289" width="17.4" height="7"/>
<rect x="319.9" y="357" width="17.4" height="7"/>
<rect x="319.9" y="150.24" width="17.4" height="1.2" fill-opacity="1"/>
<rect x="319.9" y="152.51" width="17.4" height="1.5" fill-opacity="0.55"/>
<rect x="319.9" y="157.25" width="17.4" height="1.7" fill-opacity="0.85"/>
<rect x="319.9" y="159.77" width="17.4" height="1.5" fill-opacity="0.85"/>
<rect x="319.9" y="179.18" width="17.4" height="1.4" fill-opacity="1"/>
<rect x="319.9" y="181.7" width="17.4" height="1.2" fill-opacity="1"/>
<rect x="319.9" y="188.81" width="17.4" height="1.5" fill-opacity="0.85"/>
<rect x="319.9" y="191.28" width="17.4" height="1.4" fill-opacity="0.55"/>
<rect x="319.9" y="193.65" width="17.4" height="1.5" fill-opacity="1"/>
<rect x="319.9" y="200.91" width="17.4" height="1.5" fill-opacity="0.85"/>
<rect x="319.9" y="208.17" width="17.4" height="1.5" fill-opacity="0.85"/>
<rect x="319.9" y="210.59" width="17.4" height="1.5" fill-opacity="0.7"/>
<rect x="319.9" y="213.16" width="17.4" height="1.2" fill-opacity="0.7"/>
<rect x="319.9" y="215.33" width="17.4" height="1.7" fill-opacity="0.7"/>
<rect x="319.9" y="218" width="17.4" height="1.2" fill-opacity="0.7"/>
<rect x="319.9" y="220.27" width="17.4" height="1.5" fill-opacity="0.85"/>
<rect x="319.9" y="225.16" width="17.4" height="1.4" fill-opacity="0.7"/>
<rect x="319.9" y="227.53" width="17.4" height="1.5" fill-opacity="0.85"/>
<rect x="319.9" y="229.95" width="17.4" height="1.5" fill-opacity="0.55"/>
<rect x="319.9" y="232.42" width="17.4" height="1.4" fill-opacity="0.7"/>
<rect x="319.9" y="237.21" width="17.4" height="1.5" fill-opacity="1"/>
<rect x="319.9" y="239.78" width="17.4" height="1.2" fill-opacity="0.55"/>
<rect x="319.9" y="242.1" width="17.4" height="1.4" fill-opacity="0.55"/>
<rect x="319.9" y="244.37" width="17.4" height="1.7" fill-opacity="0.85"/>
<rect x="319.9" y="246.94" width="17.4" height="1.4" fill-opacity="0.55"/>
<rect x="319.9" y="249.21" width="17.4" height="1.7" fill-opacity="1"/>
<rect x="319.9" y="251.88" width="17.4" height="1.2" fill-opacity="0.7"/>
<rect x="319.9" y="254.3" width="17.4" height="1.2" fill-opacity="1"/>
<rect x="319.9" y="256.72" width="17.4" height="1.2" fill-opacity="1"/>
<rect x="319.9" y="259.14" width="17.4" height="1.2" fill-opacity="1"/>
<rect x="319.9" y="261.31" width="17.4" height="1.7" fill-opacity="1"/>
<rect x="319.9" y="263.83" width="17.4" height="1.5" fill-opacity="0.85"/>
<rect x="319.9" y="266.3" width="17.4" height="1.4" fill-opacity="0.55"/>
<rect x="319.9" y="268.82" width="17.4" height="1.2" fill-opacity="0.85"/>
<rect x="319.9" y="270.99" width="17.4" height="1.7" fill-opacity="1"/>
<rect x="319.9" y="273.66" width="17.4" height="1.2" fill-opacity="1"/>
<rect x="319.9" y="276.08" width="17.4" height="1.2" fill-opacity="1"/>
<rect x="319.9" y="278.5" width="17.4" height="1.2" fill-opacity="1"/>
<rect x="319.9" y="280.67" width="17.4" height="1.7" fill-opacity="0.85"/>
<rect x="319.9" y="283.19" width="17.4" height="1.5" fill-opacity="1"/>
<rect x="319.9" y="285.76" width="17.4" height="1.2" fill-opacity="0.85"/>
<rect x="319.9" y="287.93" width="17.4" height="1.7" fill-opacity="0.7"/>
<rect x="319.9" y="290.45" width="17.4" height="1.5" fill-opacity="0.55"/>
<rect x="319.9" y="295.19" width="17.4" height="1.7" fill-opacity="0.85"/>
<rect x="319.9" y="297.76" width="17.4" height="1.4" fill-opacity="1"/>
<rect x="319.9" y="300.13" width="17.4" height="1.5" fill-opacity="1"/>
<rect x="319.9" y="302.55" width="17.4" height="1.5" fill-opacity="1"/>
<rect x="319.9" y="304.87" width="17.4" height="1.7" fill-opacity="0.85"/>
<rect x="319.9" y="307.29" width="17.4" height="1.7" fill-opacity="0.55"/>
<rect x="319.9" y="309.71" width="17.4" height="1.7" fill-opacity="1"/>
<rect x="319.9" y="312.13" width="17.4" height="1.7" fill-opacity="0.7"/>
<rect x="319.9" y="314.7" width="17.4" height="1.4" fill-opacity="0.85"/>
<rect x="319.9" y="317.22" width="17.4" height="1.2" fill-opacity="1"/>
<rect x="319.9" y="319.54" width="17.4" height="1.4" fill-opacity="0.7"/>
<rect x="319.9" y="321.96" width="17.4" height="1.4" fill-opacity="1"/>
<rect x="319.9" y="324.38" width="17.4" height="1.4" fill-opacity="0.7"/>
<rect x="319.9" y="329.22" width="17.4" height="1.4" fill-opacity="1"/>
<rect x="319.9" y="331.64" width="17.4" height="1.4" fill-opacity="1"/>
<rect x="319.9" y="334.01" width="17.4" height="1.5" fill-opacity="0.85"/>
<rect x="319.9" y="336.58" width="17.4" height="1.2" fill-opacity="1"/>
<rect x="319.9" y="339" width="17.4" height="1.2" fill-opacity="0.85"/>
<rect x="319.9" y="341.32" width="17.4" height="1.4" fill-opacity="1"/>
<rect x="319.9" y="343.74" width="17.4" height="1.4" fill-opacity="1"/>
<rect x="319.9" y="351.1" width="17.4" height="1.2" fill-opacity="0.7"/>
<rect x="319.9" y="353.27" width="17.4" height="1.7" fill-opacity="0.7"/>
<rect x="319.9" y="355.79" width="17.4" height="1.5" fill-opacity="0.55"/>
<rect x="319.9" y="358.11" width="17.4" height="1.7" fill-opacity="1"/>
<rect x="319.9" y="360.63" width="17.4" height="1.5" fill-opacity="0.7"/>
<rect x="319.9" y="363.2" width="17.4" height="1.2" fill-opacity="1"/>
<rect x="319.9" y="367.79" width="17.4" height="1.7" fill-opacity="1"/>
<rect x="319.9" y="372.73" width="17.4" height="1.5" fill-opacity="1"/>
<rect x="319.9" y="387.25" width="17.4" height="1.5" fill-opacity="0.85"/>
<rect x="319.9" y="389.72" width="17.4" height="1.4" fill-opacity="1"/>
<rect x="319.9" y="394.41" width="17.4" height="1.7" fill-opacity="0.85"/>
<rect x="319.9" y="397.08" width="17.4" height="1.2" fill-opacity="1"/>
<rect x="319.9" y="399.25" width="17.4" height="1.7" fill-opacity="1"/>
</g>
<g fill="none" stroke="#000" stroke-width="3">
<rect x="0" y="0" width="317.8" height="121"/>
<rect x="0" y="121" width="317.8" height="301.9"/>
<path d="M-12.6 35.1H-1M-12.6 111.2H-1M-12.6 422.9H-1M-12.6 362.6H-1M-12.6 302.3H-1M-12.6 242H-1M-12.6 181.7H-1M0 423.9V436.2M61.35 423.9V436.2M122.7 423.9V436.2M184.05 423.9V436.2M245.4 423.9V436.2M306.75 423.9V436.2M362 153.6H372.8M362 200.45H372.8M362 247.3H372.8M362 294.15H372.8M362 341H372.8M362 387.85H372.8"/>
</g>
<rect x="340" y="121" width="20.5" height="301.9" fill="url(#vg)" stroke="#000" stroke-width="3"/>
<polyline clip-path="url(#t13)" points="0,111.37 5.12,102.83 9.91,113.08 15.03,106.58 19.81,113.08 24.77,113.08 29.55,113.08 34.16,111.88 38.94,113.08 43.56,106.24 48.68,113.08 53.46,110.51 58.07,111.37 62.86,114.44 67.64,110.51 72.59,108.29 77.38,108.29 81.99,108.29 86.77,107.1 91.38,105.39 96.17,103.68 101.12,101.97 105.9,99.41 110.68,104.19 115.47,104.19 120.42,106.58 125.2,108.81 130.16,110.51 134.94,106.24 139.72,104.19 144.68,39.63 149.63,5.12 154.58,72.08 159.36,61.83 164.15,43.56 168.93,72.08 173.88,89.16 178.84,97.7 183.62,109.32 188.4,112.22 193.18,106.58 198.14,102.31 202.92,107.61 207.7,112.73 212.49,109.66 217.27,112.22 222.05,108.29 226.83,104.19 231.62,111.03 236.4,109.66 241.18,113.59 245.96,106.76 250.75,105.39 255.53,111.03 260.48,112.56 265.27,113.08 269.88,109.32 274.66,111.37 279.44,108.29 284.4,105.9 289.18,112.56 293.96,103.34 298.92,110.51 303.7,110.17 308.48,112.22 313.26,104.53 316.85,113.08" fill="none" stroke="#000" stroke-width="2.7" stroke-linejoin="round"/>
<g class="t">
<text x="308.4" y="25.7" text-anchor="end" style="font-size:22.9px">Burst 13</text>
<text x="-27" y="42.5" text-anchor="end">25.0</text>
<text x="-27" y="118.6" text-anchor="end">0.0</text>
<text x="-27" y="430.3" text-anchor="end">1.0</text>
<text x="-27" y="370" text-anchor="end">1.1</text>
<text x="-27" y="309.7" text-anchor="end">1.2</text>
<text x="-27" y="249.4" text-anchor="end">1.3</text>
<text x="-27" y="189.1" text-anchor="end">1.4</text>
<text x="-0.8" y="465.6" text-anchor="middle">0</text>
<text x="60.55" y="465.6" text-anchor="middle">5</text>
<text x="121.9" y="465.6" text-anchor="middle">10</text>
<text x="183.25" y="465.6" text-anchor="middle">15</text>
<text x="244.6" y="465.6" text-anchor="middle">20</text>
<text x="305.95" y="465.6" text-anchor="middle">25</text>
<text x="386.8" y="161">25</text>
<text x="386.8" y="207.85">20</text>
<text x="386.8" y="254.7">15</text>
<text x="386.8" y="301.55">10</text>
<text x="386.8" y="348.4">5</text>
<text x="386.8" y="395.25">0</text>
<text transform="translate(-71.6,60.5) rotate(-90)" text-anchor="middle">Normalised flux</text>
<text transform="translate(-71.6,271.95) rotate(-90)" text-anchor="middle">Frequency (GHz)</text>
<text x="158.9" y="490.5" text-anchor="middle">Time (ms)</text>
</g>
</g>
<g transform="translate(649,1605.4)">
<g clip-path="url(#c14)"><g filter="url(#h14)">
<rect x="-17" y="122.7" width="351.8" height="300.3" fill="rgb(108,108,108)"/>
<g filter="url(#soft)"><rect x="110" y="325" width="120" height="52" fill="#fff" fill-opacity="0.077"/></g>
<rect x="116.5" y="377.3" width="152.2" height="2.6" fill="#fff" fill-opacity="0.477"/>
<rect x="134" y="377.5" width="86" height="2.2" fill="#fff" fill-opacity="0.273"/>
<rect x="135.1" y="377.3" width="4.2" height="2.6" fill="#fff" fill-opacity="0.204"/>
<rect x="167.2" y="377.3" width="6.2" height="2.6" fill="#fff" fill-opacity="0.204"/>
<rect x="185.8" y="377.3" width="6.2" height="2.6" fill="#fff" fill-opacity="0.204"/>
<rect x="196.2" y="377.3" width="18.6" height="2.6" fill="#fff" fill-opacity="0.204"/>
<rect x="243.8" y="377.3" width="5.2" height="2.6" fill="#fff" fill-opacity="0.204"/>
</g></g>
<rect x="0" y="247.6" width="317.8" height="1.4" fill="#fff"/>
<rect x="0" y="253.7" width="317.8" height="1.4" fill="#fff"/>
<rect x="0" y="274.7" width="317.8" height="2.8" fill="#fff"/>
<rect x="0" y="297" width="317.8" height="3.7" fill="#fff"/>
<rect x="0" y="313.8" width="317.8" height="5.6" fill="#fff"/>
<g fill="#b9b9b9">
<rect x="319.9" y="121" width="17.4" height="18.7"/>
<rect x="319.9" y="406" width="17.4" height="16.9"/>
<rect x="319.9" y="274.7" width="17.4" height="2.8"/>
<rect x="319.9" y="297" width="17.4" height="3.7"/>
<rect x="319.9" y="313.8" width="17.4" height="5.6"/>
<rect x="319.9" y="144.89" width="17.4" height="1.7" fill-opacity="1"/>
<rect x="319.9" y="200.7" width="17.4" height="1.4" fill-opacity="1"/>
<rect x="319.9" y="234.43" width="17.4" height="1.7" fill-opacity="0.7"/>
<rect x="319.9" y="241.79" width="17.4" height="1.5" fill-opacity="0.55"/>
<rect x="319.9" y="246.78" width="17.4" height="1.2" fill-opacity="0.7"/>
<rect x="319.9" y="248.95" width="17.4" height="1.7" fill-opacity="0.55"/>
<rect x="319.9" y="253.89" width="17.4" height="1.5" fill-opacity="1"/>
<rect x="319.9" y="256.31" width="17.4" height="1.5" fill-opacity="0.55"/>
<rect x="319.9" y="270.98" width="17.4" height="1.2" fill-opacity="0.55"/>
<rect x="319.9" y="285.25" width="17.4" height="1.7" fill-opacity="0.7"/>
<rect x="319.9" y="292.51" width="17.4" height="1.7" fill-opacity="0.7"/>
<rect x="319.9" y="319.13" width="17.4" height="1.7" fill-opacity="1"/>
<rect x="319.9" y="350.59" width="17.4" height="1.7" fill-opacity="1"/>
<rect x="319.9" y="353.26" width="17.4" height="1.2" fill-opacity="1"/>
<rect x="319.9" y="389.41" width="17.4" height="1.5" fill-opacity="1"/>
<rect x="319.9" y="391.88" width="17.4" height="1.4" fill-opacity="1"/>
<rect x="319.9" y="394.4" width="17.4" height="1.2" fill-opacity="0.85"/>
</g>
<g fill="none" stroke="#000" stroke-width="3">
<rect x="0" y="0" width="317.8" height="121"/>
<rect x="0" y="121" width="317.8" height="301.9"/>
<path d="M-12.6 5.8H-1M-12.6 88H-1M-12.6 422.9H-1M-12.6 362.6H-1M-12.6 302.3H-1M-12.6 242H-1M-12.6 181.7H-1M0 423.9V436.2M61.35 423.9V436.2M122.7 423.9V436.2M184.05 423.9V436.2M245.4 423.9V436.2M306.75 423.9V436.2M362 176.3H372.8M362 235.5H372.8M362 294.7H372.8M362 353.9H372.8M362 413.1H372.8"/>
</g>
<rect x="340" y="121" width="20.5" height="301.9" fill="url(#vg)" stroke="#000" stroke-width="3"/>
<polyline clip-path="url(#t14)" points="0,94.29 4.78,108.29 9.57,97.7 14.35,82.33 19.13,78.91 23.91,67.81 28.7,91.72 33.65,113.93 38.43,95.99 43.21,101.46 48,107.1 52.78,92.58 57.56,73.45 62.35,86.6 67.13,115.13 72.08,54.66 76.86,76.01 81.65,49.53 86.43,68.67 91.38,58.93 96.17,65.25 100.95,63.88 105.73,65.25 110.68,38.26 115.47,31.94 120.25,29.38 125.03,15.71 129.81,45.61 134.6,38.77 139.55,5.12 144.33,19.13 149.12,23.4 153.9,27.33 158.68,41.85 163.63,34.5 168.42,25.11 173.2,5.98 177.98,24.6 182.77,21.35 187.72,10.25 192.5,23.4 197.28,15.71 202.07,38.77 206.85,6.83 211.8,37.58 216.59,22.21 221.54,81.99 226.32,66.96 231.1,62.69 235.89,37.07 240.67,65.25 245.62,105.39 250.41,68.67 255.19,62.69 259.97,86.6 264.75,48.51 269.54,56.71 274.32,49.53 279.27,88.31 284.06,97.36 289.01,80.62 293.79,61.83 298.57,58.93 303.36,82.33 308.14,82.67 312.92,96.51 316.85,82.33" fill="none" stroke="#000" stroke-width="2.7" stroke-linejoin="round"/>
<g class="t">
<text x="308.4" y="25.7" text-anchor="end" style="font-size:22.9px">Burst 14</text>
<text x="-27" y="13.2" text-anchor="end">5.0</text>
<text x="-27" y="95.4" text-anchor="end">0.0</text>
<text x="-27" y="430.3" text-anchor="end">1.0</text>
<text x="-27" y="370" text-anchor="end">1.1</text>
<text x="-27" y="309.7" text-anchor="end">1.2</text>
<text x="-27" y="249.4" text-anchor="end">1.3</text>
<text x="-27" y="189.1" text-anchor="end">1.4</text>
<text x="-0.8" y="465.6" text-anchor="middle">0</text>
<text x="60.55" y="465.6" text-anchor="middle">5</text>
<text x="121.9" y="465.6" text-anchor="middle">10</text>
<text x="183.25" y="465.6" text-anchor="middle">15</text>
<text x="244.6" y="465.6" text-anchor="middle">20</text>
<text x="305.95" y="465.6" text-anchor="middle">25</text>
<text x="386.8" y="183.7">4</text>
<text x="386.8" y="242.9">2</text>
<text x="386.8" y="302.1">0</text>
<text x="386.8" y="361.3">−2</text>
<text x="386.8" y="420.5">−4</text>
<text x="158.9" y="490.5" text-anchor="middle">Time (ms)</text>
</g>
</g>
<g transform="translate(1180,1605.4)">
<g clip-path="url(#c15)"><g filter="url(#h15)">
<rect x="-17" y="122.7" width="351.8" height="300.3" fill="rgb(129,129,129)"/>
</g></g>
<rect x="0" y="260.1" width="317.8" height="3.9" fill="#fff"/>
<rect x="0" y="297" width="317.8" height="3.4" fill="#fff"/>
<rect x="0" y="313.8" width="317.8" height="5" fill="#fff"/>
<g fill="#b9b9b9">
<rect x="319.9" y="121" width="17.4" height="18.7"/>
<rect x="319.9" y="406" width="17.4" height="16.9"/>
<rect x="319.9" y="260.1" width="17.4" height="3.9"/>
<rect x="319.9" y="297" width="17.4" height="3.4"/>
<rect x="319.9" y="313.8" width="17.4" height="5"/>
<rect x="319.9" y="169.34" width="17.4" height="1.2" fill-opacity="1"/>
<rect x="319.9" y="217.74" width="17.4" height="1.2" fill-opacity="1"/>
<rect x="319.9" y="227.17" width="17.4" height="1.7" fill-opacity="0.7"/>
<rect x="319.9" y="229.74" width="17.4" height="1.4" fill-opacity="1"/>
<rect x="319.9" y="246.53" width="17.4" height="1.7" fill-opacity="0.7"/>
<rect x="319.9" y="278.09" width="17.4" height="1.5" fill-opacity="0.7"/>
<rect x="319.9" y="304.76" width="17.4" height="1.4" fill-opacity="0.55"/>
<rect x="319.9" y="316.86" width="17.4" height="1.4" fill-opacity="0.55"/>
<rect x="319.9" y="336.32" width="17.4" height="1.2" fill-opacity="1"/>
<rect x="319.9" y="355.68" width="17.4" height="1.2" fill-opacity="1"/>
<rect x="319.9" y="396.82" width="17.4" height="1.2" fill-opacity="1"/>
</g>
<g fill="none" stroke="#000" stroke-width="3">
<rect x="0" y="0" width="317.8" height="121"/>
<rect x="0" y="121" width="317.8" height="301.9"/>
<path d="M-12.6 22.3H-1M-12.6 91H-1M-12.6 422.9H-1M-12.6 362.6H-1M-12.6 302.3H-1M-12.6 242H-1M-12.6 181.7H-1M0 423.9V436.2M61.35 423.9V436.2M122.7 423.9V436.2M184.05 423.9V436.2M245.4 423.9V436.2M306.75 423.9V436.2M362 121.8H372.8M362 158.8H372.8M362 195.8H372.8M362 232.8H372.8M362 269.8H372.8M362 306.8H372.8M362 343.8H372.8M362 380.8H372.8M362 417.8H372.8"/>
</g>
<rect x="340" y="121" width="20.5" height="301.9" fill="url(#vg)" stroke="#000" stroke-width="3"/>
<polyline clip-path="url(#t15)" points="0,86.6 4.27,113.08 9.05,87.11 14.01,108.81 18.79,97.36 23.57,95.48 28.35,101.97 33.14,100.78 37.92,101.46 42.7,99.41 47.48,62.69 52.44,99.41 57.22,96.85 62,61.32 66.79,90.87 71.74,106.24 76.52,87.45 81.3,64.39 86.09,99.41 90.87,84.04 95.65,60.98 100.44,48.51 105.39,78.4 110.17,68.67 114.95,76.69 119.74,54.15 124.69,60.98 129.47,53.63 134.26,54.66 139.21,65.25 143.99,47.83 148.95,53.29 153.73,29.38 158.17,5.12 163.12,77.21 168.08,9.74 172.86,38.26 177.64,44.41 182.42,43.9 187.38,63.54 192.16,56.71 196.94,79.77 201.73,88.31 206.51,61.83 211.29,78.91 216.24,112.56 221.03,90.87 225.81,63.54 230.59,66.96 235.37,86.6 240.16,90.53 245.11,78.4 249.89,77.21 254.68,105.39 259.46,101.97 264.41,92.58 269.19,73.79 274.15,73.45 278.93,78.91 283.71,103.34 288.67,86.6 293.45,96.34 298.23,95.14 303.19,74.64 307.97,59.27 312.92,104.53 316.85,113.08" fill="none" stroke="#000" stroke-width="2.7" stroke-linejoin="round"/>
<g class="t">
<text x="308.4" y="25.7" text-anchor="end" style="font-size:22.9px">Burst 15</text>
<text x="-27" y="29.7" text-anchor="end">5.0</text>
<text x="-27" y="98.4" text-anchor="end">0.0</text>
<text x="-27" y="430.3" text-anchor="end">1.0</text>
<text x="-27" y="370" text-anchor="end">1.1</text>
<text x="-27" y="309.7" text-anchor="end">1.2</text>
<text x="-27" y="249.4" text-anchor="end">1.3</text>
<text x="-27" y="189.1" text-anchor="end">1.4</text>
<text x="-0.8" y="465.6" text-anchor="middle">0</text>
<text x="60.55" y="465.6" text-anchor="middle">5</text>
<text x="121.9" y="465.6" text-anchor="middle">10</text>
<text x="183.25" y="465.6" text-anchor="middle">15</text>
<text x="244.6" y="465.6" text-anchor="middle">20</text>
<text x="305.95" y="465.6" text-anchor="middle">25</text>
<text x="386.8" y="129.2">4</text>
<text x="386.8" y="166.2">3</text>
<text x="386.8" y="203.2">2</text>
<text x="386.8" y="240.2">1</text>
<text x="386.8" y="277.2">0</text>
<text x="386.8" y="314.2">−1</text>
<text x="386.8" y="351.2">−2</text>
<text x="386.8" y="388.2">−3</text>
<text x="386.8" y="425.2">−4</text>
<text x="158.9" y="490.5" text-anchor="middle">Time (ms)</text>
</g>
</g>
<text class="b" x="6" y="35.5">a</text>
<text class="b" x="7" y="159">b</text>
</svg>
</body></html>
